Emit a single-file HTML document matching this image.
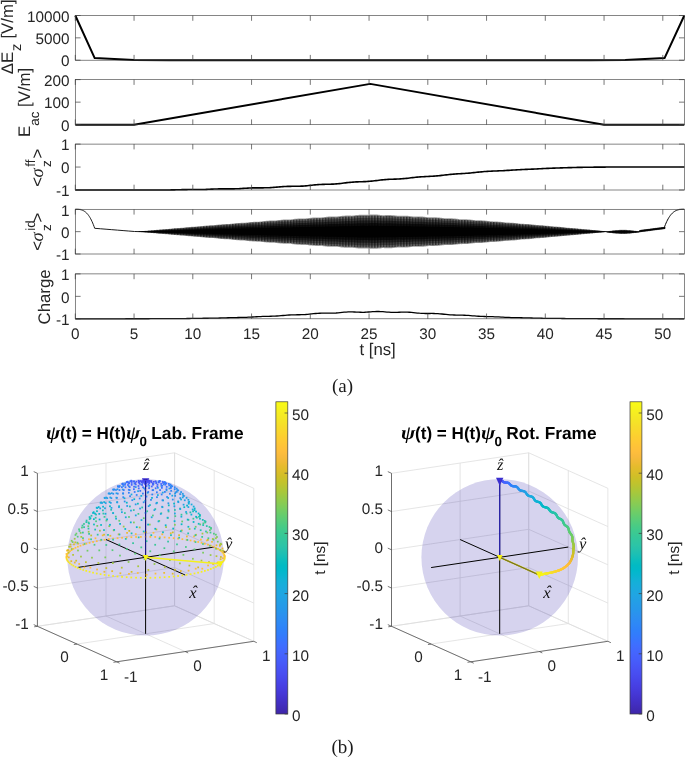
<!DOCTYPE html>
<html><head><meta charset="utf-8"><title>figure</title>
<style>html,body{margin:0;padding:0;background:#fff}svg{display:block}</style></head>
<body><svg width="685" height="757" viewBox="0 0 685 757" font-family="Liberation Sans, sans-serif" text-rendering="geometricPrecision">
<rect width="685" height="757" fill="#fff"/>
<g opacity="0.999">
<defs><pattern id="st" width="2.9" height="100" patternUnits="userSpaceOnUse"><rect width="3" height="100" fill="#676767"/><rect width="1.5" height="100" fill="#303030"/></pattern></defs>
<path d="M75.30 15.50 L94.69 58.05 L134.05 60.07 L169.30 60.20 L589.95 60.20 L625.20 60.07 L664.56 58.05 L684.30 15.50" fill="none" stroke="#000" stroke-width="2.0" stroke-linejoin="round" />
<rect x="75.30" y="15.50" width="609.00" height="44.70" fill="none" stroke="#3c3c3c" stroke-width="0.62"/>
<text x="69.6" y="21.70" text-anchor="end" font-size="15.3" fill="#262626">10000</text>
<text x="69.6" y="44.05" text-anchor="end" font-size="15.3" fill="#262626">5000</text>
<text x="69.6" y="66.40" text-anchor="end" font-size="15.3" fill="#262626">0</text>
<path d="M75.30 15.50v5.30 M75.30 60.20v-5.30 M134.05 15.50v5.30 M134.05 60.20v-5.30 M192.80 15.50v5.30 M192.80 60.20v-5.30 M251.55 15.50v5.30 M251.55 60.20v-5.30 M310.30 15.50v5.30 M310.30 60.20v-5.30 M369.05 15.50v5.30 M369.05 60.20v-5.30 M427.80 15.50v5.30 M427.80 60.20v-5.30 M486.55 15.50v5.30 M486.55 60.20v-5.30 M545.30 15.50v5.30 M545.30 60.20v-5.30 M604.05 15.50v5.30 M604.05 60.20v-5.30 M662.80 15.50v5.30 M662.80 60.20v-5.30 M75.30 15.50h5.30 M684.30 15.50h-5.30 M75.30 37.85h5.30 M684.30 37.85h-5.30 M75.30 60.20h5.30 M684.30 60.20h-5.30 " stroke="#3c3c3c" stroke-width="0.7" fill="none"/>
<path d="M75.30 124.70 L134.05 124.70 L370.23 83.88 L604.05 124.70 L684.30 124.70" fill="none" stroke="#000" stroke-width="2.0" stroke-linejoin="round" />
<rect x="75.30" y="79.60" width="609.00" height="45.10" fill="none" stroke="#3c3c3c" stroke-width="0.62"/>
<text x="69.6" y="85.80" text-anchor="end" font-size="15.3" fill="#262626">200</text>
<text x="69.6" y="108.35" text-anchor="end" font-size="15.3" fill="#262626">100</text>
<text x="69.6" y="130.90" text-anchor="end" font-size="15.3" fill="#262626">0</text>
<path d="M75.30 79.60v5.30 M75.30 124.70v-5.30 M134.05 79.60v5.30 M134.05 124.70v-5.30 M192.80 79.60v5.30 M192.80 124.70v-5.30 M251.55 79.60v5.30 M251.55 124.70v-5.30 M310.30 79.60v5.30 M310.30 124.70v-5.30 M369.05 79.60v5.30 M369.05 124.70v-5.30 M427.80 79.60v5.30 M427.80 124.70v-5.30 M486.55 79.60v5.30 M486.55 124.70v-5.30 M545.30 79.60v5.30 M545.30 124.70v-5.30 M604.05 79.60v5.30 M604.05 124.70v-5.30 M662.80 79.60v5.30 M662.80 124.70v-5.30 M75.30 79.60h5.30 M684.30 79.60h-5.30 M75.30 102.15h5.30 M684.30 102.15h-5.30 M75.30 124.70h5.30 M684.30 124.70h-5.30 " stroke="#3c3c3c" stroke-width="0.7" fill="none"/>
<path d="M75.30 190.00 L76.83 190.00 L78.35 190.00 L79.88 190.00 L81.41 190.00 L82.93 190.00 L84.46 190.00 L85.98 190.00 L87.51 190.00 L89.04 190.00 L90.56 190.00 L92.09 190.00 L93.62 190.00 L95.14 190.00 L96.67 190.00 L98.19 190.00 L99.72 190.00 L101.25 190.00 L102.77 190.00 L104.30 190.00 L105.83 190.00 L107.35 190.00 L108.88 190.00 L110.41 190.00 L111.93 190.00 L113.46 190.00 L114.98 190.00 L116.51 190.00 L118.04 190.00 L119.56 190.00 L121.09 190.00 L122.62 190.00 L124.14 190.00 L125.67 190.00 L127.19 190.00 L128.72 190.00 L130.25 190.00 L131.77 190.00 L133.30 190.00 L134.83 190.00 L136.35 190.00 L137.88 190.00 L139.41 190.00 L140.93 190.00 L142.46 190.00 L143.98 189.99 L145.51 189.98 L147.04 189.98 L148.56 189.97 L150.09 189.96 L151.62 189.96 L153.14 189.95 L154.67 189.95 L156.19 189.95 L157.72 189.95 L159.25 189.96 L160.77 189.96 L162.30 189.96 L163.83 189.96 L165.35 189.96 L166.88 189.96 L168.41 189.95 L169.93 189.93 L171.46 189.91 L172.98 189.89 L174.51 189.86 L176.04 189.82 L177.56 189.78 L179.09 189.74 L180.62 189.69 L182.14 189.66 L183.67 189.62 L185.19 189.60 L186.72 189.58 L188.25 189.56 L189.77 189.56 L191.30 189.55 L192.83 189.56 L194.35 189.56 L195.88 189.56 L197.41 189.56 L198.93 189.55 L200.46 189.54 L201.98 189.51 L203.51 189.47 L205.04 189.43 L206.56 189.37 L208.09 189.31 L209.62 189.24 L211.14 189.17 L212.67 189.10 L214.19 189.03 L215.72 188.98 L217.25 188.93 L218.77 188.89 L220.30 188.87 L221.83 188.86 L223.35 188.85 L224.88 188.86 L226.41 188.87 L227.93 188.87 L229.46 188.88 L230.98 188.88 L232.51 188.87 L234.04 188.84 L235.56 188.80 L237.09 188.75 L238.62 188.68 L240.14 188.60 L241.67 188.50 L243.19 188.41 L244.72 188.31 L246.25 188.21 L247.77 188.12 L249.30 188.04 L250.83 187.97 L252.35 187.92 L253.88 187.88 L255.41 187.86 L256.93 187.84 L258.46 187.84 L259.98 187.84 L261.51 187.84 L263.04 187.83 L264.56 187.82 L266.09 187.79 L267.62 187.74 L269.14 187.68 L270.67 187.59 L272.19 187.49 L273.72 187.38 L275.25 187.25 L276.77 187.11 L278.30 186.98 L279.83 186.84 L281.35 186.72 L282.88 186.61 L284.41 186.52 L285.93 186.45 L287.46 186.39 L288.98 186.35 L290.51 186.33 L292.04 186.32 L293.56 186.31 L295.09 186.30 L296.62 186.29 L298.14 186.26 L299.67 186.22 L301.19 186.16 L302.72 186.08 L304.25 185.97 L305.77 185.84 L307.30 185.70 L308.83 185.54 L310.35 185.37 L311.88 185.20 L313.41 185.04 L314.93 184.89 L316.46 184.75 L317.98 184.63 L319.51 184.53 L321.04 184.46 L322.56 184.39 L324.09 184.35 L325.62 184.32 L327.14 184.29 L328.67 184.26 L330.19 184.22 L331.72 184.17 L333.25 184.10 L334.77 184.01 L336.30 183.89 L337.83 183.76 L339.35 183.60 L340.88 183.43 L342.41 183.24 L343.93 183.04 L345.46 182.85 L346.98 182.66 L348.51 182.49 L350.04 182.33 L351.56 182.19 L353.09 182.08 L354.62 181.98 L356.14 181.90 L357.67 181.84 L359.19 181.79 L360.72 181.75 L362.25 181.70 L363.77 181.65 L365.30 181.58 L366.83 181.50 L368.35 181.40 L369.88 181.28 L371.41 181.13 L372.93 180.97 L374.46 180.80 L375.98 180.61 L377.51 180.42 L379.04 180.23 L380.56 180.05 L382.09 179.89 L383.62 179.73 L385.14 179.60 L386.67 179.49 L388.19 179.40 L389.72 179.32 L391.25 179.26 L392.77 179.21 L394.30 179.17 L395.83 179.12 L397.35 179.06 L398.88 178.99 L400.41 178.90 L401.93 178.80 L403.46 178.67 L404.98 178.53 L406.51 178.37 L408.04 178.19 L409.56 178.01 L411.09 177.82 L412.62 177.64 L414.14 177.46 L415.67 177.29 L417.19 177.13 L418.72 177.00 L420.25 176.88 L421.77 176.77 L423.30 176.68 L424.83 176.61 L426.35 176.54 L427.88 176.47 L429.41 176.40 L430.93 176.32 L432.46 176.24 L433.98 176.14 L435.51 176.02 L437.04 175.89 L438.56 175.74 L440.09 175.58 L441.62 175.40 L443.14 175.23 L444.67 175.04 L446.19 174.87 L447.72 174.69 L449.25 174.53 L450.77 174.37 L452.30 174.23 L453.83 174.11 L455.35 173.99 L456.88 173.89 L458.41 173.80 L459.93 173.71 L461.46 173.62 L462.98 173.53 L464.51 173.43 L466.04 173.32 L467.56 173.21 L469.09 173.08 L470.62 172.94 L472.14 172.79 L473.67 172.64 L475.19 172.47 L476.72 172.31 L478.25 172.14 L479.77 171.99 L481.30 171.84 L482.83 171.70 L484.35 171.57 L485.88 171.46 L487.41 171.36 L488.93 171.27 L490.46 171.19 L491.98 171.12 L493.51 171.05 L495.04 170.99 L496.56 170.93 L498.09 170.88 L499.62 170.82 L501.14 170.75 L502.67 170.68 L504.19 170.60 L505.72 170.51 L507.25 170.42 L508.77 170.33 L510.30 170.23 L511.83 170.13 L513.35 170.04 L514.88 169.94 L516.41 169.85 L517.93 169.77 L519.46 169.69 L520.98 169.61 L522.51 169.54 L524.04 169.48 L525.56 169.41 L527.09 169.35 L528.62 169.29 L530.14 169.23 L531.67 169.16 L533.19 169.10 L534.72 169.02 L536.25 168.95 L537.77 168.87 L539.30 168.80 L540.83 168.72 L542.35 168.64 L543.88 168.56 L545.41 168.48 L546.93 168.41 L548.46 168.34 L549.98 168.27 L551.51 168.21 L553.04 168.15 L554.56 168.10 L556.09 168.04 L557.62 168.00 L559.14 167.95 L560.67 167.90 L562.19 167.85 L563.72 167.80 L565.25 167.76 L566.77 167.71 L568.30 167.66 L569.83 167.62 L571.35 167.58 L572.88 167.53 L574.41 167.49 L575.93 167.46 L577.46 167.42 L578.98 167.39 L580.51 167.36 L582.04 167.33 L583.56 167.30 L585.09 167.28 L586.62 167.26 L588.14 167.24 L589.67 167.22 L591.19 167.21 L592.72 167.19 L594.25 167.17 L595.77 167.16 L597.30 167.14 L598.83 167.13 L600.35 167.11 L601.88 167.10 L603.41 167.09 L604.93 167.08 L606.46 167.07 L607.98 167.07 L609.51 167.06 L611.04 167.06 L612.56 167.05 L614.09 167.05 L615.62 167.05 L617.14 167.05 L618.67 167.05 L620.19 167.05 L621.72 167.05 L623.25 167.05 L624.77 167.05 L626.30 167.05 L627.83 167.05 L629.35 167.05 L630.88 167.05 L632.41 167.05 L633.93 167.05 L635.46 167.05 L636.98 167.05 L638.51 167.05 L640.04 167.05 L641.56 167.05 L643.09 167.05 L644.62 167.05 L646.14 167.05 L647.67 167.05 L649.19 167.05 L650.72 167.05 L652.25 167.05 L653.77 167.05 L655.30 167.05 L656.83 167.05 L658.35 167.05 L659.88 167.05 L661.41 167.05 L662.93 167.05 L664.46 167.05 L665.98 167.05 L667.51 167.05 L669.04 167.05 L670.56 167.05 L672.09 167.05 L673.62 167.05 L675.14 167.05 L676.67 167.05 L678.19 167.05 L679.72 167.05 L681.25 167.05 L682.77 167.05 L684.30 167.05" fill="none" stroke="#000" stroke-width="1.6" stroke-linejoin="round" />
<rect x="75.30" y="144.10" width="609.00" height="45.90" fill="none" stroke="#3c3c3c" stroke-width="0.62"/>
<text x="69.6" y="150.30" text-anchor="end" font-size="15.3" fill="#262626">1</text>
<text x="69.6" y="173.25" text-anchor="end" font-size="15.3" fill="#262626">0</text>
<text x="69.6" y="196.20" text-anchor="end" font-size="15.3" fill="#262626">-1</text>
<path d="M75.30 144.10v5.30 M75.30 190.00v-5.30 M134.05 144.10v5.30 M134.05 190.00v-5.30 M192.80 144.10v5.30 M192.80 190.00v-5.30 M251.55 144.10v5.30 M251.55 190.00v-5.30 M310.30 144.10v5.30 M310.30 190.00v-5.30 M369.05 144.10v5.30 M369.05 190.00v-5.30 M427.80 144.10v5.30 M427.80 190.00v-5.30 M486.55 144.10v5.30 M486.55 190.00v-5.30 M545.30 144.10v5.30 M545.30 190.00v-5.30 M604.05 144.10v5.30 M604.05 190.00v-5.30 M662.80 144.10v5.30 M662.80 190.00v-5.30 M75.30 144.10h5.30 M684.30 144.10h-5.30 M75.30 167.05h5.30 M684.30 167.05h-5.30 M75.30 190.00h5.30 M684.30 190.00h-5.30 " stroke="#3c3c3c" stroke-width="0.7" fill="none"/>
<path d="M138.75 231.20 L139.80 231.20 L140.86 231.20 L141.91 231.13 L142.97 231.04 L144.02 230.95 L145.08 230.86 L146.13 230.77 L147.19 230.68 L148.24 230.59 L149.30 230.50 L150.35 230.41 L151.41 230.33 L152.46 230.24 L153.52 230.15 L154.57 230.05 L155.63 229.95 L156.68 229.86 L157.74 229.76 L158.79 229.67 L159.85 229.57 L160.90 229.48 L161.96 229.40 L163.01 229.31 L164.07 229.23 L165.12 229.15 L166.18 229.07 L167.23 229.00 L168.29 228.90 L169.34 228.80 L170.40 228.70 L171.45 228.59 L172.51 228.49 L173.56 228.40 L174.62 228.30 L175.67 228.21 L176.73 228.12 L177.78 228.04 L178.84 227.96 L179.89 227.89 L180.95 227.82 L182.00 227.75 L183.06 227.68 L184.11 227.57 L185.17 227.46 L186.22 227.35 L187.28 227.24 L188.33 227.14 L189.39 227.04 L190.44 226.95 L191.50 226.86 L192.55 226.78 L193.61 226.70 L194.66 226.63 L195.72 226.57 L196.77 226.51 L197.82 226.45 L198.88 226.36 L199.93 226.24 L200.99 226.13 L202.04 226.01 L203.10 225.91 L204.15 225.80 L205.21 225.70 L206.26 225.61 L207.32 225.53 L208.37 225.46 L209.43 225.39 L210.48 225.33 L211.54 225.27 L212.59 225.22 L213.65 225.18 L214.70 225.06 L215.76 224.94 L216.81 224.82 L217.87 224.70 L218.92 224.59 L219.98 224.49 L221.03 224.39 L222.09 224.31 L223.14 224.23 L224.20 224.17 L225.25 224.11 L226.31 224.06 L227.36 224.02 L228.42 223.98 L229.47 223.91 L230.53 223.78 L231.58 223.65 L232.64 223.53 L233.69 223.41 L234.75 223.30 L235.80 223.20 L236.86 223.12 L237.91 223.04 L238.97 222.97 L240.02 222.92 L241.08 222.87 L242.13 222.83 L243.19 222.80 L244.24 222.77 L245.30 222.66 L246.35 222.53 L247.41 222.40 L248.46 222.27 L249.52 222.16 L250.57 222.05 L251.63 221.96 L252.68 221.88 L253.74 221.81 L254.79 221.75 L255.84 221.71 L256.90 221.67 L257.95 221.65 L259.01 221.63 L260.06 221.59 L261.12 221.45 L262.17 221.31 L263.23 221.18 L264.28 221.06 L265.34 220.94 L266.39 220.84 L267.45 220.76 L268.50 220.68 L269.56 220.62 L270.61 220.58 L271.67 220.55 L272.72 220.53 L273.78 220.51 L274.83 220.50 L275.89 220.41 L276.94 220.27 L278.00 220.13 L279.05 220.00 L280.11 219.88 L281.16 219.77 L282.22 219.68 L283.27 219.60 L284.33 219.54 L285.38 219.49 L286.44 219.46 L287.49 219.44 L288.55 219.43 L289.60 219.43 L290.66 219.43 L291.71 219.28 L292.77 219.14 L293.82 219.00 L294.88 218.87 L295.93 218.76 L296.99 218.65 L298.04 218.57 L299.10 218.50 L300.15 218.45 L301.21 218.42 L302.26 218.40 L303.32 218.39 L304.37 218.39 L305.43 218.41 L306.48 218.35 L307.54 218.20 L308.59 218.05 L309.65 217.92 L310.70 217.79 L311.76 217.68 L312.81 217.59 L313.87 217.51 L314.92 217.46 L315.97 217.42 L317.03 217.40 L318.08 217.39 L319.14 217.40 L320.19 217.42 L321.25 217.44 L322.30 217.31 L323.36 217.16 L324.41 217.02 L325.47 216.88 L326.52 216.77 L327.58 216.66 L328.63 216.58 L329.69 216.52 L330.74 216.47 L331.80 216.45 L332.85 216.44 L333.91 216.45 L334.96 216.47 L336.02 216.50 L337.07 216.48 L338.13 216.33 L339.18 216.18 L340.24 216.04 L341.29 215.91 L342.35 215.80 L343.40 215.71 L344.46 215.63 L345.51 215.58 L346.57 215.55 L347.62 215.54 L348.68 215.55 L349.73 215.57 L350.79 215.61 L351.84 215.65 L352.90 215.55 L353.95 215.40 L355.01 215.25 L356.06 215.11 L357.12 214.99 L358.17 214.89 L359.23 214.81 L360.28 214.75 L361.34 214.71 L362.39 214.70 L363.45 214.70 L364.50 214.73 L365.56 214.76 L366.61 214.81 L367.67 214.83 L368.72 214.67 L369.78 214.58 L370.83 214.53 L371.89 214.49 L372.94 214.46 L373.99 214.46 L375.05 214.48 L376.10 214.53 L377.16 214.59 L378.21 214.68 L379.27 214.79 L380.32 214.91 L381.38 215.04 L382.43 215.18 L383.49 215.21 L384.54 215.15 L385.60 215.10 L386.65 215.06 L387.71 215.03 L388.76 215.03 L389.82 215.04 L390.87 215.08 L391.93 215.14 L392.98 215.22 L394.04 215.32 L395.09 215.44 L396.15 215.57 L397.20 215.71 L398.26 215.85 L399.31 215.80 L400.37 215.76 L401.42 215.72 L402.48 215.69 L403.53 215.69 L404.59 215.70 L405.64 215.73 L406.70 215.78 L407.75 215.86 L408.81 215.95 L409.86 216.06 L410.92 216.19 L411.97 216.32 L413.03 216.47 L414.08 216.54 L415.14 216.50 L416.19 216.47 L417.25 216.44 L418.30 216.43 L419.36 216.44 L420.41 216.47 L421.47 216.52 L422.52 216.59 L423.58 216.67 L424.63 216.78 L425.69 216.90 L426.74 217.03 L427.80 217.17 L428.85 217.32 L429.91 217.32 L430.96 217.30 L432.01 217.28 L433.07 217.27 L434.12 217.28 L435.18 217.30 L436.23 217.35 L437.29 217.41 L438.34 217.49 L439.40 217.59 L440.45 217.70 L441.51 217.83 L442.56 217.97 L443.62 218.11 L444.67 218.22 L445.73 218.20 L446.78 218.19 L447.84 218.18 L448.89 218.19 L449.95 218.22 L451.00 218.26 L452.06 218.32 L453.11 218.39 L454.17 218.48 L455.22 218.59 L456.28 218.71 L457.33 218.85 L458.39 218.99 L459.44 219.13 L460.50 219.18 L461.55 219.17 L462.61 219.18 L463.66 219.19 L464.72 219.21 L465.77 219.25 L466.83 219.30 L467.88 219.38 L468.94 219.46 L469.99 219.56 L471.05 219.68 L472.10 219.81 L473.16 219.94 L474.21 220.09 L475.27 220.22 L476.32 220.23 L477.38 220.23 L478.43 220.25 L479.49 220.28 L480.54 220.32 L481.60 220.37 L482.65 220.44 L483.71 220.52 L484.76 220.61 L485.82 220.72 L486.87 220.85 L487.93 220.98 L488.98 221.11 L490.03 221.26 L491.09 221.34 L492.14 221.35 L493.20 221.38 L494.25 221.41 L495.31 221.45 L496.36 221.50 L497.42 221.57 L498.47 221.65 L499.53 221.74 L500.58 221.84 L501.64 221.96 L502.69 222.08 L503.75 222.21 L504.80 222.35 L505.86 222.49 L506.91 222.53 L507.97 222.56 L509.02 222.59 L510.08 222.64 L511.13 222.69 L512.19 222.76 L513.24 222.83 L514.30 222.92 L515.35 223.02 L516.41 223.13 L517.46 223.25 L518.52 223.38 L519.57 223.51 L520.63 223.64 L521.68 223.74 L522.74 223.78 L523.79 223.83 L524.85 223.88 L525.90 223.94 L526.96 224.00 L528.01 224.08 L529.07 224.16 L530.12 224.26 L531.18 224.36 L532.23 224.48 L533.29 224.60 L534.34 224.72 L535.40 224.85 L536.45 224.98 L537.51 225.05 L538.56 225.10 L539.62 225.16 L540.67 225.22 L541.73 225.29 L542.78 225.37 L543.84 225.45 L544.89 225.55 L545.95 225.65 L547.00 225.75 L548.06 225.87 L549.11 225.99 L550.16 226.11 L551.22 226.23 L552.27 226.34 L553.33 226.41 L554.38 226.47 L555.44 226.54 L556.49 226.61 L557.55 226.69 L558.60 226.78 L559.66 226.87 L560.71 226.97 L561.77 227.07 L562.82 227.18 L563.88 227.29 L564.93 227.41 L565.99 227.52 L567.04 227.64 L568.10 227.73 L569.15 227.80 L570.21 227.88 L571.26 227.96 L572.32 228.04 L573.37 228.13 L574.43 228.22 L575.48 228.32 L576.54 228.42 L577.59 228.52 L578.65 228.63 L579.70 228.74 L580.76 228.85 L581.81 228.96 L582.87 229.07 L583.92 229.15 L584.98 229.23 L586.03 229.32 L587.09 229.41 L588.14 229.50 L589.20 229.60 L590.25 229.69 L591.31 229.79 L592.36 229.89 L593.42 229.99 L594.47 230.10 L595.53 230.20 L596.58 230.30 L597.64 230.40 L598.69 230.50 L599.75 230.59 L600.80 230.69 L601.86 230.78 L602.91 230.88 L603.97 230.98 L605.02 231.07 L606.08 231.17 L607.13 231.31 L608.18 231.14 L609.24 230.98 L610.29 230.82 L611.35 230.66 L612.40 230.52 L613.46 230.38 L614.51 230.25 L615.57 230.14 L616.62 230.04 L617.68 229.95 L618.73 229.88 L619.79 229.82 L620.84 229.78 L621.90 229.76 L622.95 229.75 L624.01 229.76 L625.06 229.79 L626.12 229.83 L627.17 229.89 L628.23 229.97 L629.28 230.06 L630.34 230.16 L631.39 230.28 L632.45 230.41 L633.50 230.55 L634.56 230.69 L635.61 230.85 L636.67 231.01 L637.72 231.17 L638.78 231.34 L639.83 229.90 L640.89 229.77 L641.94 229.63 L643.00 229.49 L644.05 229.36 L645.11 229.22 L646.16 229.08 L647.22 228.95 L648.27 228.81 L649.33 228.67 L650.38 228.54 L651.44 228.40 L652.49 228.26 L653.55 228.13 L654.60 227.99 L655.66 227.85 L656.71 227.72 L657.77 227.58 L658.82 227.44 L659.88 227.31 L660.93 227.17 L661.99 227.03 L663.04 226.89 L664.10 226.76 L665.15 226.62 L665.15 229.08 L664.10 229.22 L663.04 229.35 L661.99 229.49 L660.93 229.63 L659.88 229.76 L658.82 229.90 L657.77 230.04 L656.71 230.17 L655.66 230.31 L654.60 230.45 L653.55 230.58 L652.49 230.72 L651.44 230.86 L650.38 231.00 L649.33 231.13 L648.27 231.27 L647.22 231.41 L646.16 231.54 L645.11 231.68 L644.05 231.82 L643.00 231.95 L641.94 232.09 L640.89 232.23 L639.83 232.36 L638.78 232.40 L637.72 232.57 L636.67 232.74 L635.61 232.90 L634.56 233.05 L633.50 233.20 L632.45 233.34 L631.39 233.47 L630.34 233.59 L629.28 233.69 L628.23 233.78 L627.17 233.86 L626.12 233.92 L625.06 233.96 L624.01 233.99 L622.95 234.00 L621.90 233.99 L620.84 233.97 L619.79 233.93 L618.73 233.87 L617.68 233.80 L616.62 233.71 L615.57 233.61 L614.51 233.49 L613.46 233.37 L612.40 233.23 L611.35 233.08 L610.29 232.93 L609.24 232.77 L608.18 232.60 L607.13 232.44 L606.08 232.13 L605.02 232.23 L603.97 232.32 L602.91 232.42 L601.86 232.52 L600.80 232.61 L599.75 232.71 L598.69 232.80 L597.64 232.90 L596.58 233.00 L595.53 233.10 L594.47 233.20 L593.42 233.31 L592.36 233.41 L591.31 233.51 L590.25 233.61 L589.20 233.70 L588.14 233.80 L587.09 233.89 L586.03 233.98 L584.98 234.07 L583.92 234.15 L582.87 234.23 L581.81 234.34 L580.76 234.45 L579.70 234.56 L578.65 234.67 L577.59 234.78 L576.54 234.88 L575.48 234.98 L574.43 235.08 L573.37 235.17 L572.32 235.26 L571.26 235.34 L570.21 235.42 L569.15 235.50 L568.10 235.57 L567.04 235.66 L565.99 235.78 L564.93 235.89 L563.88 236.01 L562.82 236.12 L561.77 236.23 L560.71 236.33 L559.66 236.43 L558.60 236.52 L557.55 236.61 L556.49 236.69 L555.44 236.76 L554.38 236.83 L553.33 236.89 L552.27 236.96 L551.22 237.07 L550.16 237.19 L549.11 237.31 L548.06 237.43 L547.00 237.55 L545.95 237.65 L544.89 237.75 L543.84 237.85 L542.78 237.93 L541.73 238.01 L540.67 238.08 L539.62 238.14 L538.56 238.20 L537.51 238.25 L536.45 238.32 L535.40 238.45 L534.34 238.58 L533.29 238.70 L532.23 238.82 L531.18 238.94 L530.12 239.04 L529.07 239.14 L528.01 239.22 L526.96 239.30 L525.90 239.36 L524.85 239.42 L523.79 239.47 L522.74 239.52 L521.68 239.56 L520.63 239.66 L519.57 239.79 L518.52 239.92 L517.46 240.05 L516.41 240.17 L515.35 240.28 L514.30 240.38 L513.24 240.47 L512.19 240.54 L511.13 240.61 L510.08 240.66 L509.02 240.71 L507.97 240.74 L506.91 240.77 L505.86 240.81 L504.80 240.95 L503.75 241.09 L502.69 241.22 L501.64 241.34 L500.58 241.46 L499.53 241.56 L498.47 241.65 L497.42 241.73 L496.36 241.80 L495.31 241.85 L494.25 241.89 L493.20 241.92 L492.14 241.95 L491.09 241.96 L490.03 242.04 L488.98 242.19 L487.93 242.32 L486.87 242.45 L485.82 242.58 L484.76 242.69 L483.71 242.78 L482.65 242.86 L481.60 242.93 L480.54 242.98 L479.49 243.02 L478.43 243.05 L477.38 243.07 L476.32 243.07 L475.27 243.08 L474.21 243.21 L473.16 243.36 L472.10 243.49 L471.05 243.62 L469.99 243.74 L468.94 243.84 L467.88 243.92 L466.83 244.00 L465.77 244.05 L464.72 244.09 L463.66 244.11 L462.61 244.12 L461.55 244.13 L460.50 244.12 L459.44 244.17 L458.39 244.31 L457.33 244.45 L456.28 244.59 L455.22 244.71 L454.17 244.82 L453.11 244.91 L452.06 244.98 L451.00 245.04 L449.95 245.08 L448.89 245.11 L447.84 245.12 L446.78 245.11 L445.73 245.10 L444.67 245.08 L443.62 245.19 L442.56 245.33 L441.51 245.47 L440.45 245.60 L439.40 245.71 L438.34 245.81 L437.29 245.89 L436.23 245.95 L435.18 246.00 L434.12 246.02 L433.07 246.03 L432.01 246.02 L430.96 246.00 L429.91 245.98 L428.85 245.98 L427.80 246.13 L426.74 246.27 L425.69 246.40 L424.63 246.52 L423.58 246.63 L422.52 246.71 L421.47 246.78 L420.41 246.83 L419.36 246.86 L418.30 246.87 L417.25 246.86 L416.19 246.83 L415.14 246.80 L414.08 246.76 L413.03 246.83 L411.97 246.98 L410.92 247.11 L409.86 247.24 L408.81 247.35 L407.75 247.44 L406.70 247.52 L405.64 247.57 L404.59 247.60 L403.53 247.61 L402.48 247.61 L401.42 247.58 L400.37 247.54 L399.31 247.50 L398.26 247.45 L397.20 247.59 L396.15 247.73 L395.09 247.86 L394.04 247.98 L392.98 248.08 L391.93 248.16 L390.87 248.22 L389.82 248.26 L388.76 248.27 L387.71 248.27 L386.65 248.24 L385.60 248.20 L384.54 248.15 L383.49 248.09 L382.43 248.12 L381.38 248.26 L380.32 248.39 L379.27 248.51 L378.21 248.62 L377.16 248.71 L376.10 248.77 L375.05 248.82 L373.99 248.84 L372.94 248.84 L371.89 248.81 L370.83 248.77 L369.78 248.72 L368.72 248.63 L367.67 248.47 L366.61 248.49 L365.56 248.54 L364.50 248.57 L363.45 248.60 L362.39 248.60 L361.34 248.59 L360.28 248.55 L359.23 248.49 L358.17 248.41 L357.12 248.31 L356.06 248.19 L355.01 248.05 L353.95 247.90 L352.90 247.75 L351.84 247.65 L350.79 247.69 L349.73 247.73 L348.68 247.75 L347.62 247.76 L346.57 247.75 L345.51 247.72 L344.46 247.67 L343.40 247.59 L342.35 247.50 L341.29 247.39 L340.24 247.26 L339.18 247.12 L338.13 246.97 L337.07 246.82 L336.02 246.80 L334.96 246.83 L333.91 246.85 L332.85 246.86 L331.80 246.85 L330.74 246.83 L329.69 246.78 L328.63 246.72 L327.58 246.64 L326.52 246.53 L325.47 246.42 L324.41 246.28 L323.36 246.14 L322.30 245.99 L321.25 245.86 L320.19 245.88 L319.14 245.90 L318.08 245.91 L317.03 245.90 L315.97 245.88 L314.92 245.84 L313.87 245.79 L312.81 245.71 L311.76 245.62 L310.70 245.51 L309.65 245.38 L308.59 245.25 L307.54 245.10 L306.48 244.95 L305.43 244.89 L304.37 244.91 L303.32 244.91 L302.26 244.90 L301.21 244.88 L300.15 244.85 L299.10 244.80 L298.04 244.73 L296.99 244.65 L295.93 244.54 L294.88 244.43 L293.82 244.30 L292.77 244.16 L291.71 244.02 L290.66 243.87 L289.60 243.87 L288.55 243.87 L287.49 243.86 L286.44 243.84 L285.38 243.81 L284.33 243.76 L283.27 243.70 L282.22 243.62 L281.16 243.53 L280.11 243.42 L279.05 243.30 L278.00 243.17 L276.94 243.03 L275.89 242.89 L274.83 242.80 L273.78 242.79 L272.72 242.77 L271.67 242.75 L270.61 242.72 L269.56 242.68 L268.50 242.62 L267.45 242.54 L266.39 242.46 L265.34 242.36 L264.28 242.24 L263.23 242.12 L262.17 241.99 L261.12 241.85 L260.06 241.71 L259.01 241.67 L257.95 241.65 L256.90 241.63 L255.84 241.59 L254.79 241.55 L253.74 241.49 L252.68 241.42 L251.63 241.34 L250.57 241.25 L249.52 241.14 L248.46 241.03 L247.41 240.90 L246.35 240.77 L245.30 240.64 L244.24 240.53 L243.19 240.50 L242.13 240.47 L241.08 240.43 L240.02 240.38 L238.97 240.33 L237.91 240.26 L236.86 240.18 L235.80 240.10 L234.75 240.00 L233.69 239.89 L232.64 239.77 L231.58 239.65 L230.53 239.52 L229.47 239.39 L228.42 239.32 L227.36 239.28 L226.31 239.24 L225.25 239.19 L224.20 239.13 L223.14 239.07 L222.09 238.99 L221.03 238.91 L219.98 238.81 L218.92 238.71 L217.87 238.60 L216.81 238.48 L215.76 238.36 L214.70 238.24 L213.65 238.12 L212.59 238.08 L211.54 238.03 L210.48 237.97 L209.43 237.91 L208.37 237.84 L207.32 237.77 L206.26 237.69 L205.21 237.60 L204.15 237.50 L203.10 237.39 L202.04 237.29 L200.99 237.17 L199.93 237.06 L198.88 236.94 L197.82 236.85 L196.77 236.79 L195.72 236.73 L194.66 236.67 L193.61 236.60 L192.55 236.52 L191.50 236.44 L190.44 236.35 L189.39 236.26 L188.33 236.16 L187.28 236.06 L186.22 235.95 L185.17 235.84 L184.11 235.73 L183.06 235.62 L182.00 235.55 L180.95 235.48 L179.89 235.41 L178.84 235.34 L177.78 235.26 L176.73 235.18 L175.67 235.09 L174.62 235.00 L173.56 234.90 L172.51 234.81 L171.45 234.71 L170.40 234.60 L169.34 234.50 L168.29 234.40 L167.23 234.30 L166.18 234.23 L165.12 234.15 L164.07 234.07 L163.01 233.99 L161.96 233.90 L160.90 233.82 L159.85 233.73 L158.79 233.63 L157.74 233.54 L156.68 233.44 L155.63 233.35 L154.57 233.25 L153.52 233.15 L152.46 233.06 L151.41 232.97 L150.35 232.89 L149.30 232.80 L148.24 232.71 L147.19 232.62 L146.13 232.53 L145.08 232.44 L144.02 232.35 L142.97 232.26 L141.91 232.17 L140.86 232.10 L139.80 232.10 L138.75 232.10Z" fill="#9a9a9a"/>
<path d="M138.75 231.38 L139.80 231.38 L140.86 231.38 L141.91 231.31 L142.97 231.23 L144.02 231.14 L145.08 231.05 L146.13 230.97 L147.19 230.88 L148.24 230.80 L149.30 230.71 L150.35 230.63 L151.41 230.55 L152.46 230.47 L153.52 230.38 L154.57 230.29 L155.63 230.20 L156.68 230.10 L157.74 230.01 L158.79 229.92 L159.85 229.84 L160.90 229.75 L161.96 229.67 L163.01 229.59 L164.07 229.51 L165.12 229.43 L166.18 229.36 L167.23 229.29 L168.29 229.20 L169.34 229.10 L170.40 229.00 L171.45 228.90 L172.51 228.81 L173.56 228.71 L174.62 228.62 L175.67 228.54 L176.73 228.45 L177.78 228.38 L178.84 228.30 L179.89 228.23 L180.95 228.16 L182.00 228.10 L183.06 228.03 L184.11 227.93 L185.17 227.82 L186.22 227.72 L187.28 227.62 L188.33 227.52 L189.39 227.43 L190.44 227.34 L191.50 227.25 L192.55 227.18 L193.61 227.11 L194.66 227.04 L195.72 226.98 L196.77 226.92 L197.82 226.87 L198.88 226.78 L199.93 226.67 L200.99 226.56 L202.04 226.45 L203.10 226.35 L204.15 226.25 L205.21 226.16 L206.26 226.07 L207.32 225.99 L208.37 225.92 L209.43 225.86 L210.48 225.80 L211.54 225.75 L212.59 225.70 L213.65 225.66 L214.70 225.55 L215.76 225.43 L216.81 225.31 L217.87 225.20 L218.92 225.10 L219.98 225.00 L221.03 224.91 L222.09 224.83 L223.14 224.76 L224.20 224.70 L225.25 224.64 L226.31 224.60 L227.36 224.56 L228.42 224.52 L229.47 224.45 L230.53 224.33 L231.58 224.21 L232.64 224.09 L233.69 223.98 L234.75 223.88 L235.80 223.78 L236.86 223.70 L237.91 223.63 L238.97 223.56 L240.02 223.51 L241.08 223.46 L242.13 223.43 L243.19 223.40 L244.24 223.37 L245.30 223.27 L246.35 223.14 L247.41 223.02 L248.46 222.90 L249.52 222.79 L250.57 222.69 L251.63 222.60 L252.68 222.52 L253.74 222.46 L254.79 222.40 L255.84 222.36 L256.90 222.33 L257.95 222.30 L259.01 222.28 L260.06 222.25 L261.12 222.11 L262.17 221.98 L263.23 221.86 L264.28 221.74 L265.34 221.64 L266.39 221.54 L267.45 221.46 L268.50 221.39 L269.56 221.33 L270.61 221.29 L271.67 221.26 L272.72 221.24 L273.78 221.23 L274.83 221.22 L275.89 221.13 L276.94 221.00 L278.00 220.87 L279.05 220.74 L280.11 220.63 L281.16 220.52 L282.22 220.44 L283.27 220.36 L284.33 220.30 L285.38 220.26 L286.44 220.23 L287.49 220.21 L288.55 220.20 L289.60 220.20 L290.66 220.20 L291.71 220.06 L292.77 219.92 L293.82 219.79 L294.88 219.67 L295.93 219.56 L296.99 219.46 L298.04 219.38 L299.10 219.31 L300.15 219.27 L301.21 219.23 L302.26 219.22 L303.32 219.21 L304.37 219.21 L305.43 219.22 L306.48 219.17 L307.54 219.03 L308.59 218.89 L309.65 218.76 L310.70 218.64 L311.76 218.54 L312.81 218.45 L313.87 218.38 L314.92 218.32 L315.97 218.29 L317.03 218.27 L318.08 218.26 L319.14 218.27 L320.19 218.29 L321.25 218.31 L322.30 218.18 L323.36 218.04 L324.41 217.90 L325.47 217.78 L326.52 217.67 L327.58 217.57 L328.63 217.49 L329.69 217.43 L330.74 217.39 L331.80 217.37 L332.85 217.36 L333.91 217.37 L334.96 217.39 L336.02 217.42 L337.07 217.40 L338.13 217.25 L339.18 217.11 L340.24 216.97 L341.29 216.85 L342.35 216.75 L343.40 216.66 L344.46 216.59 L345.51 216.54 L346.57 216.51 L347.62 216.51 L348.68 216.51 L349.73 216.53 L350.79 216.57 L351.84 216.61 L352.90 216.51 L353.95 216.36 L355.01 216.22 L356.06 216.10 L357.12 215.98 L358.17 215.88 L359.23 215.81 L360.28 215.75 L361.34 215.72 L362.39 215.70 L363.45 215.71 L364.50 215.73 L365.56 215.76 L366.61 215.81 L367.67 215.83 L368.72 215.68 L369.78 215.59 L370.83 215.54 L371.89 215.50 L372.94 215.48 L373.99 215.48 L375.05 215.50 L376.10 215.54 L377.16 215.60 L378.21 215.69 L379.27 215.79 L380.32 215.90 L381.38 216.03 L382.43 216.16 L383.49 216.19 L384.54 216.13 L385.60 216.08 L386.65 216.04 L387.71 216.02 L388.76 216.01 L389.82 216.03 L390.87 216.07 L391.93 216.12 L392.98 216.20 L394.04 216.29 L395.09 216.41 L396.15 216.53 L397.20 216.66 L398.26 216.80 L399.31 216.75 L400.37 216.71 L401.42 216.67 L402.48 216.65 L403.53 216.64 L404.59 216.65 L405.64 216.68 L406.70 216.73 L407.75 216.80 L408.81 216.89 L409.86 217.00 L410.92 217.12 L411.97 217.25 L413.03 217.38 L414.08 217.45 L415.14 217.41 L416.19 217.38 L417.25 217.36 L418.30 217.35 L419.36 217.36 L420.41 217.39 L421.47 217.43 L422.52 217.50 L423.58 217.58 L424.63 217.68 L425.69 217.79 L426.74 217.92 L427.80 218.05 L428.85 218.19 L429.91 218.20 L430.96 218.17 L432.01 218.15 L433.07 218.15 L434.12 218.15 L435.18 218.18 L436.23 218.22 L437.29 218.28 L438.34 218.35 L439.40 218.45 L440.45 218.56 L441.51 218.68 L442.56 218.81 L443.62 218.94 L444.67 219.05 L445.73 219.03 L446.78 219.02 L447.84 219.01 L448.89 219.02 L449.95 219.05 L451.00 219.08 L452.06 219.14 L453.11 219.21 L454.17 219.30 L455.22 219.40 L456.28 219.52 L457.33 219.64 L458.39 219.78 L459.44 219.91 L460.50 219.96 L461.55 219.95 L462.61 219.96 L463.66 219.97 L464.72 219.99 L465.77 220.03 L466.83 220.08 L467.88 220.15 L468.94 220.23 L469.99 220.33 L471.05 220.44 L472.10 220.56 L473.16 220.69 L474.21 220.82 L475.27 220.95 L476.32 220.95 L477.38 220.96 L478.43 220.98 L479.49 221.00 L480.54 221.04 L481.60 221.09 L482.65 221.15 L483.71 221.23 L484.76 221.32 L485.82 221.43 L486.87 221.54 L487.93 221.67 L488.98 221.80 L490.03 221.93 L491.09 222.01 L492.14 222.02 L493.20 222.05 L494.25 222.08 L495.31 222.11 L496.36 222.16 L497.42 222.23 L498.47 222.30 L499.53 222.39 L500.58 222.49 L501.64 222.60 L502.69 222.72 L503.75 222.84 L504.80 222.97 L505.86 223.10 L506.91 223.14 L507.97 223.17 L509.02 223.20 L510.08 223.25 L511.13 223.30 L512.19 223.36 L513.24 223.43 L514.30 223.52 L515.35 223.61 L516.41 223.71 L517.46 223.83 L518.52 223.95 L519.57 224.07 L520.63 224.20 L521.68 224.30 L522.74 224.33 L523.79 224.38 L524.85 224.42 L525.90 224.48 L526.96 224.54 L528.01 224.61 L529.07 224.70 L530.12 224.79 L531.18 224.89 L532.23 224.99 L533.29 225.11 L534.34 225.22 L535.40 225.35 L536.45 225.47 L537.51 225.54 L538.56 225.59 L539.62 225.64 L540.67 225.70 L541.73 225.77 L542.78 225.84 L543.84 225.92 L544.89 226.01 L545.95 226.10 L547.00 226.21 L548.06 226.31 L549.11 226.43 L550.16 226.54 L551.22 226.66 L552.27 226.77 L553.33 226.82 L554.38 226.89 L555.44 226.95 L556.49 227.02 L557.55 227.10 L558.60 227.18 L559.66 227.27 L560.71 227.36 L561.77 227.46 L562.82 227.56 L563.88 227.67 L564.93 227.78 L565.99 227.89 L567.04 228.00 L568.10 228.08 L569.15 228.15 L570.21 228.23 L571.26 228.30 L572.32 228.38 L573.37 228.46 L574.43 228.55 L575.48 228.64 L576.54 228.74 L577.59 228.84 L578.65 228.94 L579.70 229.04 L580.76 229.15 L581.81 229.25 L582.87 229.35 L583.92 229.43 L584.98 229.51 L586.03 229.59 L587.09 229.68 L588.14 229.77 L589.20 229.85 L590.25 229.95 L591.31 230.04 L592.36 230.14 L593.42 230.23 L594.47 230.33 L595.53 230.43 L596.58 230.53 L597.64 230.62 L598.69 230.71 L599.75 230.80 L600.80 230.89 L601.86 230.98 L602.91 231.07 L603.97 231.17 L605.02 231.26 L606.08 231.35 L607.13 231.49 L608.18 231.34 L609.24 231.18 L610.29 231.03 L611.35 230.88 L612.40 230.74 L613.46 230.61 L614.51 230.49 L615.57 230.38 L616.62 230.29 L617.68 230.20 L618.73 230.13 L619.79 230.08 L620.84 230.04 L621.90 230.02 L622.95 230.01 L624.01 230.02 L625.06 230.05 L626.12 230.09 L627.17 230.15 L628.23 230.22 L629.28 230.30 L630.34 230.40 L631.39 230.51 L632.45 230.64 L633.50 230.77 L634.56 230.91 L635.61 231.06 L636.67 231.21 L637.72 231.37 L638.78 231.53 L639.83 230.12 L640.89 229.99 L641.94 229.85 L643.00 229.71 L644.05 229.58 L645.11 229.44 L646.16 229.30 L647.22 229.16 L648.27 229.03 L649.33 228.89 L650.38 228.75 L651.44 228.62 L652.49 228.48 L653.55 228.34 L654.60 228.21 L655.66 228.07 L656.71 227.93 L657.77 227.80 L658.82 227.66 L659.88 227.52 L660.93 227.39 L661.99 227.25 L663.04 227.11 L664.10 226.98 L665.15 226.84 L665.15 228.86 L664.10 229.00 L663.04 229.14 L661.99 229.27 L660.93 229.41 L659.88 229.55 L658.82 229.68 L657.77 229.82 L656.71 229.96 L655.66 230.09 L654.60 230.23 L653.55 230.37 L652.49 230.50 L651.44 230.64 L650.38 230.78 L649.33 230.91 L648.27 231.05 L647.22 231.19 L646.16 231.32 L645.11 231.46 L644.05 231.60 L643.00 231.73 L641.94 231.87 L640.89 232.01 L639.83 232.15 L638.78 232.22 L637.72 232.38 L636.67 232.54 L635.61 232.69 L634.56 232.84 L633.50 232.98 L632.45 233.11 L631.39 233.23 L630.34 233.34 L629.28 233.44 L628.23 233.53 L627.17 233.60 L626.12 233.66 L625.06 233.70 L624.01 233.72 L622.95 233.73 L621.90 233.73 L620.84 233.71 L619.79 233.67 L618.73 233.61 L617.68 233.54 L616.62 233.46 L615.57 233.36 L614.51 233.26 L613.46 233.14 L612.40 233.01 L611.35 232.87 L610.29 232.72 L609.24 232.57 L608.18 232.41 L607.13 232.25 L606.08 231.95 L605.02 232.04 L603.97 232.13 L602.91 232.23 L601.86 232.32 L600.80 232.41 L599.75 232.50 L598.69 232.59 L597.64 232.68 L596.58 232.77 L595.53 232.87 L594.47 232.97 L593.42 233.07 L592.36 233.16 L591.31 233.26 L590.25 233.35 L589.20 233.45 L588.14 233.53 L587.09 233.62 L586.03 233.71 L584.98 233.79 L583.92 233.87 L582.87 233.95 L581.81 234.05 L580.76 234.15 L579.70 234.26 L578.65 234.36 L577.59 234.46 L576.54 234.56 L575.48 234.66 L574.43 234.75 L573.37 234.84 L572.32 234.92 L571.26 235.00 L570.21 235.07 L569.15 235.15 L568.10 235.22 L567.04 235.30 L565.99 235.41 L564.93 235.52 L563.88 235.63 L562.82 235.74 L561.77 235.84 L560.71 235.94 L559.66 236.03 L558.60 236.12 L557.55 236.20 L556.49 236.28 L555.44 236.35 L554.38 236.41 L553.33 236.48 L552.27 236.53 L551.22 236.64 L550.16 236.76 L549.11 236.87 L548.06 236.99 L547.00 237.09 L545.95 237.20 L544.89 237.29 L543.84 237.38 L542.78 237.46 L541.73 237.53 L540.67 237.60 L539.62 237.66 L538.56 237.71 L537.51 237.76 L536.45 237.83 L535.40 237.95 L534.34 238.08 L533.29 238.19 L532.23 238.31 L531.18 238.41 L530.12 238.51 L529.07 238.60 L528.01 238.69 L526.96 238.76 L525.90 238.82 L524.85 238.88 L523.79 238.92 L522.74 238.97 L521.68 239.00 L520.63 239.10 L519.57 239.23 L518.52 239.35 L517.46 239.47 L516.41 239.59 L515.35 239.69 L514.30 239.78 L513.24 239.87 L512.19 239.94 L511.13 240.00 L510.08 240.05 L509.02 240.10 L507.97 240.13 L506.91 240.16 L505.86 240.20 L504.80 240.33 L503.75 240.46 L502.69 240.58 L501.64 240.70 L500.58 240.81 L499.53 240.91 L498.47 241.00 L497.42 241.07 L496.36 241.14 L495.31 241.19 L494.25 241.22 L493.20 241.25 L492.14 241.28 L491.09 241.29 L490.03 241.37 L488.98 241.50 L487.93 241.63 L486.87 241.76 L485.82 241.87 L484.76 241.98 L483.71 242.07 L482.65 242.15 L481.60 242.21 L480.54 242.26 L479.49 242.30 L478.43 242.32 L477.38 242.34 L476.32 242.35 L475.27 242.35 L474.21 242.48 L473.16 242.61 L472.10 242.74 L471.05 242.86 L469.99 242.97 L468.94 243.07 L467.88 243.15 L466.83 243.22 L465.77 243.27 L464.72 243.31 L463.66 243.33 L462.61 243.34 L461.55 243.35 L460.50 243.34 L459.44 243.39 L458.39 243.52 L457.33 243.66 L456.28 243.78 L455.22 243.90 L454.17 244.00 L453.11 244.09 L452.06 244.16 L451.00 244.22 L449.95 244.25 L448.89 244.28 L447.84 244.29 L446.78 244.28 L445.73 244.27 L444.67 244.25 L443.62 244.36 L442.56 244.49 L441.51 244.62 L440.45 244.74 L439.40 244.85 L438.34 244.95 L437.29 245.02 L436.23 245.08 L435.18 245.12 L434.12 245.15 L433.07 245.15 L432.01 245.15 L430.96 245.13 L429.91 245.10 L428.85 245.11 L427.80 245.25 L426.74 245.38 L425.69 245.51 L424.63 245.62 L423.58 245.72 L422.52 245.80 L421.47 245.87 L420.41 245.91 L419.36 245.94 L418.30 245.95 L417.25 245.94 L416.19 245.92 L415.14 245.89 L414.08 245.85 L413.03 245.92 L411.97 246.05 L410.92 246.18 L409.86 246.30 L408.81 246.41 L407.75 246.50 L406.70 246.57 L405.64 246.62 L404.59 246.65 L403.53 246.66 L402.48 246.65 L401.42 246.63 L400.37 246.59 L399.31 246.55 L398.26 246.50 L397.20 246.64 L396.15 246.77 L395.09 246.89 L394.04 247.01 L392.98 247.10 L391.93 247.18 L390.87 247.23 L389.82 247.27 L388.76 247.29 L387.71 247.28 L386.65 247.26 L385.60 247.22 L384.54 247.17 L383.49 247.11 L382.43 247.14 L381.38 247.27 L380.32 247.40 L379.27 247.51 L378.21 247.61 L377.16 247.70 L376.10 247.76 L375.05 247.80 L373.99 247.82 L372.94 247.82 L371.89 247.80 L370.83 247.76 L369.78 247.71 L368.72 247.62 L367.67 247.47 L366.61 247.49 L365.56 247.54 L364.50 247.57 L363.45 247.59 L362.39 247.60 L361.34 247.58 L360.28 247.55 L359.23 247.49 L358.17 247.42 L357.12 247.32 L356.06 247.20 L355.01 247.08 L353.95 246.94 L352.90 246.79 L351.84 246.69 L350.79 246.73 L349.73 246.77 L348.68 246.79 L347.62 246.79 L346.57 246.79 L345.51 246.76 L344.46 246.71 L343.40 246.64 L342.35 246.55 L341.29 246.45 L340.24 246.33 L339.18 246.19 L338.13 246.05 L337.07 245.90 L336.02 245.88 L334.96 245.91 L333.91 245.93 L332.85 245.94 L331.80 245.93 L330.74 245.91 L329.69 245.87 L328.63 245.81 L327.58 245.73 L326.52 245.63 L325.47 245.52 L324.41 245.40 L323.36 245.26 L322.30 245.12 L321.25 244.99 L320.19 245.01 L319.14 245.03 L318.08 245.04 L317.03 245.03 L315.97 245.01 L314.92 244.98 L313.87 244.92 L312.81 244.85 L311.76 244.76 L310.70 244.66 L309.65 244.54 L308.59 244.41 L307.54 244.27 L306.48 244.13 L305.43 244.08 L304.37 244.09 L303.32 244.09 L302.26 244.08 L301.21 244.07 L300.15 244.03 L299.10 243.99 L298.04 243.92 L296.99 243.84 L295.93 243.74 L294.88 243.63 L293.82 243.51 L292.77 243.38 L291.71 243.24 L290.66 243.10 L289.60 243.10 L288.55 243.10 L287.49 243.09 L286.44 243.07 L285.38 243.04 L284.33 243.00 L283.27 242.94 L282.22 242.86 L281.16 242.78 L280.11 242.67 L279.05 242.56 L278.00 242.43 L276.94 242.30 L275.89 242.17 L274.83 242.08 L273.78 242.07 L272.72 242.06 L271.67 242.04 L270.61 242.01 L269.56 241.97 L268.50 241.91 L267.45 241.84 L266.39 241.76 L265.34 241.66 L264.28 241.56 L263.23 241.44 L262.17 241.32 L261.12 241.19 L260.06 241.05 L259.01 241.02 L257.95 241.00 L256.90 240.97 L255.84 240.94 L254.79 240.90 L253.74 240.84 L252.68 240.78 L251.63 240.70 L250.57 240.61 L249.52 240.51 L248.46 240.40 L247.41 240.28 L246.35 240.16 L245.30 240.03 L244.24 239.93 L243.19 239.90 L242.13 239.87 L241.08 239.84 L240.02 239.79 L238.97 239.74 L237.91 239.67 L236.86 239.60 L235.80 239.52 L234.75 239.42 L233.69 239.32 L232.64 239.21 L231.58 239.09 L230.53 238.97 L229.47 238.85 L228.42 238.78 L227.36 238.74 L226.31 238.70 L225.25 238.66 L224.20 238.60 L223.14 238.54 L222.09 238.47 L221.03 238.39 L219.98 238.30 L218.92 238.20 L217.87 238.10 L216.81 237.99 L215.76 237.87 L214.70 237.75 L213.65 237.64 L212.59 237.60 L211.54 237.55 L210.48 237.50 L209.43 237.44 L208.37 237.38 L207.32 237.31 L206.26 237.23 L205.21 237.14 L204.15 237.05 L203.10 236.95 L202.04 236.85 L200.99 236.74 L199.93 236.63 L198.88 236.52 L197.82 236.43 L196.77 236.38 L195.72 236.32 L194.66 236.26 L193.61 236.19 L192.55 236.12 L191.50 236.05 L190.44 235.96 L189.39 235.87 L188.33 235.78 L187.28 235.68 L186.22 235.58 L185.17 235.48 L184.11 235.37 L183.06 235.27 L182.00 235.20 L180.95 235.14 L179.89 235.07 L178.84 235.00 L177.78 234.92 L176.73 234.85 L175.67 234.76 L174.62 234.68 L173.56 234.59 L172.51 234.49 L171.45 234.40 L170.40 234.30 L169.34 234.20 L168.29 234.10 L167.23 234.01 L166.18 233.94 L165.12 233.87 L164.07 233.79 L163.01 233.71 L161.96 233.63 L160.90 233.55 L159.85 233.46 L158.79 233.38 L157.74 233.29 L156.68 233.20 L155.63 233.10 L154.57 233.01 L153.52 232.92 L152.46 232.83 L151.41 232.75 L150.35 232.67 L149.30 232.59 L148.24 232.50 L147.19 232.42 L146.13 232.33 L145.08 232.25 L144.02 232.16 L142.97 232.07 L141.91 231.99 L140.86 231.92 L139.80 231.92 L138.75 231.92Z" fill="url(#st)"/>
<path d="M138.75 231.43 L139.80 231.43 L140.86 231.43 L141.91 231.37 L142.97 231.29 L144.02 231.22 L145.08 231.14 L146.13 231.07 L147.19 230.99 L148.24 230.92 L149.30 230.85 L150.35 230.78 L151.41 230.71 L152.46 230.64 L153.52 230.56 L154.57 230.48 L155.63 230.40 L156.68 230.32 L157.74 230.24 L158.79 230.17 L159.85 230.09 L160.90 230.02 L161.96 229.95 L163.01 229.88 L164.07 229.81 L165.12 229.74 L166.18 229.68 L167.23 229.62 L168.29 229.54 L169.34 229.46 L170.40 229.37 L171.45 229.29 L172.51 229.20 L173.56 229.12 L174.62 229.05 L175.67 228.97 L176.73 228.90 L177.78 228.83 L178.84 228.77 L179.89 228.71 L180.95 228.65 L182.00 228.59 L183.06 228.54 L184.11 228.45 L185.17 228.36 L186.22 228.27 L187.28 228.18 L188.33 228.09 L189.39 228.01 L190.44 227.94 L191.50 227.86 L192.55 227.80 L193.61 227.74 L194.66 227.68 L195.72 227.62 L196.77 227.57 L197.82 227.53 L198.88 227.46 L199.93 227.36 L200.99 227.27 L202.04 227.17 L203.10 227.08 L204.15 227.00 L205.21 226.92 L206.26 226.84 L207.32 226.78 L208.37 226.71 L209.43 226.66 L210.48 226.61 L211.54 226.57 L212.59 226.52 L213.65 226.49 L214.70 226.39 L215.76 226.29 L216.81 226.19 L217.87 226.09 L218.92 226.00 L219.98 225.92 L221.03 225.84 L222.09 225.77 L223.14 225.71 L224.20 225.66 L225.25 225.61 L226.31 225.57 L227.36 225.53 L228.42 225.50 L229.47 225.45 L230.53 225.34 L231.58 225.24 L232.64 225.13 L233.69 225.04 L234.75 224.95 L235.80 224.87 L236.86 224.80 L237.91 224.73 L238.97 224.68 L240.02 224.63 L241.08 224.59 L242.13 224.56 L243.19 224.54 L244.24 224.51 L245.30 224.42 L246.35 224.31 L247.41 224.21 L248.46 224.11 L249.52 224.01 L250.57 223.92 L251.63 223.85 L252.68 223.78 L253.74 223.72 L254.79 223.68 L255.84 223.64 L256.90 223.61 L257.95 223.59 L259.01 223.57 L260.06 223.54 L261.12 223.43 L262.17 223.32 L263.23 223.21 L264.28 223.11 L265.34 223.01 L266.39 222.93 L267.45 222.86 L268.50 222.80 L269.56 222.75 L270.61 222.72 L271.67 222.69 L272.72 222.67 L273.78 222.66 L274.83 222.65 L275.89 222.58 L276.94 222.46 L278.00 222.35 L279.05 222.24 L280.11 222.14 L281.16 222.05 L282.22 221.98 L283.27 221.91 L284.33 221.86 L285.38 221.82 L286.44 221.80 L287.49 221.78 L288.55 221.77 L289.60 221.77 L290.66 221.77 L291.71 221.65 L292.77 221.53 L293.82 221.42 L294.88 221.31 L295.93 221.22 L296.99 221.14 L298.04 221.07 L299.10 221.01 L300.15 220.97 L301.21 220.94 L302.26 220.93 L303.32 220.92 L304.37 220.92 L305.43 220.93 L306.48 220.88 L307.54 220.76 L308.59 220.64 L309.65 220.53 L310.70 220.43 L311.76 220.34 L312.81 220.26 L313.87 220.20 L314.92 220.15 L315.97 220.12 L317.03 220.11 L318.08 220.10 L319.14 220.11 L320.19 220.12 L321.25 220.14 L322.30 220.03 L323.36 219.91 L324.41 219.79 L325.47 219.68 L326.52 219.59 L327.58 219.50 L328.63 219.44 L329.69 219.38 L330.74 219.35 L331.80 219.33 L332.85 219.32 L333.91 219.33 L334.96 219.35 L336.02 219.37 L337.07 219.35 L338.13 219.23 L339.18 219.10 L340.24 218.99 L341.29 218.88 L342.35 218.79 L343.40 218.72 L344.46 218.66 L345.51 218.62 L346.57 218.59 L347.62 218.59 L348.68 218.59 L349.73 218.61 L350.79 218.64 L351.84 218.67 L352.90 218.59 L353.95 218.46 L355.01 218.34 L356.06 218.23 L357.12 218.13 L358.17 218.05 L359.23 217.98 L360.28 217.93 L361.34 217.90 L362.39 217.89 L363.45 217.90 L364.50 217.92 L365.56 217.94 L366.61 217.98 L367.67 218.00 L368.72 217.87 L369.78 217.80 L370.83 217.75 L371.89 217.72 L372.94 217.70 L373.99 217.70 L375.05 217.72 L376.10 217.75 L377.16 217.81 L378.21 217.88 L379.27 217.97 L380.32 218.07 L381.38 218.17 L382.43 218.29 L383.49 218.31 L384.54 218.26 L385.60 218.22 L386.65 218.19 L387.71 218.17 L388.76 218.16 L389.82 218.18 L390.87 218.21 L391.93 218.26 L392.98 218.32 L394.04 218.40 L395.09 218.50 L396.15 218.61 L397.20 218.72 L398.26 218.84 L399.31 218.80 L400.37 218.76 L401.42 218.73 L402.48 218.71 L403.53 218.70 L404.59 218.71 L405.64 218.74 L406.70 218.78 L407.75 218.84 L408.81 218.92 L409.86 219.01 L410.92 219.11 L411.97 219.23 L413.03 219.34 L414.08 219.40 L415.14 219.37 L416.19 219.34 L417.25 219.32 L418.30 219.32 L419.36 219.32 L420.41 219.35 L421.47 219.39 L422.52 219.44 L423.58 219.51 L424.63 219.60 L425.69 219.70 L426.74 219.81 L427.80 219.92 L428.85 220.04 L429.91 220.04 L430.96 220.02 L432.01 220.01 L433.07 220.00 L434.12 220.01 L435.18 220.03 L436.23 220.06 L437.29 220.11 L438.34 220.18 L439.40 220.26 L440.45 220.36 L441.51 220.46 L442.56 220.57 L443.62 220.69 L444.67 220.78 L445.73 220.77 L446.78 220.75 L447.84 220.75 L448.89 220.76 L449.95 220.78 L451.00 220.81 L452.06 220.86 L453.11 220.92 L454.17 221.00 L455.22 221.09 L456.28 221.19 L457.33 221.29 L458.39 221.41 L459.44 221.53 L460.50 221.57 L461.55 221.56 L462.61 221.56 L463.66 221.57 L464.72 221.59 L465.77 221.62 L466.83 221.67 L467.88 221.73 L468.94 221.80 L469.99 221.88 L471.05 221.98 L472.10 222.08 L473.16 222.19 L474.21 222.31 L475.27 222.42 L476.32 222.42 L477.38 222.43 L478.43 222.45 L479.49 222.47 L480.54 222.50 L481.60 222.54 L482.65 222.60 L483.71 222.67 L484.76 222.74 L485.82 222.83 L486.87 222.93 L487.93 223.04 L488.98 223.15 L490.03 223.27 L491.09 223.34 L492.14 223.35 L493.20 223.37 L494.25 223.39 L495.31 223.43 L496.36 223.47 L497.42 223.52 L498.47 223.59 L499.53 223.66 L500.58 223.75 L501.64 223.84 L502.69 223.95 L503.75 224.05 L504.80 224.17 L505.86 224.28 L506.91 224.31 L507.97 224.34 L509.02 224.37 L510.08 224.40 L511.13 224.45 L512.19 224.50 L513.24 224.56 L514.30 224.64 L515.35 224.72 L516.41 224.81 L517.46 224.91 L518.52 225.01 L519.57 225.12 L520.63 225.23 L521.68 225.31 L522.74 225.34 L523.79 225.38 L524.85 225.42 L525.90 225.47 L526.96 225.52 L528.01 225.58 L529.07 225.66 L530.12 225.73 L531.18 225.82 L532.23 225.91 L533.29 226.01 L534.34 226.11 L535.40 226.22 L536.45 226.32 L537.51 226.38 L538.56 226.42 L539.62 226.47 L540.67 226.52 L541.73 226.58 L542.78 226.64 L543.84 226.71 L544.89 226.79 L545.95 226.87 L547.00 226.96 L548.06 227.05 L549.11 227.15 L550.16 227.25 L551.22 227.35 L552.27 227.44 L553.33 227.49 L554.38 227.55 L555.44 227.60 L556.49 227.66 L557.55 227.73 L558.60 227.80 L559.66 227.87 L560.71 227.95 L561.77 228.04 L562.82 228.13 L563.88 228.22 L564.93 228.31 L565.99 228.41 L567.04 228.51 L568.10 228.58 L569.15 228.64 L570.21 228.70 L571.26 228.77 L572.32 228.84 L573.37 228.91 L574.43 228.98 L575.48 229.06 L576.54 229.15 L577.59 229.23 L578.65 229.32 L579.70 229.41 L580.76 229.50 L581.81 229.59 L582.87 229.68 L583.92 229.74 L584.98 229.81 L586.03 229.88 L587.09 229.96 L588.14 230.03 L589.20 230.11 L590.25 230.19 L591.31 230.27 L592.36 230.35 L593.42 230.43 L594.47 230.52 L595.53 230.60 L596.58 230.69 L597.64 230.77 L598.69 230.85 L599.75 230.93 L600.80 231.00 L601.86 231.08 L602.91 231.16 L603.97 231.24 L605.02 231.32 L606.08 231.40 L607.13 231.55 L608.18 231.42 L609.24 231.28 L610.29 231.15 L611.35 231.02 L612.40 230.90 L613.46 230.79 L614.51 230.69 L615.57 230.59 L616.62 230.51 L617.68 230.44 L618.73 230.38 L619.79 230.33 L620.84 230.30 L621.90 230.28 L622.95 230.28 L624.01 230.28 L625.06 230.31 L626.12 230.34 L627.17 230.39 L628.23 230.45 L629.28 230.53 L630.34 230.61 L631.39 230.71 L632.45 230.81 L633.50 230.93 L634.56 231.05 L635.61 231.18 L636.67 231.31 L637.72 231.44 L638.78 231.58 L639.83 230.27 L640.89 230.13 L641.94 230.00 L643.00 229.86 L644.05 229.72 L645.11 229.58 L646.16 229.45 L647.22 229.31 L648.27 229.17 L649.33 229.04 L650.38 228.90 L651.44 228.76 L652.49 228.63 L653.55 228.49 L654.60 228.35 L655.66 228.22 L656.71 228.08 L657.77 227.94 L658.82 227.81 L659.88 227.67 L660.93 227.53 L661.99 227.40 L663.04 227.26 L664.10 227.12 L665.15 226.99 L665.15 228.72 L664.10 228.85 L663.04 228.99 L661.99 229.13 L660.93 229.26 L659.88 229.40 L658.82 229.54 L657.77 229.67 L656.71 229.81 L655.66 229.95 L654.60 230.08 L653.55 230.22 L652.49 230.36 L651.44 230.49 L650.38 230.63 L649.33 230.77 L648.27 230.90 L647.22 231.04 L646.16 231.18 L645.11 231.31 L644.05 231.45 L643.00 231.59 L641.94 231.73 L640.89 231.86 L639.83 232.00 L638.78 232.17 L637.72 232.30 L636.67 232.44 L635.61 232.57 L634.56 232.70 L633.50 232.82 L632.45 232.93 L631.39 233.04 L630.34 233.13 L629.28 233.22 L628.23 233.29 L627.17 233.36 L626.12 233.41 L625.06 233.44 L624.01 233.46 L622.95 233.47 L621.90 233.47 L620.84 233.45 L619.79 233.41 L618.73 233.37 L617.68 233.31 L616.62 233.24 L615.57 233.15 L614.51 233.06 L613.46 232.95 L612.40 232.84 L611.35 232.72 L610.29 232.60 L609.24 232.47 L608.18 232.33 L607.13 232.19 L606.08 231.90 L605.02 231.98 L603.97 232.06 L602.91 232.14 L601.86 232.22 L600.80 232.30 L599.75 232.37 L598.69 232.45 L597.64 232.53 L596.58 232.61 L595.53 232.70 L594.47 232.78 L593.42 232.87 L592.36 232.95 L591.31 233.03 L590.25 233.11 L589.20 233.19 L588.14 233.27 L587.09 233.34 L586.03 233.42 L584.98 233.49 L583.92 233.56 L582.87 233.62 L581.81 233.71 L580.76 233.80 L579.70 233.89 L578.65 233.98 L577.59 234.07 L576.54 234.15 L575.48 234.24 L574.43 234.32 L573.37 234.39 L572.32 234.46 L571.26 234.53 L570.21 234.60 L569.15 234.66 L568.10 234.72 L567.04 234.79 L565.99 234.89 L564.93 234.99 L563.88 235.08 L562.82 235.17 L561.77 235.26 L560.71 235.35 L559.66 235.43 L558.60 235.50 L557.55 235.57 L556.49 235.64 L555.44 235.70 L554.38 235.75 L553.33 235.81 L552.27 235.86 L551.22 235.95 L550.16 236.05 L549.11 236.15 L548.06 236.25 L547.00 236.34 L545.95 236.43 L544.89 236.51 L543.84 236.59 L542.78 236.66 L541.73 236.72 L540.67 236.78 L539.62 236.83 L538.56 236.88 L537.51 236.92 L536.45 236.98 L535.40 237.08 L534.34 237.19 L533.29 237.29 L532.23 237.39 L531.18 237.48 L530.12 237.57 L529.07 237.64 L528.01 237.72 L526.96 237.78 L525.90 237.83 L524.85 237.88 L523.79 237.92 L522.74 237.96 L521.68 237.99 L520.63 238.07 L519.57 238.18 L518.52 238.29 L517.46 238.39 L516.41 238.49 L515.35 238.58 L514.30 238.66 L513.24 238.74 L512.19 238.80 L511.13 238.85 L510.08 238.90 L509.02 238.93 L507.97 238.96 L506.91 238.99 L505.86 239.02 L504.80 239.13 L503.75 239.25 L502.69 239.35 L501.64 239.46 L500.58 239.55 L499.53 239.64 L498.47 239.71 L497.42 239.78 L496.36 239.83 L495.31 239.87 L494.25 239.91 L493.20 239.93 L492.14 239.95 L491.09 239.96 L490.03 240.03 L488.98 240.15 L487.93 240.26 L486.87 240.37 L485.82 240.47 L484.76 240.56 L483.71 240.63 L482.65 240.70 L481.60 240.76 L480.54 240.80 L479.49 240.83 L478.43 240.85 L477.38 240.87 L476.32 240.88 L475.27 240.88 L474.21 240.99 L473.16 241.11 L472.10 241.22 L471.05 241.32 L469.99 241.42 L468.94 241.50 L467.88 241.57 L466.83 241.63 L465.77 241.68 L464.72 241.71 L463.66 241.73 L462.61 241.74 L461.55 241.74 L460.50 241.73 L459.44 241.77 L458.39 241.89 L457.33 242.01 L456.28 242.11 L455.22 242.21 L454.17 242.30 L453.11 242.38 L452.06 242.44 L451.00 242.49 L449.95 242.52 L448.89 242.54 L447.84 242.55 L446.78 242.55 L445.73 242.53 L444.67 242.52 L443.62 242.61 L442.56 242.73 L441.51 242.84 L440.45 242.94 L439.40 243.04 L438.34 243.12 L437.29 243.19 L436.23 243.24 L435.18 243.27 L434.12 243.29 L433.07 243.30 L432.01 243.29 L430.96 243.28 L429.91 243.26 L428.85 243.26 L427.80 243.38 L426.74 243.49 L425.69 243.60 L424.63 243.70 L423.58 243.79 L422.52 243.86 L421.47 243.91 L420.41 243.95 L419.36 243.98 L418.30 243.98 L417.25 243.98 L416.19 243.96 L415.14 243.93 L414.08 243.90 L413.03 243.96 L411.97 244.07 L410.92 244.19 L409.86 244.29 L408.81 244.38 L407.75 244.46 L406.70 244.52 L405.64 244.56 L404.59 244.59 L403.53 244.60 L402.48 244.59 L401.42 244.57 L400.37 244.54 L399.31 244.50 L398.26 244.46 L397.20 244.58 L396.15 244.69 L395.09 244.80 L394.04 244.90 L392.98 244.98 L391.93 245.04 L390.87 245.09 L389.82 245.12 L388.76 245.14 L387.71 245.13 L386.65 245.11 L385.60 245.08 L384.54 245.04 L383.49 244.99 L382.43 245.01 L381.38 245.13 L380.32 245.23 L379.27 245.33 L378.21 245.42 L377.16 245.49 L376.10 245.55 L375.05 245.58 L373.99 245.60 L372.94 245.60 L371.89 245.58 L370.83 245.55 L369.78 245.50 L368.72 245.43 L367.67 245.30 L366.61 245.32 L365.56 245.36 L364.50 245.38 L363.45 245.40 L362.39 245.41 L361.34 245.40 L360.28 245.37 L359.23 245.32 L358.17 245.25 L357.12 245.17 L356.06 245.07 L355.01 244.96 L353.95 244.84 L352.90 244.71 L351.84 244.63 L350.79 244.66 L349.73 244.69 L348.68 244.71 L347.62 244.71 L346.57 244.71 L345.51 244.68 L344.46 244.64 L343.40 244.58 L342.35 244.51 L341.29 244.42 L340.24 244.31 L339.18 244.20 L338.13 244.07 L337.07 243.95 L336.02 243.93 L334.96 243.95 L333.91 243.97 L332.85 243.98 L331.80 243.97 L330.74 243.95 L329.69 243.92 L328.63 243.86 L327.58 243.80 L326.52 243.71 L325.47 243.62 L324.41 243.51 L323.36 243.39 L322.30 243.27 L321.25 243.16 L320.19 243.18 L319.14 243.19 L318.08 243.20 L317.03 243.19 L315.97 243.18 L314.92 243.15 L313.87 243.10 L312.81 243.04 L311.76 242.96 L310.70 242.87 L309.65 242.77 L308.59 242.66 L307.54 242.54 L306.48 242.42 L305.43 242.37 L304.37 242.38 L303.32 242.38 L302.26 242.37 L301.21 242.36 L300.15 242.33 L299.10 242.29 L298.04 242.23 L296.99 242.16 L295.93 242.08 L294.88 241.99 L293.82 241.88 L292.77 241.77 L291.71 241.65 L290.66 241.53 L289.60 241.53 L288.55 241.53 L287.49 241.52 L286.44 241.50 L285.38 241.48 L284.33 241.44 L283.27 241.39 L282.22 241.32 L281.16 241.25 L280.11 241.16 L279.05 241.06 L278.00 240.95 L276.94 240.84 L275.89 240.72 L274.83 240.65 L273.78 240.64 L272.72 240.63 L271.67 240.61 L270.61 240.58 L269.56 240.55 L268.50 240.50 L267.45 240.44 L266.39 240.37 L265.34 240.29 L264.28 240.19 L263.23 240.09 L262.17 239.98 L261.12 239.87 L260.06 239.76 L259.01 239.73 L257.95 239.71 L256.90 239.69 L255.84 239.66 L254.79 239.62 L253.74 239.58 L252.68 239.52 L251.63 239.45 L250.57 239.38 L249.52 239.29 L248.46 239.19 L247.41 239.09 L246.35 238.99 L245.30 238.88 L244.24 238.79 L243.19 238.76 L242.13 238.74 L241.08 238.71 L240.02 238.67 L238.97 238.62 L237.91 238.57 L236.86 238.50 L235.80 238.43 L234.75 238.35 L233.69 238.26 L232.64 238.17 L231.58 238.06 L230.53 237.96 L229.47 237.85 L228.42 237.80 L227.36 237.77 L226.31 237.73 L225.25 237.69 L224.20 237.64 L223.14 237.59 L222.09 237.53 L221.03 237.46 L219.98 237.38 L218.92 237.30 L217.87 237.21 L216.81 237.11 L215.76 237.01 L214.70 236.91 L213.65 236.81 L212.59 236.78 L211.54 236.73 L210.48 236.69 L209.43 236.64 L208.37 236.59 L207.32 236.52 L206.26 236.46 L205.21 236.38 L204.15 236.30 L203.10 236.22 L202.04 236.13 L200.99 236.03 L199.93 235.94 L198.88 235.84 L197.82 235.77 L196.77 235.73 L195.72 235.68 L194.66 235.62 L193.61 235.56 L192.55 235.50 L191.50 235.44 L190.44 235.36 L189.39 235.29 L188.33 235.21 L187.28 235.12 L186.22 235.03 L185.17 234.94 L184.11 234.85 L183.06 234.76 L182.00 234.71 L180.95 234.65 L179.89 234.59 L178.84 234.53 L177.78 234.47 L176.73 234.40 L175.67 234.33 L174.62 234.25 L173.56 234.18 L172.51 234.10 L171.45 234.01 L170.40 233.93 L169.34 233.84 L168.29 233.76 L167.23 233.68 L166.18 233.62 L165.12 233.56 L164.07 233.49 L163.01 233.42 L161.96 233.35 L160.90 233.28 L159.85 233.21 L158.79 233.13 L157.74 233.06 L156.68 232.98 L155.63 232.90 L154.57 232.82 L153.52 232.74 L152.46 232.66 L151.41 232.59 L150.35 232.52 L149.30 232.45 L148.24 232.38 L147.19 232.31 L146.13 232.23 L145.08 232.16 L144.02 232.08 L142.97 232.01 L141.91 231.93 L140.86 231.87 L139.80 231.87 L138.75 231.87Z" fill="#000" fill-opacity="0.35"/>
<path d="M138.75 231.43 L139.80 231.43 L140.86 231.43 L141.91 231.38 L142.97 231.32 L144.02 231.26 L145.08 231.20 L146.13 231.14 L147.19 231.08 L148.24 231.02 L149.30 230.96 L150.35 230.91 L151.41 230.85 L152.46 230.79 L153.52 230.73 L154.57 230.67 L155.63 230.60 L156.68 230.54 L157.74 230.48 L158.79 230.41 L159.85 230.35 L160.90 230.29 L161.96 230.23 L163.01 230.18 L164.07 230.12 L165.12 230.07 L166.18 230.02 L167.23 229.97 L168.29 229.91 L169.34 229.84 L170.40 229.77 L171.45 229.70 L172.51 229.64 L173.56 229.57 L174.62 229.51 L175.67 229.45 L176.73 229.39 L177.78 229.34 L178.84 229.29 L179.89 229.24 L180.95 229.19 L182.00 229.15 L183.06 229.10 L184.11 229.03 L185.17 228.95 L186.22 228.88 L187.28 228.81 L188.33 228.74 L189.39 228.68 L190.44 228.62 L191.50 228.56 L192.55 228.51 L193.61 228.46 L194.66 228.41 L195.72 228.37 L196.77 228.33 L197.82 228.29 L198.88 228.23 L199.93 228.15 L200.99 228.08 L202.04 228.00 L203.10 227.93 L204.15 227.86 L205.21 227.80 L206.26 227.74 L207.32 227.68 L208.37 227.63 L209.43 227.59 L210.48 227.55 L211.54 227.51 L212.59 227.48 L213.65 227.45 L214.70 227.37 L215.76 227.29 L216.81 227.21 L217.87 227.13 L218.92 227.06 L219.98 226.99 L221.03 226.93 L222.09 226.88 L223.14 226.83 L224.20 226.78 L225.25 226.75 L226.31 226.71 L227.36 226.68 L228.42 226.66 L229.47 226.61 L230.53 226.53 L231.58 226.44 L232.64 226.36 L233.69 226.29 L234.75 226.21 L235.80 226.15 L236.86 226.09 L237.91 226.04 L238.97 225.99 L240.02 225.96 L241.08 225.93 L242.13 225.90 L243.19 225.88 L244.24 225.86 L245.30 225.79 L246.35 225.70 L247.41 225.62 L248.46 225.53 L249.52 225.46 L250.57 225.39 L251.63 225.33 L252.68 225.27 L253.74 225.23 L254.79 225.19 L255.84 225.16 L256.90 225.14 L257.95 225.12 L259.01 225.11 L260.06 225.08 L261.12 224.99 L262.17 224.90 L263.23 224.81 L264.28 224.73 L265.34 224.66 L266.39 224.59 L267.45 224.53 L268.50 224.48 L269.56 224.44 L270.61 224.42 L271.67 224.39 L272.72 224.38 L273.78 224.37 L274.83 224.37 L275.89 224.31 L276.94 224.21 L278.00 224.12 L279.05 224.03 L280.11 223.95 L281.16 223.88 L282.22 223.82 L283.27 223.77 L284.33 223.73 L285.38 223.70 L286.44 223.68 L287.49 223.66 L288.55 223.66 L289.60 223.66 L290.66 223.66 L291.71 223.56 L292.77 223.46 L293.82 223.37 L294.88 223.29 L295.93 223.21 L296.99 223.14 L298.04 223.09 L299.10 223.04 L300.15 223.01 L301.21 222.99 L302.26 222.97 L303.32 222.97 L304.37 222.97 L305.43 222.98 L306.48 222.94 L307.54 222.84 L308.59 222.75 L309.65 222.66 L310.70 222.57 L311.76 222.50 L312.81 222.44 L313.87 222.39 L314.92 222.35 L315.97 222.33 L317.03 222.32 L318.08 222.31 L319.14 222.32 L320.19 222.33 L321.25 222.34 L322.30 222.26 L323.36 222.16 L324.41 222.06 L325.47 221.98 L326.52 221.90 L327.58 221.83 L328.63 221.78 L329.69 221.73 L330.74 221.71 L331.80 221.69 L332.85 221.68 L333.91 221.69 L334.96 221.70 L336.02 221.72 L337.07 221.71 L338.13 221.61 L339.18 221.51 L340.24 221.42 L341.29 221.33 L342.35 221.26 L343.40 221.20 L344.46 221.15 L345.51 221.12 L346.57 221.10 L347.62 221.09 L348.68 221.10 L349.73 221.11 L350.79 221.13 L351.84 221.16 L352.90 221.10 L353.95 220.99 L355.01 220.90 L356.06 220.81 L357.12 220.73 L358.17 220.66 L359.23 220.61 L360.28 220.57 L361.34 220.54 L362.39 220.53 L363.45 220.54 L364.50 220.55 L365.56 220.58 L366.61 220.61 L367.67 220.62 L368.72 220.52 L369.78 220.46 L370.83 220.42 L371.89 220.39 L372.94 220.38 L373.99 220.38 L375.05 220.39 L376.10 220.42 L377.16 220.46 L378.21 220.52 L379.27 220.59 L380.32 220.67 L381.38 220.76 L382.43 220.85 L383.49 220.87 L384.54 220.83 L385.60 220.80 L386.65 220.77 L387.71 220.75 L388.76 220.75 L389.82 220.76 L390.87 220.79 L391.93 220.83 L392.98 220.88 L394.04 220.94 L395.09 221.02 L396.15 221.11 L397.20 221.20 L398.26 221.29 L399.31 221.26 L400.37 221.23 L401.42 221.21 L402.48 221.19 L403.53 221.19 L404.59 221.19 L405.64 221.21 L406.70 221.25 L407.75 221.30 L408.81 221.36 L409.86 221.43 L410.92 221.52 L411.97 221.61 L413.03 221.70 L414.08 221.75 L415.14 221.72 L416.19 221.70 L417.25 221.69 L418.30 221.68 L419.36 221.69 L420.41 221.70 L421.47 221.73 L422.52 221.78 L423.58 221.84 L424.63 221.91 L425.69 221.99 L426.74 222.07 L427.80 222.17 L428.85 222.26 L429.91 222.27 L430.96 222.25 L432.01 222.24 L433.07 222.23 L434.12 222.24 L435.18 222.25 L436.23 222.28 L437.29 222.32 L438.34 222.37 L439.40 222.44 L440.45 222.52 L441.51 222.60 L442.56 222.69 L443.62 222.79 L444.67 222.86 L445.73 222.85 L446.78 222.84 L447.84 222.83 L448.89 222.84 L449.95 222.86 L451.00 222.88 L452.06 222.92 L453.11 222.97 L454.17 223.03 L455.22 223.10 L456.28 223.18 L457.33 223.27 L458.39 223.36 L459.44 223.46 L460.50 223.49 L461.55 223.49 L462.61 223.49 L463.66 223.50 L464.72 223.51 L465.77 223.54 L466.83 223.57 L467.88 223.62 L468.94 223.68 L469.99 223.74 L471.05 223.82 L472.10 223.91 L473.16 224.00 L474.21 224.09 L475.27 224.18 L476.32 224.18 L477.38 224.19 L478.43 224.20 L479.49 224.22 L480.54 224.24 L481.60 224.28 L482.65 224.32 L483.71 224.37 L484.76 224.44 L485.82 224.51 L486.87 224.59 L487.93 224.68 L488.98 224.77 L490.03 224.86 L491.09 224.91 L492.14 224.93 L493.20 224.94 L494.25 224.96 L495.31 224.99 L496.36 225.02 L497.42 225.07 L498.47 225.12 L499.53 225.18 L500.58 225.25 L501.64 225.32 L502.69 225.41 L503.75 225.49 L504.80 225.58 L505.86 225.67 L506.91 225.70 L507.97 225.72 L509.02 225.74 L510.08 225.77 L511.13 225.81 L512.19 225.85 L513.24 225.90 L514.30 225.96 L515.35 226.03 L516.41 226.10 L517.46 226.18 L518.52 226.26 L519.57 226.35 L520.63 226.44 L521.68 226.50 L522.74 226.53 L523.79 226.56 L524.85 226.59 L525.90 226.63 L526.96 226.67 L528.01 226.72 L529.07 226.78 L530.12 226.84 L531.18 226.91 L532.23 226.99 L533.29 227.07 L534.34 227.15 L535.40 227.23 L536.45 227.32 L537.51 227.37 L538.56 227.40 L539.62 227.44 L540.67 227.48 L541.73 227.52 L542.78 227.58 L543.84 227.63 L544.89 227.69 L545.95 227.76 L547.00 227.83 L548.06 227.91 L549.11 227.98 L550.16 228.06 L551.22 228.15 L552.27 228.22 L553.33 228.26 L554.38 228.30 L555.44 228.35 L556.49 228.40 L557.55 228.45 L558.60 228.51 L559.66 228.57 L560.71 228.63 L561.77 228.70 L562.82 228.77 L563.88 228.85 L564.93 228.92 L565.99 229.00 L567.04 229.08 L568.10 229.14 L569.15 229.18 L570.21 229.23 L571.26 229.29 L572.32 229.34 L573.37 229.40 L574.43 229.46 L575.48 229.52 L576.54 229.59 L577.59 229.66 L578.65 229.73 L579.70 229.80 L580.76 229.87 L581.81 229.95 L582.87 230.02 L583.92 230.07 L584.98 230.13 L586.03 230.18 L587.09 230.24 L588.14 230.30 L589.20 230.37 L590.25 230.43 L591.31 230.49 L592.36 230.56 L593.42 230.63 L594.47 230.70 L595.53 230.76 L596.58 230.83 L597.64 230.90 L598.69 230.96 L599.75 231.02 L600.80 231.09 L601.86 231.15 L602.91 231.21 L603.97 231.28 L605.02 231.34 L606.08 231.41 L607.13 231.57 L608.18 231.46 L609.24 231.35 L610.29 231.25 L611.35 231.15 L612.40 231.05 L613.46 230.96 L614.51 230.88 L615.57 230.80 L616.62 230.73 L617.68 230.68 L618.73 230.63 L619.79 230.59 L620.84 230.56 L621.90 230.55 L622.95 230.54 L624.01 230.55 L625.06 230.57 L626.12 230.60 L627.17 230.64 L628.23 230.69 L629.28 230.75 L630.34 230.81 L631.39 230.89 L632.45 230.98 L633.50 231.07 L634.56 231.17 L635.61 231.27 L636.67 231.37 L637.72 231.48 L638.78 231.59 L639.83 230.39 L640.89 230.26 L641.94 230.12 L643.00 229.98 L644.05 229.85 L645.11 229.71 L646.16 229.57 L647.22 229.44 L648.27 229.30 L649.33 229.16 L650.38 229.03 L651.44 228.89 L652.49 228.75 L653.55 228.62 L654.60 228.48 L655.66 228.34 L656.71 228.21 L657.77 228.07 L658.82 227.93 L659.88 227.79 L660.93 227.66 L661.99 227.52 L663.04 227.38 L664.10 227.25 L665.15 227.11 L665.15 228.59 L664.10 228.73 L663.04 228.86 L661.99 229.00 L660.93 229.14 L659.88 229.27 L658.82 229.41 L657.77 229.55 L656.71 229.68 L655.66 229.82 L654.60 229.96 L653.55 230.10 L652.49 230.23 L651.44 230.37 L650.38 230.51 L649.33 230.64 L648.27 230.78 L647.22 230.92 L646.16 231.05 L645.11 231.19 L644.05 231.33 L643.00 231.46 L641.94 231.60 L640.89 231.74 L639.83 231.87 L638.78 232.15 L637.72 232.26 L636.67 232.37 L635.61 232.48 L634.56 232.58 L633.50 232.68 L632.45 232.77 L631.39 232.86 L630.34 232.93 L629.28 233.00 L628.23 233.06 L627.17 233.11 L626.12 233.15 L625.06 233.18 L624.01 233.20 L622.95 233.20 L621.90 233.20 L620.84 233.18 L619.79 233.16 L618.73 233.12 L617.68 233.07 L616.62 233.01 L615.57 232.95 L614.51 232.87 L613.46 232.79 L612.40 232.70 L611.35 232.60 L610.29 232.50 L609.24 232.39 L608.18 232.28 L607.13 232.17 L606.08 231.89 L605.02 231.96 L603.97 232.02 L602.91 232.09 L601.86 232.15 L600.80 232.21 L599.75 232.28 L598.69 232.34 L597.64 232.40 L596.58 232.47 L595.53 232.54 L594.47 232.60 L593.42 232.67 L592.36 232.74 L591.31 232.81 L590.25 232.87 L589.20 232.93 L588.14 233.00 L587.09 233.06 L586.03 233.12 L584.98 233.17 L583.92 233.23 L582.87 233.28 L581.81 233.35 L580.76 233.43 L579.70 233.50 L578.65 233.57 L577.59 233.64 L576.54 233.71 L575.48 233.78 L574.43 233.84 L573.37 233.90 L572.32 233.96 L571.26 234.01 L570.21 234.07 L569.15 234.12 L568.10 234.16 L567.04 234.22 L565.99 234.30 L564.93 234.38 L563.88 234.45 L562.82 234.53 L561.77 234.60 L560.71 234.67 L559.66 234.73 L558.60 234.79 L557.55 234.85 L556.49 234.90 L555.44 234.95 L554.38 235.00 L553.33 235.04 L552.27 235.08 L551.22 235.15 L550.16 235.24 L549.11 235.32 L548.06 235.39 L547.00 235.47 L545.95 235.54 L544.89 235.61 L543.84 235.67 L542.78 235.72 L541.73 235.78 L540.67 235.82 L539.62 235.86 L538.56 235.90 L537.51 235.93 L536.45 235.98 L535.40 236.07 L534.34 236.15 L533.29 236.23 L532.23 236.31 L531.18 236.39 L530.12 236.46 L529.07 236.52 L528.01 236.58 L526.96 236.63 L525.90 236.67 L524.85 236.71 L523.79 236.74 L522.74 236.77 L521.68 236.80 L520.63 236.86 L519.57 236.95 L518.52 237.04 L517.46 237.12 L516.41 237.20 L515.35 237.27 L514.30 237.34 L513.24 237.40 L512.19 237.45 L511.13 237.49 L510.08 237.53 L509.02 237.56 L507.97 237.58 L506.91 237.60 L505.86 237.63 L504.80 237.72 L503.75 237.81 L502.69 237.89 L501.64 237.98 L500.58 238.05 L499.53 238.12 L498.47 238.18 L497.42 238.23 L496.36 238.28 L495.31 238.31 L494.25 238.34 L493.20 238.36 L492.14 238.37 L491.09 238.39 L490.03 238.44 L488.98 238.53 L487.93 238.62 L486.87 238.71 L485.82 238.79 L484.76 238.86 L483.71 238.93 L482.65 238.98 L481.60 239.02 L480.54 239.06 L479.49 239.08 L478.43 239.10 L477.38 239.11 L476.32 239.12 L475.27 239.12 L474.21 239.21 L473.16 239.30 L472.10 239.39 L471.05 239.48 L469.99 239.56 L468.94 239.62 L467.88 239.68 L466.83 239.73 L465.77 239.76 L464.72 239.79 L463.66 239.80 L462.61 239.81 L461.55 239.81 L460.50 239.81 L459.44 239.84 L458.39 239.94 L457.33 240.03 L456.28 240.12 L455.22 240.20 L454.17 240.27 L453.11 240.33 L452.06 240.38 L451.00 240.42 L449.95 240.44 L448.89 240.46 L447.84 240.47 L446.78 240.46 L445.73 240.45 L444.67 240.44 L443.62 240.51 L442.56 240.61 L441.51 240.70 L440.45 240.78 L439.40 240.86 L438.34 240.93 L437.29 240.98 L436.23 241.02 L435.18 241.05 L434.12 241.06 L433.07 241.07 L432.01 241.06 L430.96 241.05 L429.91 241.03 L428.85 241.04 L427.80 241.13 L426.74 241.23 L425.69 241.31 L424.63 241.39 L423.58 241.46 L422.52 241.52 L421.47 241.57 L420.41 241.60 L419.36 241.61 L418.30 241.62 L417.25 241.61 L416.19 241.60 L415.14 241.58 L414.08 241.55 L413.03 241.60 L411.97 241.69 L410.92 241.78 L409.86 241.87 L408.81 241.94 L407.75 242.00 L406.70 242.05 L405.64 242.09 L404.59 242.11 L403.53 242.11 L402.48 242.11 L401.42 242.09 L400.37 242.07 L399.31 242.04 L398.26 242.01 L397.20 242.10 L396.15 242.19 L395.09 242.28 L394.04 242.36 L392.98 242.42 L391.93 242.47 L390.87 242.51 L389.82 242.54 L388.76 242.55 L387.71 242.55 L386.65 242.53 L385.60 242.50 L384.54 242.47 L383.49 242.43 L382.43 242.45 L381.38 242.54 L380.32 242.63 L379.27 242.71 L378.21 242.78 L377.16 242.84 L376.10 242.88 L375.05 242.91 L373.99 242.92 L372.94 242.92 L371.89 242.91 L370.83 242.88 L369.78 242.84 L368.72 242.78 L367.67 242.68 L366.61 242.69 L365.56 242.72 L364.50 242.75 L363.45 242.76 L362.39 242.77 L361.34 242.76 L360.28 242.73 L359.23 242.69 L358.17 242.64 L357.12 242.57 L356.06 242.49 L355.01 242.40 L353.95 242.31 L352.90 242.20 L351.84 242.14 L350.79 242.17 L349.73 242.19 L348.68 242.20 L347.62 242.21 L346.57 242.20 L345.51 242.18 L344.46 242.15 L343.40 242.10 L342.35 242.04 L341.29 241.97 L340.24 241.88 L339.18 241.79 L338.13 241.69 L337.07 241.59 L336.02 241.58 L334.96 241.60 L333.91 241.61 L332.85 241.62 L331.80 241.61 L330.74 241.59 L329.69 241.57 L328.63 241.52 L327.58 241.47 L326.52 241.40 L325.47 241.32 L324.41 241.24 L323.36 241.14 L322.30 241.04 L321.25 240.96 L320.19 240.97 L319.14 240.98 L318.08 240.99 L317.03 240.98 L315.97 240.97 L314.92 240.95 L313.87 240.91 L312.81 240.86 L311.76 240.80 L310.70 240.73 L309.65 240.64 L308.59 240.55 L307.54 240.46 L306.48 240.36 L305.43 240.32 L304.37 240.33 L303.32 240.33 L302.26 240.33 L301.21 240.31 L300.15 240.29 L299.10 240.26 L298.04 240.21 L296.99 240.16 L295.93 240.09 L294.88 240.01 L293.82 239.93 L292.77 239.84 L291.71 239.74 L290.66 239.64 L289.60 239.64 L288.55 239.64 L287.49 239.64 L286.44 239.62 L285.38 239.60 L284.33 239.57 L283.27 239.53 L282.22 239.48 L281.16 239.42 L280.11 239.35 L279.05 239.27 L278.00 239.18 L276.94 239.09 L275.89 238.99 L274.83 238.93 L273.78 238.93 L272.72 238.92 L271.67 238.91 L270.61 238.88 L269.56 238.86 L268.50 238.82 L267.45 238.77 L266.39 238.71 L265.34 238.64 L264.28 238.57 L263.23 238.49 L262.17 238.40 L261.12 238.31 L260.06 238.22 L259.01 238.19 L257.95 238.18 L256.90 238.16 L255.84 238.14 L254.79 238.11 L253.74 238.07 L252.68 238.03 L251.63 237.97 L250.57 237.91 L249.52 237.84 L248.46 237.77 L247.41 237.68 L246.35 237.60 L245.30 237.51 L244.24 237.44 L243.19 237.42 L242.13 237.40 L241.08 237.37 L240.02 237.34 L238.97 237.31 L237.91 237.26 L236.86 237.21 L235.80 237.15 L234.75 237.09 L233.69 237.01 L232.64 236.94 L231.58 236.86 L230.53 236.77 L229.47 236.69 L228.42 236.64 L227.36 236.62 L226.31 236.59 L225.25 236.55 L224.20 236.52 L223.14 236.47 L222.09 236.42 L221.03 236.37 L219.98 236.31 L218.92 236.24 L217.87 236.17 L216.81 236.09 L215.76 236.01 L214.70 235.93 L213.65 235.85 L212.59 235.82 L211.54 235.79 L210.48 235.75 L209.43 235.71 L208.37 235.67 L207.32 235.62 L206.26 235.56 L205.21 235.50 L204.15 235.44 L203.10 235.37 L202.04 235.30 L200.99 235.22 L199.93 235.15 L198.88 235.07 L197.82 235.01 L196.77 234.97 L195.72 234.93 L194.66 234.89 L193.61 234.84 L192.55 234.79 L191.50 234.74 L190.44 234.68 L189.39 234.62 L188.33 234.56 L187.28 234.49 L186.22 234.42 L185.17 234.35 L184.11 234.27 L183.06 234.20 L182.00 234.15 L180.95 234.11 L179.89 234.06 L178.84 234.01 L177.78 233.96 L176.73 233.91 L175.67 233.85 L174.62 233.79 L173.56 233.73 L172.51 233.66 L171.45 233.60 L170.40 233.53 L169.34 233.46 L168.29 233.39 L167.23 233.33 L166.18 233.28 L165.12 233.23 L164.07 233.18 L163.01 233.12 L161.96 233.07 L160.90 233.01 L159.85 232.95 L158.79 232.89 L157.74 232.82 L156.68 232.76 L155.63 232.70 L154.57 232.63 L153.52 232.57 L152.46 232.51 L151.41 232.45 L150.35 232.39 L149.30 232.34 L148.24 232.28 L147.19 232.22 L146.13 232.16 L145.08 232.10 L144.02 232.04 L142.97 231.98 L141.91 231.92 L140.86 231.87 L139.80 231.87 L138.75 231.87Z" fill="#000" fill-opacity="0.45"/>
<path d="M138.75 231.43 L139.80 231.43 L140.86 231.43 L141.91 231.39 L142.97 231.35 L144.02 231.30 L145.08 231.25 L146.13 231.21 L147.19 231.16 L148.24 231.12 L149.30 231.07 L150.35 231.03 L151.41 230.99 L152.46 230.95 L153.52 230.90 L154.57 230.85 L155.63 230.80 L156.68 230.75 L157.74 230.71 L158.79 230.66 L159.85 230.61 L160.90 230.57 L161.96 230.52 L163.01 230.48 L164.07 230.44 L165.12 230.40 L166.18 230.36 L167.23 230.32 L168.29 230.28 L169.34 230.23 L170.40 230.17 L171.45 230.12 L172.51 230.07 L173.56 230.02 L174.62 229.98 L175.67 229.93 L176.73 229.89 L177.78 229.84 L178.84 229.81 L179.89 229.77 L180.95 229.73 L182.00 229.70 L183.06 229.66 L184.11 229.61 L185.17 229.55 L186.22 229.50 L187.28 229.45 L188.33 229.39 L189.39 229.35 L190.44 229.30 L191.50 229.25 L192.55 229.21 L193.61 229.18 L194.66 229.14 L195.72 229.11 L196.77 229.08 L197.82 229.05 L198.88 229.01 L199.93 228.95 L200.99 228.89 L202.04 228.83 L203.10 228.78 L204.15 228.73 L205.21 228.68 L206.26 228.63 L207.32 228.59 L208.37 228.55 L209.43 228.52 L210.48 228.49 L211.54 228.46 L212.59 228.44 L213.65 228.41 L214.70 228.35 L215.76 228.29 L216.81 228.23 L217.87 228.18 L218.92 228.12 L219.98 228.07 L221.03 228.02 L222.09 227.98 L223.14 227.94 L224.20 227.91 L225.25 227.88 L226.31 227.86 L227.36 227.83 L228.42 227.81 L229.47 227.78 L230.53 227.72 L231.58 227.65 L232.64 227.59 L233.69 227.53 L234.75 227.48 L235.80 227.43 L236.86 227.38 L237.91 227.34 L238.97 227.31 L240.02 227.28 L241.08 227.26 L242.13 227.24 L243.19 227.22 L244.24 227.21 L245.30 227.16 L246.35 227.09 L247.41 227.02 L248.46 226.96 L249.52 226.90 L250.57 226.85 L251.63 226.80 L252.68 226.76 L253.74 226.73 L254.79 226.70 L255.84 226.68 L256.90 226.66 L257.95 226.65 L259.01 226.64 L260.06 226.62 L261.12 226.55 L262.17 226.48 L263.23 226.42 L264.28 226.35 L265.34 226.30 L266.39 226.25 L267.45 226.20 L268.50 226.17 L269.56 226.14 L270.61 226.11 L271.67 226.10 L272.72 226.09 L273.78 226.08 L274.83 226.08 L275.89 226.03 L276.94 225.96 L278.00 225.89 L279.05 225.83 L280.11 225.77 L281.16 225.71 L282.22 225.67 L283.27 225.63 L284.33 225.59 L285.38 225.57 L286.44 225.56 L287.49 225.55 L288.55 225.54 L289.60 225.54 L290.66 225.54 L291.71 225.47 L292.77 225.39 L293.82 225.33 L294.88 225.26 L295.93 225.20 L296.99 225.15 L298.04 225.11 L299.10 225.08 L300.15 225.05 L301.21 225.03 L302.26 225.02 L303.32 225.02 L304.37 225.02 L305.43 225.03 L306.48 225.00 L307.54 224.92 L308.59 224.85 L309.65 224.78 L310.70 224.72 L311.76 224.67 L312.81 224.62 L313.87 224.58 L314.92 224.55 L315.97 224.53 L317.03 224.52 L318.08 224.52 L319.14 224.53 L320.19 224.53 L321.25 224.55 L322.30 224.48 L323.36 224.41 L324.41 224.33 L325.47 224.27 L326.52 224.21 L327.58 224.16 L328.63 224.12 L329.69 224.08 L330.74 224.06 L331.80 224.05 L332.85 224.05 L333.91 224.05 L334.96 224.06 L336.02 224.08 L337.07 224.07 L338.13 223.99 L339.18 223.91 L340.24 223.84 L341.29 223.78 L342.35 223.72 L343.40 223.68 L344.46 223.64 L345.51 223.62 L346.57 223.60 L347.62 223.60 L348.68 223.60 L349.73 223.61 L350.79 223.63 L351.84 223.65 L352.90 223.60 L353.95 223.52 L355.01 223.45 L356.06 223.38 L357.12 223.32 L358.17 223.27 L359.23 223.23 L360.28 223.20 L361.34 223.18 L362.39 223.17 L363.45 223.18 L364.50 223.19 L365.56 223.21 L366.61 223.23 L367.67 223.24 L368.72 223.16 L369.78 223.12 L370.83 223.09 L371.89 223.07 L372.94 223.06 L373.99 223.06 L375.05 223.07 L376.10 223.09 L377.16 223.12 L378.21 223.17 L379.27 223.22 L380.32 223.28 L381.38 223.35 L382.43 223.42 L383.49 223.43 L384.54 223.40 L385.60 223.37 L386.65 223.35 L387.71 223.34 L388.76 223.34 L389.82 223.35 L390.87 223.37 L391.93 223.40 L392.98 223.44 L394.04 223.49 L395.09 223.54 L396.15 223.61 L397.20 223.68 L398.26 223.75 L399.31 223.73 L400.37 223.70 L401.42 223.68 L402.48 223.67 L403.53 223.67 L404.59 223.67 L405.64 223.69 L406.70 223.72 L407.75 223.75 L408.81 223.80 L409.86 223.86 L410.92 223.92 L411.97 223.99 L413.03 224.06 L414.08 224.10 L415.14 224.07 L416.19 224.06 L417.25 224.05 L418.30 224.04 L419.36 224.05 L420.41 224.06 L421.47 224.08 L422.52 224.12 L423.58 224.16 L424.63 224.21 L425.69 224.27 L426.74 224.34 L427.80 224.41 L428.85 224.48 L429.91 224.49 L430.96 224.47 L432.01 224.46 L433.07 224.46 L434.12 224.46 L435.18 224.48 L436.23 224.50 L437.29 224.53 L438.34 224.57 L439.40 224.62 L440.45 224.68 L441.51 224.74 L442.56 224.81 L443.62 224.88 L444.67 224.94 L445.73 224.93 L446.78 224.92 L447.84 224.92 L448.89 224.92 L449.95 224.93 L451.00 224.95 L452.06 224.98 L453.11 225.02 L454.17 225.07 L455.22 225.12 L456.28 225.18 L457.33 225.25 L458.39 225.32 L459.44 225.39 L460.50 225.41 L461.55 225.41 L462.61 225.41 L463.66 225.42 L464.72 225.43 L465.77 225.45 L466.83 225.48 L467.88 225.51 L468.94 225.56 L469.99 225.61 L471.05 225.67 L472.10 225.73 L473.16 225.80 L474.21 225.87 L475.27 225.94 L476.32 225.94 L477.38 225.94 L478.43 225.95 L479.49 225.96 L480.54 225.98 L481.60 226.01 L482.65 226.04 L483.71 226.08 L484.76 226.13 L485.82 226.19 L486.87 226.25 L487.93 226.31 L488.98 226.38 L490.03 226.45 L491.09 226.49 L492.14 226.50 L493.20 226.51 L494.25 226.53 L495.31 226.55 L496.36 226.58 L497.42 226.61 L498.47 226.65 L499.53 226.69 L500.58 226.75 L501.64 226.80 L502.69 226.87 L503.75 226.93 L504.80 227.00 L505.86 227.07 L506.91 227.09 L507.97 227.10 L509.02 227.12 L510.08 227.14 L511.13 227.17 L512.19 227.20 L513.24 227.24 L514.30 227.29 L515.35 227.34 L516.41 227.39 L517.46 227.45 L518.52 227.51 L519.57 227.58 L520.63 227.65 L521.68 227.70 L522.74 227.72 L523.79 227.74 L524.85 227.76 L525.90 227.79 L526.96 227.83 L528.01 227.86 L529.07 227.91 L530.12 227.96 L531.18 228.01 L532.23 228.06 L533.29 228.12 L534.34 228.19 L535.40 228.25 L536.45 228.31 L537.51 228.35 L538.56 228.38 L539.62 228.40 L540.67 228.44 L541.73 228.47 L542.78 228.51 L543.84 228.55 L544.89 228.60 L545.95 228.65 L547.00 228.70 L548.06 228.76 L549.11 228.82 L550.16 228.88 L551.22 228.94 L552.27 229.00 L553.33 229.03 L554.38 229.06 L555.44 229.09 L556.49 229.13 L557.55 229.17 L558.60 229.21 L559.66 229.26 L560.71 229.31 L561.77 229.36 L562.82 229.42 L563.88 229.47 L564.93 229.53 L565.99 229.59 L567.04 229.65 L568.10 229.69 L569.15 229.73 L570.21 229.77 L571.26 229.81 L572.32 229.85 L573.37 229.89 L574.43 229.94 L575.48 229.99 L576.54 230.04 L577.59 230.09 L578.65 230.14 L579.70 230.19 L580.76 230.25 L581.81 230.30 L582.87 230.36 L583.92 230.40 L584.98 230.44 L586.03 230.49 L587.09 230.53 L588.14 230.58 L589.20 230.62 L590.25 230.67 L591.31 230.72 L592.36 230.77 L593.42 230.82 L594.47 230.87 L595.53 230.92 L596.58 230.98 L597.64 231.03 L598.69 231.08 L599.75 231.12 L600.80 231.17 L601.86 231.22 L602.91 231.26 L603.97 231.31 L605.02 231.36 L606.08 231.41 L607.13 231.59 L608.18 231.51 L609.24 231.43 L610.29 231.35 L611.35 231.27 L612.40 231.20 L613.46 231.13 L614.51 231.06 L615.57 231.01 L616.62 230.96 L617.68 230.91 L618.73 230.88 L619.79 230.85 L620.84 230.83 L621.90 230.82 L622.95 230.81 L624.01 230.82 L625.06 230.83 L626.12 230.85 L627.17 230.88 L628.23 230.92 L629.28 230.97 L630.34 231.02 L631.39 231.08 L632.45 231.14 L633.50 231.21 L634.56 231.28 L635.61 231.36 L636.67 231.44 L637.72 231.52 L638.78 231.61 L639.83 230.52 L640.89 230.38 L641.94 230.25 L643.00 230.11 L644.05 229.97 L645.11 229.84 L646.16 229.70 L647.22 229.56 L648.27 229.42 L649.33 229.29 L650.38 229.15 L651.44 229.01 L652.49 228.88 L653.55 228.74 L654.60 228.60 L655.66 228.47 L656.71 228.33 L657.77 228.19 L658.82 228.06 L659.88 227.92 L660.93 227.78 L661.99 227.65 L663.04 227.51 L664.10 227.37 L665.15 227.24 L665.15 228.47 L664.10 228.60 L663.04 228.74 L661.99 228.88 L660.93 229.01 L659.88 229.15 L658.82 229.29 L657.77 229.42 L656.71 229.56 L655.66 229.70 L654.60 229.83 L653.55 229.97 L652.49 230.11 L651.44 230.24 L650.38 230.38 L649.33 230.52 L648.27 230.65 L647.22 230.79 L646.16 230.93 L645.11 231.06 L644.05 231.20 L643.00 231.34 L641.94 231.47 L640.89 231.61 L639.83 231.75 L638.78 232.14 L637.72 232.22 L636.67 232.31 L635.61 232.39 L634.56 232.46 L633.50 232.54 L632.45 232.61 L631.39 232.67 L630.34 232.73 L629.28 232.78 L628.23 232.83 L627.17 232.86 L626.12 232.89 L625.06 232.92 L624.01 232.93 L622.95 232.94 L621.90 232.93 L620.84 232.92 L619.79 232.90 L618.73 232.87 L617.68 232.84 L616.62 232.79 L615.57 232.74 L614.51 232.68 L613.46 232.62 L612.40 232.55 L611.35 232.48 L610.29 232.40 L609.24 232.32 L608.18 232.24 L607.13 232.16 L606.08 231.89 L605.02 231.94 L603.97 231.99 L602.91 232.04 L601.86 232.08 L600.80 232.13 L599.75 232.18 L598.69 232.22 L597.64 232.27 L596.58 232.32 L595.53 232.38 L594.47 232.43 L593.42 232.48 L592.36 232.53 L591.31 232.58 L590.25 232.63 L589.20 232.68 L588.14 232.72 L587.09 232.77 L586.03 232.81 L584.98 232.86 L583.92 232.90 L582.87 232.94 L581.81 233.00 L580.76 233.05 L579.70 233.11 L578.65 233.16 L577.59 233.21 L576.54 233.26 L575.48 233.31 L574.43 233.36 L573.37 233.41 L572.32 233.45 L571.26 233.49 L570.21 233.53 L569.15 233.57 L568.10 233.61 L567.04 233.65 L565.99 233.71 L564.93 233.77 L563.88 233.83 L562.82 233.88 L561.77 233.94 L560.71 233.99 L559.66 234.04 L558.60 234.09 L557.55 234.13 L556.49 234.17 L555.44 234.21 L554.38 234.24 L553.33 234.27 L552.27 234.30 L551.22 234.36 L550.16 234.42 L549.11 234.48 L548.06 234.54 L547.00 234.60 L545.95 234.65 L544.89 234.70 L543.84 234.75 L542.78 234.79 L541.73 234.83 L540.67 234.86 L539.62 234.90 L538.56 234.92 L537.51 234.95 L536.45 234.99 L535.40 235.05 L534.34 235.11 L533.29 235.18 L532.23 235.24 L531.18 235.29 L530.12 235.34 L529.07 235.39 L528.01 235.44 L526.96 235.47 L525.90 235.51 L524.85 235.54 L523.79 235.56 L522.74 235.58 L521.68 235.60 L520.63 235.65 L519.57 235.72 L518.52 235.79 L517.46 235.85 L516.41 235.91 L515.35 235.96 L514.30 236.01 L513.24 236.06 L512.19 236.10 L511.13 236.13 L510.08 236.16 L509.02 236.18 L507.97 236.20 L506.91 236.21 L505.86 236.23 L504.80 236.30 L503.75 236.37 L502.69 236.43 L501.64 236.50 L500.58 236.55 L499.53 236.61 L498.47 236.65 L497.42 236.69 L496.36 236.72 L495.31 236.75 L494.25 236.77 L493.20 236.79 L492.14 236.80 L491.09 236.81 L490.03 236.85 L488.98 236.92 L487.93 236.99 L486.87 237.05 L485.82 237.11 L484.76 237.17 L483.71 237.22 L482.65 237.26 L481.60 237.29 L480.54 237.32 L479.49 237.34 L478.43 237.35 L477.38 237.36 L476.32 237.36 L475.27 237.36 L474.21 237.43 L473.16 237.50 L472.10 237.57 L471.05 237.63 L469.99 237.69 L468.94 237.74 L467.88 237.79 L466.83 237.82 L465.77 237.85 L464.72 237.87 L463.66 237.88 L462.61 237.89 L461.55 237.89 L460.50 237.89 L459.44 237.91 L458.39 237.98 L457.33 238.05 L456.28 238.12 L455.22 238.18 L454.17 238.23 L453.11 238.28 L452.06 238.32 L451.00 238.35 L449.95 238.37 L448.89 238.38 L447.84 238.38 L446.78 238.38 L445.73 238.37 L444.67 238.36 L443.62 238.42 L442.56 238.49 L441.51 238.56 L440.45 238.62 L439.40 238.68 L438.34 238.73 L437.29 238.77 L436.23 238.80 L435.18 238.82 L434.12 238.84 L433.07 238.84 L432.01 238.84 L430.96 238.83 L429.91 238.81 L428.85 238.82 L427.80 238.89 L426.74 238.96 L425.69 239.03 L424.63 239.09 L423.58 239.14 L422.52 239.18 L421.47 239.22 L420.41 239.24 L419.36 239.25 L418.30 239.26 L417.25 239.25 L416.19 239.24 L415.14 239.23 L414.08 239.20 L413.03 239.24 L411.97 239.31 L410.92 239.38 L409.86 239.44 L408.81 239.50 L407.75 239.55 L406.70 239.58 L405.64 239.61 L404.59 239.63 L403.53 239.63 L402.48 239.63 L401.42 239.62 L400.37 239.60 L399.31 239.57 L398.26 239.55 L397.20 239.62 L396.15 239.69 L395.09 239.76 L394.04 239.81 L392.98 239.86 L391.93 239.90 L390.87 239.93 L389.82 239.95 L388.76 239.96 L387.71 239.96 L386.65 239.95 L385.60 239.93 L384.54 239.90 L383.49 239.87 L382.43 239.88 L381.38 239.95 L380.32 240.02 L379.27 240.08 L378.21 240.13 L377.16 240.18 L376.10 240.21 L375.05 240.23 L373.99 240.24 L372.94 240.24 L371.89 240.23 L370.83 240.21 L369.78 240.18 L368.72 240.14 L367.67 240.06 L366.61 240.07 L365.56 240.09 L364.50 240.11 L363.45 240.12 L362.39 240.13 L361.34 240.12 L360.28 240.10 L359.23 240.07 L358.17 240.03 L357.12 239.98 L356.06 239.92 L355.01 239.85 L353.95 239.78 L352.90 239.70 L351.84 239.65 L350.79 239.67 L349.73 239.69 L348.68 239.70 L347.62 239.70 L346.57 239.70 L345.51 239.68 L344.46 239.66 L343.40 239.62 L342.35 239.58 L341.29 239.52 L340.24 239.46 L339.18 239.39 L338.13 239.31 L337.07 239.23 L336.02 239.22 L334.96 239.24 L333.91 239.25 L332.85 239.25 L331.80 239.25 L330.74 239.24 L329.69 239.22 L328.63 239.18 L327.58 239.14 L326.52 239.09 L325.47 239.03 L324.41 238.97 L323.36 238.89 L322.30 238.82 L321.25 238.75 L320.19 238.77 L319.14 238.77 L318.08 238.78 L317.03 238.78 L315.97 238.77 L314.92 238.75 L313.87 238.72 L312.81 238.68 L311.76 238.63 L310.70 238.58 L309.65 238.52 L308.59 238.45 L307.54 238.38 L306.48 238.30 L305.43 238.27 L304.37 238.28 L303.32 238.28 L302.26 238.28 L301.21 238.27 L300.15 238.25 L299.10 238.22 L298.04 238.19 L296.99 238.15 L295.93 238.10 L294.88 238.04 L293.82 237.97 L292.77 237.91 L291.71 237.83 L290.66 237.76 L289.60 237.76 L288.55 237.76 L287.49 237.75 L286.44 237.74 L285.38 237.73 L284.33 237.71 L283.27 237.67 L282.22 237.63 L281.16 237.59 L280.11 237.53 L279.05 237.47 L278.00 237.41 L276.94 237.34 L275.89 237.27 L274.83 237.22 L273.78 237.22 L272.72 237.21 L271.67 237.20 L270.61 237.19 L269.56 237.16 L268.50 237.13 L267.45 237.10 L266.39 237.05 L265.34 237.00 L264.28 236.95 L263.23 236.88 L262.17 236.82 L261.12 236.75 L260.06 236.68 L259.01 236.66 L257.95 236.65 L256.90 236.64 L255.84 236.62 L254.79 236.60 L253.74 236.57 L252.68 236.54 L251.63 236.50 L250.57 236.45 L249.52 236.40 L248.46 236.34 L247.41 236.28 L246.35 236.21 L245.30 236.14 L244.24 236.09 L243.19 236.08 L242.13 236.06 L241.08 236.04 L240.02 236.02 L238.97 235.99 L237.91 235.96 L236.86 235.92 L235.80 235.87 L234.75 235.82 L233.69 235.77 L232.64 235.71 L231.58 235.65 L230.53 235.58 L229.47 235.52 L228.42 235.49 L227.36 235.47 L226.31 235.44 L225.25 235.42 L224.20 235.39 L223.14 235.36 L222.09 235.32 L221.03 235.28 L219.98 235.23 L218.92 235.18 L217.87 235.12 L216.81 235.07 L215.76 235.01 L214.70 234.95 L213.65 234.89 L212.59 234.86 L211.54 234.84 L210.48 234.81 L209.43 234.78 L208.37 234.75 L207.32 234.71 L206.26 234.67 L205.21 234.62 L204.15 234.57 L203.10 234.52 L202.04 234.47 L200.99 234.41 L199.93 234.35 L198.88 234.29 L197.82 234.25 L196.77 234.22 L195.72 234.19 L194.66 234.16 L193.61 234.12 L192.55 234.09 L191.50 234.05 L190.44 234.00 L189.39 233.95 L188.33 233.91 L187.28 233.85 L186.22 233.80 L185.17 233.75 L184.11 233.69 L183.06 233.64 L182.00 233.60 L180.95 233.57 L179.89 233.53 L178.84 233.49 L177.78 233.46 L176.73 233.41 L175.67 233.37 L174.62 233.32 L173.56 233.28 L172.51 233.23 L171.45 233.18 L170.40 233.13 L169.34 233.07 L168.29 233.02 L167.23 232.98 L166.18 232.94 L165.12 232.90 L164.07 232.86 L163.01 232.82 L161.96 232.78 L160.90 232.73 L159.85 232.69 L158.79 232.64 L157.74 232.59 L156.68 232.55 L155.63 232.50 L154.57 232.45 L153.52 232.40 L152.46 232.35 L151.41 232.31 L150.35 232.27 L149.30 232.23 L148.24 232.18 L147.19 232.14 L146.13 232.09 L145.08 232.05 L144.02 232.00 L142.97 231.95 L141.91 231.91 L140.86 231.87 L139.80 231.87 L138.75 231.87Z" fill="#000" fill-opacity="0.6"/>
<path d="M138.75 231.47 L139.80 231.47 L140.86 231.47 L141.91 231.45 L142.97 231.42 L144.02 231.38 L145.08 231.35 L146.13 231.32 L147.19 231.29 L148.24 231.26 L149.30 231.23 L150.35 231.20 L151.41 231.17 L152.46 231.14 L153.52 231.11 L154.57 231.08 L155.63 231.05 L156.68 231.01 L157.74 230.98 L158.79 230.95 L159.85 230.92 L160.90 230.89 L161.96 230.86 L163.01 230.83 L164.07 230.80 L165.12 230.77 L166.18 230.75 L167.23 230.72 L168.29 230.69 L169.34 230.65 L170.40 230.62 L171.45 230.58 L172.51 230.55 L173.56 230.52 L174.62 230.48 L175.67 230.45 L176.73 230.42 L177.78 230.40 L178.84 230.37 L179.89 230.34 L180.95 230.32 L182.00 230.30 L183.06 230.27 L184.11 230.24 L185.17 230.20 L186.22 230.16 L187.28 230.12 L188.33 230.09 L189.39 230.06 L190.44 230.02 L191.50 229.99 L192.55 229.97 L193.61 229.94 L194.66 229.92 L195.72 229.89 L196.77 229.87 L197.82 229.85 L198.88 229.83 L199.93 229.79 L200.99 229.75 L202.04 229.71 L203.10 229.67 L204.15 229.63 L205.21 229.60 L206.26 229.57 L207.32 229.54 L208.37 229.52 L209.43 229.49 L210.48 229.47 L211.54 229.46 L212.59 229.44 L213.65 229.42 L214.70 229.38 L215.76 229.34 L216.81 229.30 L217.87 229.26 L218.92 229.22 L219.98 229.19 L221.03 229.16 L222.09 229.13 L223.14 229.10 L224.20 229.08 L225.25 229.06 L226.31 229.04 L227.36 229.03 L228.42 229.01 L229.47 228.99 L230.53 228.95 L231.58 228.90 L232.64 228.86 L233.69 228.82 L234.75 228.79 L235.80 228.75 L236.86 228.72 L237.91 228.70 L238.97 228.67 L240.02 228.65 L241.08 228.64 L242.13 228.62 L243.19 228.61 L244.24 228.60 L245.30 228.57 L246.35 228.52 L247.41 228.48 L248.46 228.44 L249.52 228.40 L250.57 228.36 L251.63 228.33 L252.68 228.30 L253.74 228.28 L254.79 228.26 L255.84 228.24 L256.90 228.23 L257.95 228.22 L259.01 228.22 L260.06 228.20 L261.12 228.15 L262.17 228.11 L263.23 228.06 L264.28 228.02 L265.34 227.98 L266.39 227.95 L267.45 227.92 L268.50 227.89 L269.56 227.87 L270.61 227.86 L271.67 227.85 L272.72 227.84 L273.78 227.84 L274.83 227.83 L275.89 227.80 L276.94 227.75 L278.00 227.71 L279.05 227.66 L280.11 227.62 L281.16 227.59 L282.22 227.55 L283.27 227.53 L284.33 227.51 L285.38 227.49 L286.44 227.48 L287.49 227.47 L288.55 227.47 L289.60 227.47 L290.66 227.47 L291.71 227.42 L292.77 227.37 L293.82 227.32 L294.88 227.28 L295.93 227.24 L296.99 227.20 L298.04 227.18 L299.10 227.15 L300.15 227.14 L301.21 227.12 L302.26 227.12 L303.32 227.12 L304.37 227.12 L305.43 227.12 L306.48 227.10 L307.54 227.05 L308.59 227.00 L309.65 226.95 L310.70 226.91 L311.76 226.87 L312.81 226.84 L313.87 226.82 L314.92 226.80 L315.97 226.78 L317.03 226.78 L318.08 226.78 L319.14 226.78 L320.19 226.78 L321.25 226.79 L322.30 226.75 L323.36 226.70 L324.41 226.65 L325.47 226.60 L326.52 226.56 L327.58 226.53 L328.63 226.50 L329.69 226.48 L330.74 226.46 L331.80 226.46 L332.85 226.45 L333.91 226.46 L334.96 226.46 L336.02 226.47 L337.07 226.47 L338.13 226.41 L339.18 226.36 L340.24 226.31 L341.29 226.27 L342.35 226.23 L343.40 226.20 L344.46 226.18 L345.51 226.16 L346.57 226.15 L347.62 226.15 L348.68 226.15 L349.73 226.16 L350.79 226.17 L351.84 226.18 L352.90 226.15 L353.95 226.10 L355.01 226.05 L356.06 226.00 L357.12 225.96 L358.17 225.92 L359.23 225.90 L360.28 225.88 L361.34 225.86 L362.39 225.86 L363.45 225.86 L364.50 225.87 L365.56 225.88 L366.61 225.90 L367.67 225.91 L368.72 225.85 L369.78 225.82 L370.83 225.80 L371.89 225.79 L372.94 225.78 L373.99 225.78 L375.05 225.79 L376.10 225.80 L377.16 225.82 L378.21 225.85 L379.27 225.89 L380.32 225.93 L381.38 225.98 L382.43 226.02 L383.49 226.03 L384.54 226.01 L385.60 226.00 L386.65 225.98 L387.71 225.97 L388.76 225.97 L389.82 225.98 L390.87 225.99 L391.93 226.01 L392.98 226.04 L394.04 226.07 L395.09 226.11 L396.15 226.16 L397.20 226.20 L398.26 226.25 L399.31 226.24 L400.37 226.22 L401.42 226.21 L402.48 226.20 L403.53 226.20 L404.59 226.20 L405.64 226.21 L406.70 226.23 L407.75 226.25 L408.81 226.29 L409.86 226.32 L410.92 226.37 L411.97 226.41 L413.03 226.46 L414.08 226.49 L415.14 226.47 L416.19 226.46 L417.25 226.45 L418.30 226.45 L419.36 226.45 L420.41 226.46 L421.47 226.48 L422.52 226.50 L423.58 226.53 L424.63 226.57 L425.69 226.61 L426.74 226.65 L427.80 226.70 L428.85 226.75 L429.91 226.75 L430.96 226.74 L432.01 226.74 L433.07 226.73 L434.12 226.74 L435.18 226.74 L436.23 226.76 L437.29 226.78 L438.34 226.81 L439.40 226.84 L440.45 226.88 L441.51 226.92 L442.56 226.97 L443.62 227.02 L444.67 227.06 L445.73 227.05 L446.78 227.05 L447.84 227.05 L448.89 227.05 L449.95 227.06 L451.00 227.07 L452.06 227.09 L453.11 227.11 L454.17 227.15 L455.22 227.18 L456.28 227.22 L457.33 227.27 L458.39 227.32 L459.44 227.37 L460.50 227.38 L461.55 227.38 L462.61 227.38 L463.66 227.39 L464.72 227.39 L465.77 227.41 L466.83 227.43 L467.88 227.45 L468.94 227.48 L469.99 227.51 L471.05 227.55 L472.10 227.60 L473.16 227.64 L474.21 227.69 L475.27 227.74 L476.32 227.74 L477.38 227.74 L478.43 227.75 L479.49 227.76 L480.54 227.77 L481.60 227.79 L482.65 227.81 L483.71 227.84 L484.76 227.87 L485.82 227.91 L486.87 227.95 L487.93 227.99 L488.98 228.04 L490.03 228.09 L491.09 228.12 L492.14 228.12 L493.20 228.13 L494.25 228.14 L495.31 228.15 L496.36 228.17 L497.42 228.19 L498.47 228.22 L499.53 228.25 L500.58 228.29 L501.64 228.33 L502.69 228.37 L503.75 228.41 L504.80 228.46 L505.86 228.51 L506.91 228.52 L507.97 228.53 L509.02 228.54 L510.08 228.56 L511.13 228.58 L512.19 228.60 L513.24 228.63 L514.30 228.66 L515.35 228.69 L516.41 228.73 L517.46 228.77 L518.52 228.81 L519.57 228.85 L520.63 228.90 L521.68 228.94 L522.74 228.95 L523.79 228.96 L524.85 228.98 L525.90 229.00 L526.96 229.02 L528.01 229.05 L529.07 229.08 L530.12 229.11 L531.18 229.15 L532.23 229.18 L533.29 229.23 L534.34 229.27 L535.40 229.31 L536.45 229.36 L537.51 229.38 L538.56 229.40 L539.62 229.42 L540.67 229.44 L541.73 229.46 L542.78 229.49 L543.84 229.52 L544.89 229.55 L545.95 229.58 L547.00 229.62 L548.06 229.66 L549.11 229.70 L550.16 229.74 L551.22 229.78 L552.27 229.82 L553.33 229.84 L554.38 229.86 L555.44 229.89 L556.49 229.91 L557.55 229.94 L558.60 229.97 L559.66 230.00 L560.71 230.03 L561.77 230.07 L562.82 230.10 L563.88 230.14 L564.93 230.18 L565.99 230.22 L567.04 230.26 L568.10 230.29 L569.15 230.32 L570.21 230.34 L571.26 230.37 L572.32 230.40 L573.37 230.43 L574.43 230.46 L575.48 230.49 L576.54 230.53 L577.59 230.56 L578.65 230.60 L579.70 230.63 L580.76 230.67 L581.81 230.71 L582.87 230.75 L583.92 230.77 L584.98 230.80 L586.03 230.83 L587.09 230.86 L588.14 230.89 L589.20 230.92 L590.25 230.96 L591.31 230.99 L592.36 231.03 L593.42 231.06 L594.47 231.09 L595.53 231.13 L596.58 231.16 L597.64 231.20 L598.69 231.23 L599.75 231.26 L600.80 231.30 L601.86 231.33 L602.91 231.36 L603.97 231.39 L605.02 231.43 L606.08 231.46 L607.13 231.66 L608.18 231.60 L609.24 231.54 L610.29 231.49 L611.35 231.44 L612.40 231.39 L613.46 231.34 L614.51 231.30 L615.57 231.26 L616.62 231.22 L617.68 231.19 L618.73 231.17 L619.79 231.15 L620.84 231.14 L621.90 231.13 L622.95 231.12 L624.01 231.13 L625.06 231.14 L626.12 231.15 L627.17 231.17 L628.23 231.20 L629.28 231.23 L630.34 231.26 L631.39 231.30 L632.45 231.35 L633.50 231.40 L634.56 231.45 L635.61 231.50 L636.67 231.55 L637.72 231.61 L638.78 231.67 L639.83 230.69 L640.89 230.55 L641.94 230.42 L643.00 230.28 L644.05 230.14 L645.11 230.01 L646.16 229.87 L647.22 229.73 L648.27 229.59 L649.33 229.46 L650.38 229.32 L651.44 229.18 L652.49 229.05 L653.55 228.91 L654.60 228.77 L655.66 228.64 L656.71 228.50 L657.77 228.36 L658.82 228.23 L659.88 228.09 L660.93 227.95 L661.99 227.82 L663.04 227.68 L664.10 227.54 L665.15 227.41 L665.15 228.30 L664.10 228.43 L663.04 228.57 L661.99 228.71 L660.93 228.84 L659.88 228.98 L658.82 229.12 L657.77 229.25 L656.71 229.39 L655.66 229.53 L654.60 229.66 L653.55 229.80 L652.49 229.94 L651.44 230.07 L650.38 230.21 L649.33 230.35 L648.27 230.48 L647.22 230.62 L646.16 230.76 L645.11 230.89 L644.05 231.03 L643.00 231.17 L641.94 231.31 L640.89 231.44 L639.83 231.58 L638.78 232.08 L637.72 232.14 L636.67 232.19 L635.61 232.25 L634.56 232.30 L633.50 232.35 L632.45 232.40 L631.39 232.44 L630.34 232.48 L629.28 232.52 L628.23 232.55 L627.17 232.57 L626.12 232.59 L625.06 232.61 L624.01 232.62 L622.95 232.62 L621.90 232.62 L620.84 232.61 L619.79 232.60 L618.73 232.58 L617.68 232.55 L616.62 232.52 L615.57 232.49 L614.51 232.45 L613.46 232.41 L612.40 232.36 L611.35 232.31 L610.29 232.26 L609.24 232.20 L608.18 232.15 L607.13 232.09 L606.08 231.84 L605.02 231.87 L603.97 231.91 L602.91 231.94 L601.86 231.97 L600.80 232.00 L599.75 232.04 L598.69 232.07 L597.64 232.10 L596.58 232.14 L595.53 232.17 L594.47 232.21 L593.42 232.24 L592.36 232.27 L591.31 232.31 L590.25 232.34 L589.20 232.38 L588.14 232.41 L587.09 232.44 L586.03 232.47 L584.98 232.50 L583.92 232.53 L582.87 232.55 L581.81 232.59 L580.76 232.63 L579.70 232.67 L578.65 232.70 L577.59 232.74 L576.54 232.77 L575.48 232.81 L574.43 232.84 L573.37 232.87 L572.32 232.90 L571.26 232.93 L570.21 232.96 L569.15 232.98 L568.10 233.01 L567.04 233.04 L565.99 233.08 L564.93 233.12 L563.88 233.16 L562.82 233.20 L561.77 233.23 L560.71 233.27 L559.66 233.30 L558.60 233.33 L557.55 233.36 L556.49 233.39 L555.44 233.41 L554.38 233.44 L553.33 233.46 L552.27 233.48 L551.22 233.52 L550.16 233.56 L549.11 233.60 L548.06 233.64 L547.00 233.68 L545.95 233.72 L544.89 233.75 L543.84 233.78 L542.78 233.81 L541.73 233.84 L540.67 233.86 L539.62 233.88 L538.56 233.90 L537.51 233.92 L536.45 233.94 L535.40 233.99 L534.34 234.03 L533.29 234.07 L532.23 234.12 L531.18 234.15 L530.12 234.19 L529.07 234.22 L528.01 234.25 L526.96 234.28 L525.90 234.30 L524.85 234.32 L523.79 234.34 L522.74 234.35 L521.68 234.36 L520.63 234.40 L519.57 234.45 L518.52 234.49 L517.46 234.53 L516.41 234.57 L515.35 234.61 L514.30 234.64 L513.24 234.67 L512.19 234.70 L511.13 234.72 L510.08 234.74 L509.02 234.76 L507.97 234.77 L506.91 234.78 L505.86 234.79 L504.80 234.84 L503.75 234.89 L502.69 234.93 L501.64 234.97 L500.58 235.01 L499.53 235.05 L498.47 235.08 L497.42 235.11 L496.36 235.13 L495.31 235.15 L494.25 235.16 L493.20 235.17 L492.14 235.18 L491.09 235.18 L490.03 235.21 L488.98 235.26 L487.93 235.31 L486.87 235.35 L485.82 235.39 L484.76 235.43 L483.71 235.46 L482.65 235.49 L481.60 235.51 L480.54 235.53 L479.49 235.54 L478.43 235.55 L477.38 235.56 L476.32 235.56 L475.27 235.56 L474.21 235.61 L473.16 235.66 L472.10 235.70 L471.05 235.75 L469.99 235.79 L468.94 235.82 L467.88 235.85 L466.83 235.87 L465.77 235.89 L464.72 235.91 L463.66 235.91 L462.61 235.92 L461.55 235.92 L460.50 235.92 L459.44 235.93 L458.39 235.98 L457.33 236.03 L456.28 236.08 L455.22 236.12 L454.17 236.15 L453.11 236.19 L452.06 236.21 L451.00 236.23 L449.95 236.24 L448.89 236.25 L447.84 236.25 L446.78 236.25 L445.73 236.25 L444.67 236.24 L443.62 236.28 L442.56 236.33 L441.51 236.38 L440.45 236.42 L439.40 236.46 L438.34 236.49 L437.29 236.52 L436.23 236.54 L435.18 236.56 L434.12 236.56 L433.07 236.57 L432.01 236.56 L430.96 236.56 L429.91 236.55 L428.85 236.55 L427.80 236.60 L426.74 236.65 L425.69 236.69 L424.63 236.73 L423.58 236.77 L422.52 236.80 L421.47 236.82 L420.41 236.84 L419.36 236.85 L418.30 236.85 L417.25 236.85 L416.19 236.84 L415.14 236.83 L414.08 236.81 L413.03 236.84 L411.97 236.89 L410.92 236.93 L409.86 236.98 L408.81 237.01 L407.75 237.05 L406.70 237.07 L405.64 237.09 L404.59 237.10 L403.53 237.10 L402.48 237.10 L401.42 237.09 L400.37 237.08 L399.31 237.06 L398.26 237.05 L397.20 237.10 L396.15 237.14 L395.09 237.19 L394.04 237.23 L392.98 237.26 L391.93 237.29 L390.87 237.31 L389.82 237.32 L388.76 237.33 L387.71 237.33 L386.65 237.32 L385.60 237.30 L384.54 237.29 L383.49 237.27 L382.43 237.28 L381.38 237.32 L380.32 237.37 L379.27 237.41 L378.21 237.45 L377.16 237.48 L376.10 237.50 L375.05 237.51 L373.99 237.52 L372.94 237.52 L371.89 237.51 L370.83 237.50 L369.78 237.48 L368.72 237.45 L367.67 237.39 L366.61 237.40 L365.56 237.42 L364.50 237.43 L363.45 237.44 L362.39 237.44 L361.34 237.44 L360.28 237.42 L359.23 237.40 L358.17 237.38 L357.12 237.34 L356.06 237.30 L355.01 237.25 L353.95 237.20 L352.90 237.15 L351.84 237.12 L350.79 237.13 L349.73 237.14 L348.68 237.15 L347.62 237.15 L346.57 237.15 L345.51 237.14 L344.46 237.12 L343.40 237.10 L342.35 237.07 L341.29 237.03 L340.24 236.99 L339.18 236.94 L338.13 236.89 L337.07 236.83 L336.02 236.83 L334.96 236.84 L333.91 236.84 L332.85 236.85 L331.80 236.84 L330.74 236.84 L329.69 236.82 L328.63 236.80 L327.58 236.77 L326.52 236.74 L325.47 236.70 L324.41 236.65 L323.36 236.60 L322.30 236.55 L321.25 236.51 L320.19 236.52 L319.14 236.52 L318.08 236.52 L317.03 236.52 L315.97 236.52 L314.92 236.50 L313.87 236.48 L312.81 236.46 L311.76 236.43 L310.70 236.39 L309.65 236.35 L308.59 236.30 L307.54 236.25 L306.48 236.20 L305.43 236.18 L304.37 236.18 L303.32 236.18 L302.26 236.18 L301.21 236.18 L300.15 236.16 L299.10 236.15 L298.04 236.12 L296.99 236.10 L295.93 236.06 L294.88 236.02 L293.82 235.98 L292.77 235.93 L291.71 235.88 L290.66 235.83 L289.60 235.83 L288.55 235.83 L287.49 235.83 L286.44 235.82 L285.38 235.81 L284.33 235.79 L283.27 235.77 L282.22 235.75 L281.16 235.71 L280.11 235.68 L279.05 235.64 L278.00 235.59 L276.94 235.55 L275.89 235.50 L274.83 235.47 L273.78 235.46 L272.72 235.46 L271.67 235.45 L270.61 235.44 L269.56 235.43 L268.50 235.41 L267.45 235.38 L266.39 235.35 L265.34 235.32 L264.28 235.28 L263.23 235.24 L262.17 235.19 L261.12 235.15 L260.06 235.10 L259.01 235.08 L257.95 235.08 L256.90 235.07 L255.84 235.06 L254.79 235.04 L253.74 235.02 L252.68 235.00 L251.63 234.97 L250.57 234.94 L249.52 234.90 L248.46 234.86 L247.41 234.82 L246.35 234.78 L245.30 234.73 L244.24 234.70 L243.19 234.69 L242.13 234.68 L241.08 234.66 L240.02 234.65 L238.97 234.63 L237.91 234.60 L236.86 234.58 L235.80 234.55 L234.75 234.51 L233.69 234.48 L232.64 234.44 L231.58 234.40 L230.53 234.35 L229.47 234.31 L228.42 234.29 L227.36 234.27 L226.31 234.26 L225.25 234.24 L224.20 234.22 L223.14 234.20 L222.09 234.17 L221.03 234.14 L219.98 234.11 L218.92 234.08 L217.87 234.04 L216.81 234.00 L215.76 233.96 L214.70 233.92 L213.65 233.88 L212.59 233.86 L211.54 233.84 L210.48 233.83 L209.43 233.81 L208.37 233.78 L207.32 233.76 L206.26 233.73 L205.21 233.70 L204.15 233.67 L203.10 233.63 L202.04 233.59 L200.99 233.55 L199.93 233.51 L198.88 233.47 L197.82 233.45 L196.77 233.43 L195.72 233.41 L194.66 233.38 L193.61 233.36 L192.55 233.33 L191.50 233.31 L190.44 233.28 L189.39 233.24 L188.33 233.21 L187.28 233.18 L186.22 233.14 L185.17 233.10 L184.11 233.06 L183.06 233.03 L182.00 233.00 L180.95 232.98 L179.89 232.96 L178.84 232.93 L177.78 232.90 L176.73 232.88 L175.67 232.85 L174.62 232.82 L173.56 232.78 L172.51 232.75 L171.45 232.72 L170.40 232.68 L169.34 232.65 L168.29 232.61 L167.23 232.58 L166.18 232.55 L165.12 232.53 L164.07 232.50 L163.01 232.47 L161.96 232.44 L160.90 232.41 L159.85 232.38 L158.79 232.35 L157.74 232.32 L156.68 232.29 L155.63 232.25 L154.57 232.22 L153.52 232.19 L152.46 232.16 L151.41 232.13 L150.35 232.10 L149.30 232.07 L148.24 232.04 L147.19 232.01 L146.13 231.98 L145.08 231.95 L144.02 231.92 L142.97 231.88 L141.91 231.85 L140.86 231.83 L139.80 231.83 L138.75 231.83Z" fill="#000"/>
<path d="M75.30 209.30 L75.97 209.30 L76.64 209.31 L77.31 209.32 L77.97 209.35 L78.64 209.40 L79.31 209.47 L79.98 209.57 L80.65 209.70 L81.32 209.87 L81.99 210.08 L82.65 210.34 L83.32 210.65 L83.99 211.01 L84.66 211.44 L85.33 211.93 L86.00 212.49 L86.67 213.13 L87.33 213.84 L88.00 214.64 L88.67 215.53 L89.34 216.51 L90.01 217.59 L90.68 218.78 L91.34 220.07 L92.01 221.47 L92.68 222.99 L93.35 224.63 L94.02 226.40 L94.69 228.30 L94.69 228.30 L100.37 228.75 L106.05 229.21 L111.72 229.67 L117.40 230.12 L123.08 230.58 L128.76 231.04 L134.44 231.49 L140.12 231.65 L145.80 231.65" fill="none" stroke="#000" stroke-width="0.9" stroke-linejoin="round" />
<path d="M663.98 228.30 L664.68 226.40 L665.38 224.63 L666.08 222.99 L666.78 221.47 L667.48 220.07 L668.18 218.78 L668.88 217.59 L669.58 216.51 L670.28 215.53 L670.98 214.64 L671.68 213.84 L672.39 213.13 L673.09 212.49 L673.79 211.93 L674.49 211.44 L675.19 211.01 L675.89 210.65 L676.59 210.34 L677.29 210.08 L677.99 209.87 L678.69 209.70 L679.39 209.57 L680.09 209.47 L680.80 209.40 L681.50 209.35 L682.20 209.32 L682.90 209.31 L683.60 209.30 L684.30 209.30" fill="none" stroke="#000" stroke-width="1.0" stroke-linejoin="round" />
<rect x="75.30" y="209.30" width="609.00" height="44.70" fill="none" stroke="#3c3c3c" stroke-width="0.62"/>
<text x="69.6" y="215.50" text-anchor="end" font-size="15.3" fill="#262626">1</text>
<text x="69.6" y="237.85" text-anchor="end" font-size="15.3" fill="#262626">0</text>
<text x="69.6" y="260.20" text-anchor="end" font-size="15.3" fill="#262626">-1</text>
<path d="M75.30 209.30v5.30 M75.30 254.00v-5.30 M134.05 209.30v5.30 M134.05 254.00v-5.30 M192.80 209.30v5.30 M192.80 254.00v-5.30 M251.55 209.30v5.30 M251.55 254.00v-5.30 M310.30 209.30v5.30 M310.30 254.00v-5.30 M369.05 209.30v5.30 M369.05 254.00v-5.30 M427.80 209.30v5.30 M427.80 254.00v-5.30 M486.55 209.30v5.30 M486.55 254.00v-5.30 M545.30 209.30v5.30 M545.30 254.00v-5.30 M604.05 209.30v5.30 M604.05 254.00v-5.30 M662.80 209.30v5.30 M662.80 254.00v-5.30 M75.30 209.30h5.30 M684.30 209.30h-5.30 M75.30 231.65h5.30 M684.30 231.65h-5.30 M75.30 254.00h5.30 M684.30 254.00h-5.30 " stroke="#3c3c3c" stroke-width="0.7" fill="none"/>
<path d="M75.30 318.80 L77.34 318.80 L79.37 318.80 L81.41 318.80 L83.45 318.80 L85.48 318.80 L87.52 318.80 L89.56 318.80 L91.59 318.79 L93.63 318.79 L95.67 318.79 L97.70 318.79 L99.74 318.79 L101.78 318.79 L103.82 318.79 L105.85 318.79 L107.89 318.79 L109.93 318.79 L111.96 318.78 L114.00 318.78 L116.04 318.78 L118.07 318.78 L120.11 318.78 L122.15 318.78 L124.18 318.78 L126.22 318.77 L128.26 318.77 L130.29 318.77 L132.33 318.76 L134.37 318.76 L136.40 318.76 L138.44 318.75 L140.48 318.75 L142.51 318.74 L144.55 318.74 L146.59 318.73 L148.62 318.73 L150.66 318.72 L152.70 318.72 L154.73 318.71 L156.77 318.71 L158.81 318.70 L160.85 318.69 L162.88 318.68 L164.92 318.66 L166.96 318.65 L168.99 318.64 L171.03 318.62 L173.07 318.61 L175.10 318.60 L177.14 318.59 L179.18 318.58 L181.21 318.56 L183.25 318.55 L185.29 318.53 L187.32 318.52 L189.36 318.49 L191.40 318.46 L193.43 318.43 L195.47 318.40 L197.51 318.37 L199.54 318.33 L201.58 318.30 L203.62 318.27 L205.65 318.25 L207.69 318.23 L209.73 318.20 L211.76 318.18 L213.80 318.15 L215.84 318.11 L217.88 318.07 L219.91 318.01 L221.95 317.95 L223.99 317.88 L226.02 317.81 L228.06 317.74 L230.10 317.68 L232.13 317.62 L234.17 317.58 L236.21 317.53 L238.24 317.50 L240.28 317.46 L242.32 317.42 L244.35 317.36 L246.39 317.29 L248.43 317.20 L250.46 317.09 L252.50 316.98 L254.54 316.86 L256.57 316.74 L258.61 316.62 L260.65 316.53 L262.68 316.45 L264.72 316.39 L266.76 316.34 L268.79 316.30 L270.83 316.25 L272.87 316.19 L274.91 316.10 L276.94 315.98 L278.98 315.84 L281.02 315.67 L283.05 315.49 L285.09 315.32 L287.13 315.15 L289.16 315.01 L291.20 314.91 L293.24 314.84 L295.27 314.79 L297.31 314.76 L299.35 314.73 L301.38 314.69 L303.42 314.61 L305.46 314.50 L307.49 314.34 L309.53 314.15 L311.57 313.94 L313.60 313.72 L315.64 313.52 L317.68 313.36 L319.71 313.24 L321.75 313.17 L323.79 313.15 L325.83 313.16 L327.86 313.18 L329.90 313.20 L331.94 313.18 L333.97 313.11 L336.01 312.99 L338.05 312.82 L340.08 312.62 L342.12 312.41 L344.16 312.21 L346.19 312.05 L348.23 311.94 L350.27 311.90 L352.30 311.92 L354.34 311.99 L356.38 312.09 L358.41 312.18 L360.45 312.25 L362.49 312.28 L364.52 312.24 L366.56 312.15 L368.60 312.01 L370.63 311.85 L372.67 311.70 L374.71 311.57 L376.74 311.51 L378.78 311.51 L380.82 311.58 L382.86 311.70 L384.89 311.87 L386.93 312.04 L388.97 312.20 L391.00 312.32 L393.04 312.38 L395.08 312.38 L397.11 312.34 L399.15 312.27 L401.19 312.18 L403.22 312.12 L405.26 312.11 L407.30 312.15 L409.33 312.25 L411.37 312.41 L413.41 312.61 L415.44 312.83 L417.48 313.04 L419.52 313.22 L421.55 313.35 L423.59 313.44 L425.63 313.48 L427.66 313.49 L429.70 313.48 L431.74 313.47 L433.77 313.50 L435.81 313.56 L437.85 313.67 L439.89 313.83 L441.92 314.02 L443.96 314.23 L446.00 314.44 L448.03 314.63 L450.07 314.80 L452.11 314.92 L454.14 315.00 L456.18 315.06 L458.22 315.10 L460.25 315.13 L462.29 315.18 L464.33 315.24 L466.36 315.34 L468.40 315.47 L470.44 315.62 L472.47 315.78 L474.51 315.95 L476.55 316.11 L478.58 316.25 L480.62 316.36 L482.66 316.45 L484.69 316.52 L486.73 316.57 L488.77 316.62 L490.81 316.66 L492.84 316.72 L494.88 316.79 L496.92 316.87 L498.95 316.97 L500.99 317.08 L503.03 317.19 L505.06 317.29 L507.10 317.39 L509.14 317.47 L511.17 317.54 L513.21 317.60 L515.25 317.64 L517.28 317.68 L519.32 317.71 L521.36 317.75 L523.39 317.79 L525.43 317.84 L527.47 317.89 L529.50 317.95 L531.54 318.01 L533.58 318.07 L535.61 318.13 L537.65 318.18 L539.69 318.22 L541.72 318.25 L543.76 318.28 L545.80 318.30 L547.84 318.32 L549.87 318.34 L551.91 318.36 L553.95 318.38 L555.98 318.41 L558.02 318.44 L560.06 318.47 L562.09 318.50 L564.13 318.52 L566.17 318.54 L568.20 318.56 L570.24 318.58 L572.28 318.60 L574.31 318.61 L576.35 318.62 L578.39 318.63 L580.42 318.64 L582.46 318.65 L584.50 318.66 L586.53 318.67 L588.57 318.68 L590.61 318.69 L592.64 318.70 L594.68 318.71 L596.72 318.72 L598.75 318.73 L600.79 318.73 L602.83 318.74 L604.87 318.74 L606.90 318.74 L608.94 318.75 L610.98 318.75 L613.01 318.75 L615.05 318.76 L617.09 318.76 L619.12 318.77 L621.16 318.77 L623.20 318.77 L625.23 318.78 L627.27 318.78 L629.31 318.78 L631.34 318.78 L633.38 318.78 L635.42 318.78 L637.45 318.79 L639.49 318.79 L641.53 318.79 L643.56 318.79 L645.60 318.79 L647.64 318.79 L649.67 318.79 L651.71 318.79 L653.75 318.79 L655.78 318.79 L657.82 318.79 L659.86 318.80 L661.90 318.80 L663.93 318.80 L665.97 318.80 L668.01 318.80 L670.04 318.80 L672.08 318.80 L674.12 318.80 L676.15 318.80 L678.19 318.80 L680.23 318.80 L682.26 318.80 L684.30 318.80" fill="none" stroke="#000" stroke-width="1.3" stroke-linejoin="round" />
<rect x="75.30" y="273.90" width="609.00" height="44.90" fill="none" stroke="#3c3c3c" stroke-width="0.62"/>
<text x="69.6" y="280.10" text-anchor="end" font-size="15.3" fill="#262626">1</text>
<text x="69.6" y="302.55" text-anchor="end" font-size="15.3" fill="#262626">0</text>
<text x="69.6" y="325.00" text-anchor="end" font-size="15.3" fill="#262626">-1</text>
<path d="M75.30 273.90v5.30 M75.30 318.80v-5.30 M134.05 273.90v5.30 M134.05 318.80v-5.30 M192.80 273.90v5.30 M192.80 318.80v-5.30 M251.55 273.90v5.30 M251.55 318.80v-5.30 M310.30 273.90v5.30 M310.30 318.80v-5.30 M369.05 273.90v5.30 M369.05 318.80v-5.30 M427.80 273.90v5.30 M427.80 318.80v-5.30 M486.55 273.90v5.30 M486.55 318.80v-5.30 M545.30 273.90v5.30 M545.30 318.80v-5.30 M604.05 273.90v5.30 M604.05 318.80v-5.30 M662.80 273.90v5.30 M662.80 318.80v-5.30 M75.30 273.90h5.30 M684.30 273.90h-5.30 M75.30 296.35h5.30 M684.30 296.35h-5.30 M75.30 318.80h5.30 M684.30 318.80h-5.30 " stroke="#3c3c3c" stroke-width="0.7" fill="none"/>
<text x="75.30" y="339.4" text-anchor="middle" font-size="15.3" fill="#262626">0</text>
<text x="134.05" y="339.4" text-anchor="middle" font-size="15.3" fill="#262626">5</text>
<text x="192.80" y="339.4" text-anchor="middle" font-size="15.3" fill="#262626">10</text>
<text x="251.55" y="339.4" text-anchor="middle" font-size="15.3" fill="#262626">15</text>
<text x="310.30" y="339.4" text-anchor="middle" font-size="15.3" fill="#262626">20</text>
<text x="369.05" y="339.4" text-anchor="middle" font-size="15.3" fill="#262626">25</text>
<text x="427.80" y="339.4" text-anchor="middle" font-size="15.3" fill="#262626">30</text>
<text x="486.55" y="339.4" text-anchor="middle" font-size="15.3" fill="#262626">35</text>
<text x="545.30" y="339.4" text-anchor="middle" font-size="15.3" fill="#262626">40</text>
<text x="604.05" y="339.4" text-anchor="middle" font-size="15.3" fill="#262626">45</text>
<text x="662.80" y="339.4" text-anchor="middle" font-size="15.3" fill="#262626">50</text>
<text x="377.6" y="354.5" text-anchor="middle" font-size="16.8" fill="#262626">t [ns]</text>
<text transform="translate(12.90 74.30) rotate(-90)" text-anchor="start" font-size="16.8" fill="#262626">ΔE<tspan font-size="14.6" dy="8.4" dx="0.8">z</tspan><tspan dy="-8.4" dx="0.6"> [V/m]</tspan></text>
<text transform="translate(30.20 102.40) rotate(-90)" text-anchor="middle" font-size="16.8" fill="#262626">E<tspan font-size="13.4" dy="8.9">ac</tspan><tspan dy="-8.9"> [V/m]</tspan></text>
<g transform="translate(42.80 168.30) rotate(-90)" fill="#262626" font-size="16.8">
<text x="-18.4" y="0">&lt;</text>
<text x="-9.3" y="0.2" font-family="Liberation Serif, serif" font-style="italic" font-size="18.5">σ</text>
<text x="1.3" y="8.4" font-size="13.4">z</text>
<text x="1.6" y="-7.9" font-size="13.4">ff</text>
<text x="9.8" y="0">&gt;</text>
</g>
<g transform="translate(42.80 232.30) rotate(-90)" fill="#262626" font-size="16.8">
<text x="-18.4" y="0">&lt;</text>
<text x="-9.3" y="0.2" font-family="Liberation Serif, serif" font-style="italic" font-size="18.5">σ</text>
<text x="1.3" y="8.4" font-size="13.4">z</text>
<text x="1.6" y="-7.9" font-size="13.4">id</text>
<text x="9.8" y="0">&gt;</text>
</g>
<text transform="translate(50.00 296.90) rotate(-90)" text-anchor="middle" font-size="16.8" fill="#262626">Charge</text>
<text x="342.5" y="391.6" text-anchor="middle" font-family="Liberation Serif,serif" font-size="19" fill="#1a1a1a">(a)</text>
<text x="342.5" y="753.1" text-anchor="middle" font-family="Liberation Serif,serif" font-size="19" fill="#1a1a1a">(b)</text>
<path d="M37.41 626.30L174.59 605.80 M37.41 626.30L116.61 661.80 M37.41 626.30L37.41 473.30 M174.59 605.80L174.59 452.80 M77.01 644.05L214.19 623.55 M106.00 616.05L185.20 651.55 M106.00 616.05L106.00 463.05 M214.19 623.55L214.19 470.55 M116.61 661.80L253.79 641.30 M174.59 605.80L253.79 641.30 M174.59 605.80L174.59 452.80 M253.79 641.30L253.79 488.30 M37.41 626.30L174.59 605.80 M174.59 605.80L253.79 641.30 M37.41 588.05L174.59 567.55 M174.59 567.55L253.79 603.05 M37.41 549.80L174.59 529.30 M174.59 529.30L253.79 564.80 M37.41 511.55L174.59 491.05 M174.59 491.05L253.79 526.55 M37.41 473.30L174.59 452.80 M174.59 452.80L253.79 488.30 " stroke="#dedede" stroke-width="0.8" fill="none"/>
<circle cx="145.60" cy="557.30" r="78.30" fill="#1e0aa0" fill-opacity="0.18"/>
<path d="M106.00 539.55L185.20 575.05 M77.01 567.55L214.19 547.05 M145.60 633.80L145.60 480.80 " stroke="#000" stroke-width="1.0" fill="none"/>
<path d="M37.41 626.30L37.41 473.30 M37.41 626.30L116.61 661.80 M116.61 661.80L253.79 641.30 M37.41 626.30l-3.7 -1.7 M37.41 588.05l-3.7 -1.7 M37.41 549.80l-3.7 -1.7 M37.41 511.55l-3.7 -1.7 M37.41 473.30l-3.7 -1.7 M37.41 626.30l-3.2 0.5 M116.61 661.80l3.0 1.4 M77.01 644.05l-3.2 0.5 M185.20 651.55l3.0 1.4 M116.61 661.80l-3.2 0.5 M253.79 641.30l3.0 1.4 " stroke="#3c3c3c" stroke-width="0.7" fill="none"/>
<text x="28.81" y="629.10" text-anchor="end" font-size="15.3" fill="#262626">-1</text>
<text x="28.81" y="590.85" text-anchor="end" font-size="15.3" fill="#262626">-0.5</text>
<text x="28.81" y="552.60" text-anchor="end" font-size="15.3" fill="#262626">0</text>
<text x="28.81" y="514.35" text-anchor="end" font-size="15.3" fill="#262626">0.5</text>
<text x="28.81" y="476.10" text-anchor="end" font-size="15.3" fill="#262626">1</text>
<text x="64.41" y="662.25" text-anchor="middle" font-size="15.3" fill="#262626">0</text>
<text x="104.01" y="680.00" text-anchor="middle" font-size="15.3" fill="#262626">1</text>
<text x="130.71" y="681.60" text-anchor="middle" font-size="15.3" fill="#262626">-1</text>
<text x="197.60" y="671.35" text-anchor="middle" font-size="15.3" fill="#262626">0</text>
<text x="266.19" y="661.10" text-anchor="middle" font-size="15.3" fill="#262626">1</text>
<path d="M141.90 478.30h7.40l-3.70 7.96z" fill="#3b2fd0"/>
<rect x="144.7" y="535.9" width="1.75" height="1.75" fill="#fcbc3d"/>
<rect x="140.0" y="536.0" width="1.75" height="1.75" fill="#fcbd3d"/>
<rect x="149.5" y="536.0" width="1.75" height="1.75" fill="#fec03b"/>
<rect x="135.2" y="536.1" width="1.75" height="1.75" fill="#fec03a"/>
<rect x="154.3" y="536.1" width="1.75" height="1.75" fill="#febf3b"/>
<rect x="143.7" y="531.7" width="1.75" height="1.75" fill="#fec03b"/>
<rect x="130.5" y="536.3" width="1.75" height="1.75" fill="#febf3c"/>
<rect x="159.0" y="536.3" width="1.75" height="1.75" fill="#fcbc3d"/>
<rect x="134.9" y="533.2" width="1.75" height="1.75" fill="#fabb3d"/>
<rect x="152.6" y="531.9" width="1.75" height="1.75" fill="#febe3c"/>
<rect x="145.1" y="531.4" width="1.75" height="1.75" fill="#d7be28"/>
<rect x="125.8" y="536.5" width="1.75" height="1.75" fill="#fbbc3d"/>
<rect x="163.7" y="536.5" width="1.75" height="1.75" fill="#fdbd3d"/>
<rect x="161.4" y="533.4" width="1.75" height="1.75" fill="#f6ba3b"/>
<rect x="126.2" y="532.0" width="1.75" height="1.75" fill="#edba33"/>
<rect x="121.2" y="536.9" width="1.75" height="1.75" fill="#febe3c"/>
<rect x="168.3" y="536.9" width="1.75" height="1.75" fill="#fec13a"/>
<rect x="155.5" y="528.6" width="1.75" height="1.75" fill="#bec32e"/>
<rect x="128.4" y="530.0" width="1.75" height="1.75" fill="#c8c129"/>
<rect x="116.7" y="537.3" width="1.75" height="1.75" fill="#fec13a"/>
<rect x="172.8" y="537.3" width="1.75" height="1.75" fill="#febe3c"/>
<rect x="169.9" y="532.4" width="1.75" height="1.75" fill="#e9bb2f"/>
<rect x="138.8" y="526.6" width="1.75" height="1.75" fill="#adc638"/>
<rect x="117.7" y="533.5" width="1.75" height="1.75" fill="#e5bb2c"/>
<rect x="112.2" y="537.7" width="1.75" height="1.75" fill="#febd3c"/>
<rect x="177.2" y="537.7" width="1.75" height="1.75" fill="#fbbc3d"/>
<rect x="171.9" y="531.5" width="1.75" height="1.75" fill="#cec028"/>
<rect x="148.9" y="523.7" width="1.75" height="1.75" fill="#8fcb4e"/>
<rect x="178.2" y="534.3" width="1.75" height="1.75" fill="#e5bb2c"/>
<rect x="107.9" y="538.3" width="1.75" height="1.75" fill="#fcbc3d"/>
<rect x="165.2" y="526.2" width="1.75" height="1.75" fill="#a2c840"/>
<rect x="181.5" y="538.3" width="1.75" height="1.75" fill="#febf3c"/>
<rect x="109.5" y="534.9" width="1.75" height="1.75" fill="#e9bb30"/>
<rect x="122.8" y="525.7" width="1.75" height="1.75" fill="#9bc945"/>
<rect x="133.0" y="521.6" width="1.75" height="1.75" fill="#7ccc5c"/>
<rect x="103.8" y="538.9" width="1.75" height="1.75" fill="#febf3b"/>
<rect x="112.8" y="529.5" width="1.75" height="1.75" fill="#b8c431"/>
<rect x="185.7" y="538.9" width="1.75" height="1.75" fill="#fec13a"/>
<rect x="186.0" y="535.6" width="1.75" height="1.75" fill="#edba34"/>
<rect x="158.4" y="520.0" width="1.75" height="1.75" fill="#70cd65"/>
<rect x="180.9" y="529.6" width="1.75" height="1.75" fill="#b4c534"/>
<rect x="99.7" y="539.6" width="1.75" height="1.75" fill="#fec13a"/>
<rect x="189.7" y="539.6" width="1.75" height="1.75" fill="#fdbd3d"/>
<rect x="101.8" y="534.5" width="1.75" height="1.75" fill="#f6ba3b"/>
<rect x="142.9" y="517.3" width="1.75" height="1.75" fill="#60cd72"/>
<rect x="103.2" y="533.8" width="1.75" height="1.75" fill="#d2bf27"/>
<rect x="174.0" y="523.9" width="1.75" height="1.75" fill="#83cc57"/>
<rect x="95.9" y="540.3" width="1.75" height="1.75" fill="#fdbd3d"/>
<rect x="193.6" y="540.3" width="1.75" height="1.75" fill="#fcbd3d"/>
<rect x="118.4" y="519.9" width="1.75" height="1.75" fill="#69cd6b"/>
<rect x="193.2" y="535.5" width="1.75" height="1.75" fill="#fabb3d"/>
<rect x="152.0" y="514.6" width="1.75" height="1.75" fill="#4dcc82"/>
<rect x="108.4" y="525.3" width="1.75" height="1.75" fill="#88cb53"/>
<rect x="128.1" y="516.1" width="1.75" height="1.75" fill="#54cc7c"/>
<rect x="94.6" y="537.4" width="1.75" height="1.75" fill="#febe3c"/>
<rect x="166.9" y="517.1" width="1.75" height="1.75" fill="#59cc78"/>
<rect x="92.2" y="541.1" width="1.75" height="1.75" fill="#fdbd3d"/>
<rect x="197.3" y="541.1" width="1.75" height="1.75" fill="#fec03a"/>
<rect x="137.5" y="513.0" width="1.75" height="1.75" fill="#42ca8b"/>
<rect x="99.0" y="529.8" width="1.75" height="1.75" fill="#a6c83d"/>
<rect x="188.7" y="528.1" width="1.75" height="1.75" fill="#96ca48"/>
<rect x="195.1" y="533.9" width="1.75" height="1.75" fill="#c5c22a"/>
<rect x="88.7" y="541.9" width="1.75" height="1.75" fill="#fec13a"/>
<rect x="200.7" y="541.9" width="1.75" height="1.75" fill="#fec13a"/>
<rect x="160.4" y="512.4" width="1.75" height="1.75" fill="#3dc990"/>
<rect x="200.0" y="538.7" width="1.75" height="1.75" fill="#fec03b"/>
<rect x="146.3" y="510.4" width="1.75" height="1.75" fill="#36c899"/>
<rect x="181.3" y="520.6" width="1.75" height="1.75" fill="#65cd6e"/>
<rect x="88.1" y="538.4" width="1.75" height="1.75" fill="#fec03b"/>
<rect x="124.0" y="512.2" width="1.75" height="1.75" fill="#3ac994"/>
<rect x="114.9" y="515.7" width="1.75" height="1.75" fill="#49cb86"/>
<rect x="90.3" y="534.6" width="1.75" height="1.75" fill="#c2c22c"/>
<rect x="174.4" y="515.3" width="1.75" height="1.75" fill="#46cb88"/>
<rect x="85.5" y="542.8" width="1.75" height="1.75" fill="#fec13a"/>
<rect x="204.0" y="542.8" width="1.75" height="1.75" fill="#fdbd3d"/>
<rect x="132.9" y="509.2" width="1.75" height="1.75" fill="#31c6a0"/>
<rect x="105.6" y="519.7" width="1.75" height="1.75" fill="#5ccc76"/>
<rect x="154.4" y="508.2" width="1.75" height="1.75" fill="#2dc4a5"/>
<rect x="167.7" y="510.6" width="1.75" height="1.75" fill="#33c69d"/>
<rect x="141.3" y="506.6" width="1.75" height="1.75" fill="#27c2ac"/>
<rect x="96.4" y="525.0" width="1.75" height="1.75" fill="#74cc62"/>
<rect x="205.9" y="539.6" width="1.75" height="1.75" fill="#febe3c"/>
<rect x="82.4" y="543.8" width="1.75" height="1.75" fill="#fdbd3d"/>
<rect x="207.1" y="543.8" width="1.75" height="1.75" fill="#febe3c"/>
<rect x="194.8" y="525.9" width="1.75" height="1.75" fill="#77cc60"/>
<rect x="201.6" y="532.7" width="1.75" height="1.75" fill="#a9c73b"/>
<rect x="82.3" y="539.3" width="1.75" height="1.75" fill="#fabb3d"/>
<rect x="187.6" y="519.0" width="1.75" height="1.75" fill="#52cc7e"/>
<rect x="149.1" y="504.2" width="1.75" height="1.75" fill="#17bfb6"/>
<rect x="120.7" y="508.7" width="1.75" height="1.75" fill="#2bc3a8"/>
<rect x="161.6" y="506.3" width="1.75" height="1.75" fill="#22c1b0"/>
<rect x="207.0" y="539.0" width="1.75" height="1.75" fill="#d4bf28"/>
<rect x="112.2" y="512.1" width="1.75" height="1.75" fill="#34c79c"/>
<rect x="129.0" y="505.6" width="1.75" height="1.75" fill="#1ec0b2"/>
<rect x="180.6" y="513.8" width="1.75" height="1.75" fill="#38c896"/>
<rect x="87.8" y="530.9" width="1.75" height="1.75" fill="#93ca4a"/>
<rect x="79.6" y="544.8" width="1.75" height="1.75" fill="#fec03b"/>
<rect x="209.9" y="544.8" width="1.75" height="1.75" fill="#fec338"/>
<rect x="137.0" y="502.8" width="1.75" height="1.75" fill="#0abdbd"/>
<rect x="103.6" y="516.0" width="1.75" height="1.75" fill="#3fca8e"/>
<rect x="174.0" y="509.1" width="1.75" height="1.75" fill="#2ac3a9"/>
<rect x="156.1" y="501.9" width="1.75" height="1.75" fill="#05bbc1"/>
<rect x="211.1" y="540.9" width="1.75" height="1.75" fill="#f5ba3b"/>
<rect x="144.4" y="499.9" width="1.75" height="1.75" fill="#01b9c7"/>
<rect x="77.0" y="545.8" width="1.75" height="1.75" fill="#fec438"/>
<rect x="212.5" y="545.8" width="1.75" height="1.75" fill="#fec239"/>
<rect x="95.2" y="520.4" width="1.75" height="1.75" fill="#50cc80"/>
<rect x="77.2" y="542.8" width="1.75" height="1.75" fill="#edba33"/>
<rect x="167.9" y="504.5" width="1.75" height="1.75" fill="#0fbeba"/>
<rect x="80.4" y="536.0" width="1.75" height="1.75" fill="#b1c635"/>
<rect x="118.2" y="505.3" width="1.75" height="1.75" fill="#12beb9"/>
<rect x="125.9" y="501.8" width="1.75" height="1.75" fill="#02bac3"/>
<rect x="199.3" y="523.6" width="1.75" height="1.75" fill="#5dcc74"/>
<rect x="192.5" y="517.8" width="1.75" height="1.75" fill="#40ca8d"/>
<rect x="206.4" y="531.7" width="1.75" height="1.75" fill="#8bcb51"/>
<rect x="110.3" y="508.9" width="1.75" height="1.75" fill="#24c1ae"/>
<rect x="133.4" y="498.3" width="1.75" height="1.75" fill="#04b6cd"/>
<rect x="185.7" y="512.6" width="1.75" height="1.75" fill="#2fc5a2"/>
<rect x="151.1" y="497.0" width="1.75" height="1.75" fill="#08b4d1"/>
<rect x="74.6" y="546.9" width="1.75" height="1.75" fill="#fec239"/>
<rect x="214.9" y="546.9" width="1.75" height="1.75" fill="#febf3b"/>
<rect x="162.2" y="499.5" width="1.75" height="1.75" fill="#02b7cb"/>
<rect x="87.4" y="525.3" width="1.75" height="1.75" fill="#63cd70"/>
<rect x="179.2" y="507.7" width="1.75" height="1.75" fill="#1bc0b4"/>
<rect x="102.5" y="512.7" width="1.75" height="1.75" fill="#2fc5a3"/>
<rect x="211.9" y="538.1" width="1.75" height="1.75" fill="#bac430"/>
<rect x="140.4" y="495.0" width="1.75" height="1.75" fill="#11b1d6"/>
<rect x="215.6" y="544.4" width="1.75" height="1.75" fill="#e9bb2f"/>
<rect x="173.2" y="502.7" width="1.75" height="1.75" fill="#02bac5"/>
<rect x="72.5" y="548.0" width="1.75" height="1.75" fill="#fec03a"/>
<rect x="217.0" y="548.0" width="1.75" height="1.75" fill="#fec338"/>
<rect x="73.1" y="543.5" width="1.75" height="1.75" fill="#e5bb2c"/>
<rect x="94.8" y="516.9" width="1.75" height="1.75" fill="#37c897"/>
<rect x="157.0" y="494.2" width="1.75" height="1.75" fill="#15afd9"/>
<rect x="116.3" y="501.3" width="1.75" height="1.75" fill="#01b8c9"/>
<rect x="123.6" y="497.4" width="1.75" height="1.75" fill="#0cb3d3"/>
<rect x="74.4" y="541.5" width="1.75" height="1.75" fill="#ccc028"/>
<rect x="146.8" y="491.9" width="1.75" height="1.75" fill="#1aabdd"/>
<rect x="79.8" y="532.0" width="1.75" height="1.75" fill="#80cc59"/>
<rect x="109.1" y="505.4" width="1.75" height="1.75" fill="#07bcbf"/>
<rect x="130.6" y="493.6" width="1.75" height="1.75" fill="#18aedb"/>
<rect x="167.3" y="497.1" width="1.75" height="1.75" fill="#0eb2d4"/>
<rect x="196.0" y="516.8" width="1.75" height="1.75" fill="#35c79a"/>
<rect x="189.5" y="511.5" width="1.75" height="1.75" fill="#25c2ad"/>
<rect x="202.5" y="522.5" width="1.75" height="1.75" fill="#4acb84"/>
<rect x="183.4" y="506.3" width="1.75" height="1.75" fill="#08bcbe"/>
<rect x="137.2" y="490.3" width="1.75" height="1.75" fill="#1ea7e1"/>
<rect x="70.7" y="549.2" width="1.75" height="1.75" fill="#fec536"/>
<rect x="218.8" y="549.2" width="1.75" height="1.75" fill="#fec835"/>
<rect x="102.0" y="509.5" width="1.75" height="1.75" fill="#1abfb5"/>
<rect x="87.6" y="521.6" width="1.75" height="1.75" fill="#45cb89"/>
<rect x="209.0" y="529.3" width="1.75" height="1.75" fill="#6ccd69"/>
<rect x="152.3" y="489.2" width="1.75" height="1.75" fill="#20a5e2"/>
<rect x="177.3" y="500.6" width="1.75" height="1.75" fill="#06b6ce"/>
<rect x="161.9" y="491.7" width="1.75" height="1.75" fill="#1da9e0"/>
<rect x="219.0" y="545.0" width="1.75" height="1.75" fill="#e5bb2d"/>
<rect x="215.0" y="537.4" width="1.75" height="1.75" fill="#9ec943"/>
<rect x="143.2" y="487.4" width="1.75" height="1.75" fill="#23a0e5"/>
<rect x="122.3" y="492.8" width="1.75" height="1.75" fill="#1caadf"/>
<rect x="115.5" y="496.8" width="1.75" height="1.75" fill="#14b0d8"/>
<rect x="95.2" y="513.7" width="1.75" height="1.75" fill="#29c3aa"/>
<rect x="69.8" y="545.8" width="1.75" height="1.75" fill="#e9bb30"/>
<rect x="171.4" y="494.8" width="1.75" height="1.75" fill="#19addc"/>
<rect x="73.8" y="537.9" width="1.75" height="1.75" fill="#9fc942"/>
<rect x="69.1" y="550.3" width="1.75" height="1.75" fill="#fec934"/>
<rect x="220.3" y="550.3" width="1.75" height="1.75" fill="#fec636"/>
<rect x="128.8" y="489.2" width="1.75" height="1.75" fill="#21a3e3"/>
<rect x="108.7" y="501.2" width="1.75" height="1.75" fill="#07b5cf"/>
<rect x="81.1" y="526.7" width="1.75" height="1.75" fill="#57cc7a"/>
<rect x="157.0" y="486.9" width="1.75" height="1.75" fill="#249ee6"/>
<rect x="219.1" y="544.1" width="1.75" height="1.75" fill="#cbc129"/>
<rect x="134.9" y="486.2" width="1.75" height="1.75" fill="#259ce7"/>
<rect x="148.3" y="485.0" width="1.75" height="1.75" fill="#2699e9"/>
<rect x="192.2" y="510.5" width="1.75" height="1.75" fill="#14beb8"/>
<rect x="102.2" y="505.8" width="1.75" height="1.75" fill="#01b9c6"/>
<rect x="186.2" y="504.7" width="1.75" height="1.75" fill="#01b8c8"/>
<rect x="165.7" y="489.5" width="1.75" height="1.75" fill="#22a2e4"/>
<rect x="198.1" y="515.9" width="1.75" height="1.75" fill="#2cc4a6"/>
<rect x="88.8" y="518.2" width="1.75" height="1.75" fill="#32c69f"/>
<rect x="180.2" y="498.6" width="1.75" height="1.75" fill="#13b0d7"/>
<rect x="67.8" y="551.5" width="1.75" height="1.75" fill="#fec735"/>
<rect x="221.6" y="551.5" width="1.75" height="1.75" fill="#fec636"/>
<rect x="204.3" y="521.6" width="1.75" height="1.75" fill="#3bc992"/>
<rect x="140.4" y="483.6" width="1.75" height="1.75" fill="#2995ec"/>
<rect x="221.6" y="547.6" width="1.75" height="1.75" fill="#eeba34"/>
<rect x="121.8" y="488.6" width="1.75" height="1.75" fill="#249fe6"/>
<rect x="96.1" y="510.3" width="1.75" height="1.75" fill="#0dbdbb"/>
<rect x="174.2" y="492.7" width="1.75" height="1.75" fill="#1fa6e1"/>
<rect x="115.6" y="492.4" width="1.75" height="1.75" fill="#1fa6e2"/>
<rect x="210.2" y="527.9" width="1.75" height="1.75" fill="#56cc7b"/>
<rect x="127.9" y="485.4" width="1.75" height="1.75" fill="#2798ea"/>
<rect x="67.4" y="549.1" width="1.75" height="1.75" fill="#f6ba3b"/>
<rect x="152.6" y="483.0" width="1.75" height="1.75" fill="#2b92ee"/>
<rect x="160.5" y="485.0" width="1.75" height="1.75" fill="#2797eb"/>
<rect x="109.4" y="496.6" width="1.75" height="1.75" fill="#19acdc"/>
<rect x="69.5" y="543.6" width="1.75" height="1.75" fill="#bcc42f"/>
<rect x="75.5" y="532.7" width="1.75" height="1.75" fill="#6dcd67"/>
<rect x="66.8" y="552.7" width="1.75" height="1.75" fill="#fec934"/>
<rect x="222.6" y="552.7" width="1.75" height="1.75" fill="#fdcd31"/>
<rect x="145.1" y="481.6" width="1.75" height="1.75" fill="#2d8df2"/>
<rect x="133.6" y="482.8" width="1.75" height="1.75" fill="#2c90f0"/>
<rect x="216.1" y="536.1" width="1.75" height="1.75" fill="#7fcc5a"/>
<rect x="168.5" y="487.6" width="1.75" height="1.75" fill="#259be8"/>
<rect x="83.1" y="523.1" width="1.75" height="1.75" fill="#3cc992"/>
<rect x="103.3" y="501.3" width="1.75" height="1.75" fill="#0fb2d5"/>
<rect x="187.9" y="502.8" width="1.75" height="1.75" fill="#0ab4d2"/>
<rect x="193.6" y="509.2" width="1.75" height="1.75" fill="#03bbc2"/>
<rect x="90.6" y="514.9" width="1.75" height="1.75" fill="#20c1b1"/>
<rect x="181.9" y="496.5" width="1.75" height="1.75" fill="#1baade"/>
<rect x="138.6" y="480.8" width="1.75" height="1.75" fill="#2d88f6"/>
<rect x="199.1" y="515.0" width="1.75" height="1.75" fill="#1fc1b1"/>
<rect x="155.7" y="481.5" width="1.75" height="1.75" fill="#2d8af4"/>
<rect x="220.4" y="543.4" width="1.75" height="1.75" fill="#b0c636"/>
<rect x="176.0" y="490.8" width="1.75" height="1.75" fill="#239fe5"/>
<rect x="162.9" y="483.5" width="1.75" height="1.75" fill="#2c8ff1"/>
<rect x="66.1" y="554.0" width="1.75" height="1.75" fill="#fcd12f"/>
<rect x="223.4" y="554.0" width="1.75" height="1.75" fill="#fbd12f"/>
<rect x="148.9" y="480.2" width="1.75" height="1.75" fill="#2e85f8"/>
<rect x="122.5" y="485.1" width="1.75" height="1.75" fill="#2a93ee"/>
<rect x="97.8" y="506.2" width="1.75" height="1.75" fill="#03b7cc"/>
<rect x="116.6" y="488.4" width="1.75" height="1.75" fill="#269ae8"/>
<rect x="223.3" y="550.8" width="1.75" height="1.75" fill="#fabb3d"/>
<rect x="204.7" y="520.8" width="1.75" height="1.75" fill="#32c69f"/>
<rect x="128.2" y="482.5" width="1.75" height="1.75" fill="#2d8bf4"/>
<rect x="110.9" y="492.3" width="1.75" height="1.75" fill="#22a1e4"/>
<rect x="170.0" y="486.0" width="1.75" height="1.75" fill="#2994ed"/>
<rect x="70.8" y="539.9" width="1.75" height="1.75" fill="#8ccb50"/>
<rect x="66.1" y="549.7" width="1.75" height="1.75" fill="#febe3c"/>
<rect x="133.3" y="480.5" width="1.75" height="1.75" fill="#2e83f9"/>
<rect x="78.2" y="528.4" width="1.75" height="1.75" fill="#4bcb83"/>
<rect x="66.9" y="549.5" width="1.75" height="1.75" fill="#d5be28"/>
<rect x="210.1" y="527.0" width="1.75" height="1.75" fill="#44cb8a"/>
<rect x="85.7" y="519.7" width="1.75" height="1.75" fill="#2dc4a6"/>
<rect x="105.4" y="496.7" width="1.75" height="1.75" fill="#1da8e0"/>
<rect x="157.8" y="480.5" width="1.75" height="1.75" fill="#2f82fa"/>
<rect x="65.7" y="555.2" width="1.75" height="1.75" fill="#fad42e"/>
<rect x="223.8" y="555.2" width="1.75" height="1.75" fill="#fcd030"/>
<rect x="92.8" y="511.3" width="1.75" height="1.75" fill="#04bbc2"/>
<rect x="188.3" y="500.9" width="1.75" height="1.75" fill="#17aeda"/>
<rect x="182.4" y="494.6" width="1.75" height="1.75" fill="#21a4e3"/>
<rect x="164.1" y="482.3" width="1.75" height="1.75" fill="#2e87f7"/>
<rect x="193.8" y="507.6" width="1.75" height="1.75" fill="#03b7cc"/>
<rect x="176.5" y="489.2" width="1.75" height="1.75" fill="#2798ea"/>
<rect x="215.0" y="533.8" width="1.75" height="1.75" fill="#62cd70"/>
<rect x="100.3" y="501.6" width="1.75" height="1.75" fill="#16aeda"/>
<rect x="124.3" y="482.5" width="1.75" height="1.75" fill="#2e86f7"/>
<rect x="118.9" y="485.1" width="1.75" height="1.75" fill="#2c8ef1"/>
<rect x="199.0" y="514.0" width="1.75" height="1.75" fill="#0cbdbc"/>
<rect x="129.3" y="480.5" width="1.75" height="1.75" fill="#317efb"/>
<rect x="113.4" y="488.5" width="1.75" height="1.75" fill="#2896ec"/>
<rect x="170.3" y="484.7" width="1.75" height="1.75" fill="#2d8cf3"/>
<rect x="65.5" y="556.4" width="1.75" height="1.75" fill="#fad42e"/>
<rect x="223.9" y="556.4" width="1.75" height="1.75" fill="#fad52e"/>
<rect x="223.8" y="551.5" width="1.75" height="1.75" fill="#fec03b"/>
<rect x="158.9" y="480.0" width="1.75" height="1.75" fill="#3579fd"/>
<rect x="203.8" y="520.0" width="1.75" height="1.75" fill="#28c3ab"/>
<rect x="81.6" y="524.7" width="1.75" height="1.75" fill="#35c79a"/>
<rect x="108.3" y="492.5" width="1.75" height="1.75" fill="#249de7"/>
<rect x="88.7" y="516.2" width="1.75" height="1.75" fill="#15bfb7"/>
<rect x="219.7" y="542.8" width="1.75" height="1.75" fill="#92ca4b"/>
<rect x="74.6" y="534.1" width="1.75" height="1.75" fill="#5ecd74"/>
<rect x="65.6" y="553.1" width="1.75" height="1.75" fill="#fec03b"/>
<rect x="68.3" y="545.9" width="1.75" height="1.75" fill="#aac73a"/>
<rect x="164.4" y="481.6" width="1.75" height="1.75" fill="#307ffb"/>
<rect x="95.8" y="506.8" width="1.75" height="1.75" fill="#0ab4d1"/>
<rect x="181.9" y="492.9" width="1.75" height="1.75" fill="#259de7"/>
<rect x="187.5" y="498.9" width="1.75" height="1.75" fill="#1da8e0"/>
<rect x="175.8" y="487.7" width="1.75" height="1.75" fill="#2b91ef"/>
<rect x="208.6" y="526.1" width="1.75" height="1.75" fill="#37c898"/>
<rect x="126.9" y="480.8" width="1.75" height="1.75" fill="#3678fd"/>
<rect x="122.0" y="482.7" width="1.75" height="1.75" fill="#2f81fa"/>
<rect x="103.7" y="496.9" width="1.75" height="1.75" fill="#20a4e3"/>
<rect x="65.7" y="557.7" width="1.75" height="1.75" fill="#f8d92b"/>
<rect x="192.8" y="505.7" width="1.75" height="1.75" fill="#10b2d5"/>
<rect x="223.8" y="557.7" width="1.75" height="1.75" fill="#f7dd2a"/>
<rect x="169.5" y="483.7" width="1.75" height="1.75" fill="#2e84f9"/>
<rect x="117.1" y="485.3" width="1.75" height="1.75" fill="#2d89f5"/>
<rect x="222.1" y="549.8" width="1.75" height="1.75" fill="#c1c32c"/>
<rect x="197.7" y="512.6" width="1.75" height="1.75" fill="#01b9c6"/>
<rect x="163.6" y="481.1" width="1.75" height="1.75" fill="#3875fe"/>
<rect x="112.2" y="488.7" width="1.75" height="1.75" fill="#2b91ef"/>
<rect x="92.2" y="512.1" width="1.75" height="1.75" fill="#01b9c8"/>
<rect x="85.5" y="521.2" width="1.75" height="1.75" fill="#26c2ad"/>
<rect x="213.0" y="532.8" width="1.75" height="1.75" fill="#4fcc80"/>
<rect x="99.7" y="501.9" width="1.75" height="1.75" fill="#1babde"/>
<rect x="223.5" y="555.0" width="1.75" height="1.75" fill="#febe3c"/>
<rect x="78.6" y="530.1" width="1.75" height="1.75" fill="#41ca8c"/>
<rect x="66.1" y="558.9" width="1.75" height="1.75" fill="#f6e128"/>
<rect x="223.4" y="558.9" width="1.75" height="1.75" fill="#f6df29"/>
<rect x="201.9" y="519.0" width="1.75" height="1.75" fill="#19bfb5"/>
<rect x="125.9" y="481.2" width="1.75" height="1.75" fill="#3b72ff"/>
<rect x="71.8" y="541.2" width="1.75" height="1.75" fill="#79cc5e"/>
<rect x="130.4" y="479.8" width="1.75" height="1.75" fill="#4269fe"/>
<rect x="173.9" y="486.4" width="1.75" height="1.75" fill="#2d89f5"/>
<rect x="180.2" y="491.2" width="1.75" height="1.75" fill="#2895ec"/>
<rect x="107.7" y="492.7" width="1.75" height="1.75" fill="#2699ea"/>
<rect x="167.9" y="483.0" width="1.75" height="1.75" fill="#327bfc"/>
<rect x="121.3" y="483.1" width="1.75" height="1.75" fill="#327cfc"/>
<rect x="66.2" y="555.6" width="1.75" height="1.75" fill="#fabb3d"/>
<rect x="185.7" y="497.0" width="1.75" height="1.75" fill="#22a1e4"/>
<rect x="67.7" y="551.8" width="1.75" height="1.75" fill="#c6c22a"/>
<rect x="161.8" y="480.8" width="1.75" height="1.75" fill="#406cfe"/>
<rect x="216.9" y="540.8" width="1.75" height="1.75" fill="#73cd63"/>
<rect x="190.7" y="503.6" width="1.75" height="1.75" fill="#1aacdd"/>
<rect x="117.0" y="485.7" width="1.75" height="1.75" fill="#2e84f8"/>
<rect x="205.9" y="525.2" width="1.75" height="1.75" fill="#2ec5a4"/>
<rect x="96.4" y="507.2" width="1.75" height="1.75" fill="#12b1d7"/>
<rect x="89.6" y="517.4" width="1.75" height="1.75" fill="#09bcbe"/>
<rect x="104.0" y="497.2" width="1.75" height="1.75" fill="#23a0e5"/>
<rect x="66.8" y="560.1" width="1.75" height="1.75" fill="#f5e228"/>
<rect x="222.6" y="560.1" width="1.75" height="1.75" fill="#f6de29"/>
<rect x="130.8" y="480.3" width="1.75" height="1.75" fill="#4564fd"/>
<rect x="195.2" y="510.7" width="1.75" height="1.75" fill="#07b5d0"/>
<rect x="126.3" y="481.6" width="1.75" height="1.75" fill="#406dfe"/>
<rect x="165.4" y="482.5" width="1.75" height="1.75" fill="#3c72ff"/>
<rect x="171.4" y="485.4" width="1.75" height="1.75" fill="#2f81fa"/>
<rect x="83.2" y="526.3" width="1.75" height="1.75" fill="#30c5a1"/>
<rect x="112.9" y="488.9" width="1.75" height="1.75" fill="#2d8cf3"/>
<rect x="177.4" y="489.6" width="1.75" height="1.75" fill="#2c8ef2"/>
<rect x="158.9" y="480.6" width="1.75" height="1.75" fill="#4563fd"/>
<rect x="122.1" y="483.6" width="1.75" height="1.75" fill="#3876fe"/>
<rect x="219.6" y="549.1" width="1.75" height="1.75" fill="#a5c83e"/>
<rect x="76.8" y="535.8" width="1.75" height="1.75" fill="#53cc7e"/>
<rect x="183.0" y="495.1" width="1.75" height="1.75" fill="#269ae8"/>
<rect x="222.1" y="557.3" width="1.75" height="1.75" fill="#f5ba3a"/>
<rect x="209.6" y="531.7" width="1.75" height="1.75" fill="#3eca8f"/>
<rect x="199.1" y="517.8" width="1.75" height="1.75" fill="#06bcc0"/>
<rect x="132.7" y="480.6" width="1.75" height="1.75" fill="#465efb"/>
<rect x="137.7" y="479.9" width="1.75" height="1.75" fill="#4756f7"/>
<rect x="162.2" y="482.0" width="1.75" height="1.75" fill="#4369fe"/>
<rect x="70.9" y="548.1" width="1.75" height="1.75" fill="#98ca47"/>
<rect x="109.2" y="492.9" width="1.75" height="1.75" fill="#2994ed"/>
<rect x="101.2" y="502.1" width="1.75" height="1.75" fill="#1ea7e1"/>
<rect x="67.8" y="561.3" width="1.75" height="1.75" fill="#f5e128"/>
<rect x="118.3" y="486.0" width="1.75" height="1.75" fill="#307ffb"/>
<rect x="154.7" y="480.4" width="1.75" height="1.75" fill="#475bf9"/>
<rect x="221.6" y="561.3" width="1.75" height="1.75" fill="#f5e427"/>
<rect x="168.3" y="484.6" width="1.75" height="1.75" fill="#3678fe"/>
<rect x="128.0" y="482.0" width="1.75" height="1.75" fill="#4367fd"/>
<rect x="187.7" y="501.5" width="1.75" height="1.75" fill="#1fa5e2"/>
<rect x="94.1" y="512.7" width="1.75" height="1.75" fill="#05b6ce"/>
<rect x="67.9" y="556.5" width="1.75" height="1.75" fill="#edba33"/>
<rect x="148.3" y="479.9" width="1.75" height="1.75" fill="#484df0"/>
<rect x="144.7" y="479.8" width="1.75" height="1.75" fill="#4744e8"/>
<rect x="146.5" y="479.8" width="1.75" height="1.75" fill="#4848ec"/>
<rect x="143.7" y="479.8" width="1.75" height="1.75" fill="#4745e9"/>
<rect x="139.7" y="480.1" width="1.75" height="1.75" fill="#4851f3"/>
<rect x="142.7" y="479.9" width="1.75" height="1.75" fill="#4848ec"/>
<rect x="144.4" y="479.9" width="1.75" height="1.75" fill="#4742e6"/>
<rect x="145.3" y="479.9" width="1.75" height="1.75" fill="#4742e7"/>
<rect x="173.8" y="488.3" width="1.75" height="1.75" fill="#2e86f8"/>
<rect x="150.5" y="480.2" width="1.75" height="1.75" fill="#4852f4"/>
<rect x="144.8" y="479.9" width="1.75" height="1.75" fill="#4740e4"/>
<rect x="88.1" y="522.6" width="1.75" height="1.75" fill="#1cc0b3"/>
<rect x="145.8" y="480.0" width="1.75" height="1.75" fill="#4745e9"/>
<rect x="144.7" y="479.9" width="1.75" height="1.75" fill="#473fe2"/>
<rect x="144.5" y="479.9" width="1.75" height="1.75" fill="#4740e3"/>
<rect x="145.0" y="480.0" width="1.75" height="1.75" fill="#473fe3"/>
<rect x="135.5" y="480.8" width="1.75" height="1.75" fill="#4759f8"/>
<rect x="144.8" y="480.0" width="1.75" height="1.75" fill="#463de0"/>
<rect x="158.0" y="481.5" width="1.75" height="1.75" fill="#4660fb"/>
<rect x="144.0" y="480.0" width="1.75" height="1.75" fill="#4743e7"/>
<rect x="144.7" y="480.0" width="1.75" height="1.75" fill="#463ddf"/>
<rect x="144.7" y="480.0" width="1.75" height="1.75" fill="#463bdd"/>
<rect x="144.7" y="480.0" width="1.75" height="1.75" fill="#463cdf"/>
<rect x="144.7" y="480.0" width="1.75" height="1.75" fill="#463bdd"/>
<rect x="144.7" y="480.0" width="1.75" height="1.75" fill="#463bdc"/>
<rect x="144.7" y="480.0" width="1.75" height="1.75" fill="#463adc"/>
<rect x="144.7" y="480.0" width="1.75" height="1.75" fill="#463adb"/>
<rect x="144.7" y="480.0" width="1.75" height="1.75" fill="#463ada"/>
<rect x="144.7" y="480.0" width="1.75" height="1.75" fill="#4639da"/>
<rect x="144.7" y="480.0" width="1.75" height="1.75" fill="#4539d9"/>
<rect x="144.7" y="480.0" width="1.75" height="1.75" fill="#4539d8"/>
<rect x="144.7" y="480.0" width="1.75" height="1.75" fill="#4538d8"/>
<rect x="144.7" y="480.0" width="1.75" height="1.75" fill="#4538d7"/>
<rect x="144.7" y="480.0" width="1.75" height="1.75" fill="#4537d7"/>
<rect x="144.7" y="480.0" width="1.75" height="1.75" fill="#4537d6"/>
<rect x="144.7" y="480.0" width="1.75" height="1.75" fill="#4537d5"/>
<rect x="144.7" y="480.0" width="1.75" height="1.75" fill="#4536d5"/>
<rect x="144.7" y="479.9" width="1.75" height="1.75" fill="#4536d4"/>
<rect x="144.7" y="479.9" width="1.75" height="1.75" fill="#4536d3"/>
<rect x="144.7" y="479.9" width="1.75" height="1.75" fill="#4536d2"/>
<rect x="144.7" y="479.9" width="1.75" height="1.75" fill="#4435d2"/>
<rect x="144.7" y="479.9" width="1.75" height="1.75" fill="#4435d1"/>
<rect x="144.7" y="479.9" width="1.75" height="1.75" fill="#4435d0"/>
<rect x="144.7" y="479.9" width="1.75" height="1.75" fill="#4434cf"/>
<rect x="144.7" y="479.9" width="1.75" height="1.75" fill="#4434cf"/>
<rect x="144.7" y="479.9" width="1.75" height="1.75" fill="#4434ce"/>
<rect x="144.7" y="479.9" width="1.75" height="1.75" fill="#4433cd"/>
<rect x="144.7" y="479.9" width="1.75" height="1.75" fill="#4433cc"/>
<rect x="144.7" y="479.9" width="1.75" height="1.75" fill="#4433cc"/>
<rect x="144.7" y="479.9" width="1.75" height="1.75" fill="#4432cb"/>
<rect x="144.7" y="479.9" width="1.75" height="1.75" fill="#4332ca"/>
<rect x="144.7" y="479.9" width="1.75" height="1.75" fill="#4332c9"/>
<rect x="144.7" y="479.9" width="1.75" height="1.75" fill="#4332c8"/>
<rect x="144.7" y="480.0" width="1.75" height="1.75" fill="#463cde"/>
<rect x="144.7" y="479.9" width="1.75" height="1.75" fill="#4331c8"/>
<rect x="144.7" y="479.9" width="1.75" height="1.75" fill="#4331c7"/>
<rect x="144.7" y="479.9" width="1.75" height="1.75" fill="#4331c6"/>
<rect x="144.7" y="479.9" width="1.75" height="1.75" fill="#4330c5"/>
<rect x="144.7" y="479.9" width="1.75" height="1.75" fill="#4230c4"/>
<rect x="144.7" y="479.9" width="1.75" height="1.75" fill="#4230c4"/>
<rect x="144.7" y="479.9" width="1.75" height="1.75" fill="#4230c3"/>
<rect x="144.7" y="479.9" width="1.75" height="1.75" fill="#422fc2"/>
<rect x="144.7" y="479.9" width="1.75" height="1.75" fill="#422fc1"/>
<rect x="144.7" y="479.9" width="1.75" height="1.75" fill="#422fc0"/>
<rect x="144.7" y="479.9" width="1.75" height="1.75" fill="#422ec0"/>
<rect x="144.7" y="479.9" width="1.75" height="1.75" fill="#422ebf"/>
<rect x="144.7" y="479.9" width="1.75" height="1.75" fill="#412ebe"/>
<rect x="144.7" y="479.9" width="1.75" height="1.75" fill="#412dbd"/>
<rect x="144.7" y="479.9" width="1.75" height="1.75" fill="#412dbc"/>
<rect x="144.7" y="479.9" width="1.75" height="1.75" fill="#412dbc"/>
<rect x="144.7" y="479.9" width="1.75" height="1.75" fill="#412dbb"/>
<rect x="144.7" y="479.9" width="1.75" height="1.75" fill="#412cba"/>
<rect x="144.7" y="479.9" width="1.75" height="1.75" fill="#412cb9"/>
<rect x="144.7" y="479.9" width="1.75" height="1.75" fill="#412cb8"/>
<rect x="144.7" y="479.9" width="1.75" height="1.75" fill="#402bb8"/>
<rect x="144.7" y="479.9" width="1.75" height="1.75" fill="#402bb7"/>
<rect x="144.7" y="479.9" width="1.75" height="1.75" fill="#402bb6"/>
<rect x="144.7" y="479.9" width="1.75" height="1.75" fill="#402ab5"/>
<rect x="144.7" y="479.9" width="1.75" height="1.75" fill="#402ab4"/>
<rect x="144.7" y="479.9" width="1.75" height="1.75" fill="#402ab4"/>
<rect x="144.7" y="479.9" width="1.75" height="1.75" fill="#402ab3"/>
<rect x="144.7" y="479.9" width="1.75" height="1.75" fill="#3f29b2"/>
<rect x="144.7" y="479.9" width="1.75" height="1.75" fill="#3f29b1"/>
<rect x="144.7" y="479.9" width="1.75" height="1.75" fill="#3f29b0"/>
<rect x="144.7" y="479.9" width="1.75" height="1.75" fill="#3f28af"/>
<rect x="144.7" y="479.9" width="1.75" height="1.75" fill="#3f28ae"/>
<rect x="144.7" y="479.9" width="1.75" height="1.75" fill="#3f28ae"/>
<rect x="144.7" y="479.9" width="1.75" height="1.75" fill="#3f28ad"/>
<rect x="144.7" y="479.9" width="1.75" height="1.75" fill="#3e27ac"/>
<rect x="144.7" y="479.9" width="1.75" height="1.75" fill="#3e27ab"/>
<rect x="144.7" y="479.9" width="1.75" height="1.75" fill="#3e27aa"/>
<rect x="144.7" y="479.9" width="1.75" height="1.75" fill="#3e27a9"/>
<rect x="144.7" y="479.9" width="1.75" height="1.75" fill="#3e26a8"/>
<rect x="144.6" y="480.0" width="1.75" height="1.75" fill="#463ee1"/>
<rect x="144.7" y="480.0" width="1.75" height="1.75" fill="#463de0"/>
<rect x="144.8" y="480.0" width="1.75" height="1.75" fill="#473ee1"/>
<rect x="145.2" y="480.0" width="1.75" height="1.75" fill="#4741e5"/>
<rect x="144.6" y="480.0" width="1.75" height="1.75" fill="#473fe2"/>
<rect x="147.3" y="480.1" width="1.75" height="1.75" fill="#484aee"/>
<rect x="144.4" y="480.0" width="1.75" height="1.75" fill="#4741e5"/>
<rect x="141.6" y="480.2" width="1.75" height="1.75" fill="#484bef"/>
<rect x="144.9" y="480.1" width="1.75" height="1.75" fill="#4740e4"/>
<rect x="124.1" y="483.9" width="1.75" height="1.75" fill="#3d70ff"/>
<rect x="143.3" y="480.1" width="1.75" height="1.75" fill="#4746ea"/>
<rect x="202.3" y="524.2" width="1.75" height="1.75" fill="#23c1af"/>
<rect x="145.3" y="480.2" width="1.75" height="1.75" fill="#4743e7"/>
<rect x="144.7" y="480.1" width="1.75" height="1.75" fill="#4742e6"/>
<rect x="146.2" y="480.2" width="1.75" height="1.75" fill="#4747eb"/>
<rect x="144.1" y="480.2" width="1.75" height="1.75" fill="#4744e8"/>
<rect x="191.8" y="508.6" width="1.75" height="1.75" fill="#14b0d8"/>
<rect x="220.0" y="556.1" width="1.75" height="1.75" fill="#d1bf27"/>
<rect x="115.1" y="489.1" width="1.75" height="1.75" fill="#2d87f7"/>
<rect x="153.0" y="480.9" width="1.75" height="1.75" fill="#4758f8"/>
<rect x="212.6" y="538.8" width="1.75" height="1.75" fill="#5bcc77"/>
<rect x="148.9" y="480.5" width="1.75" height="1.75" fill="#484ff2"/>
<rect x="145.0" y="480.3" width="1.75" height="1.75" fill="#4745e9"/>
<rect x="164.5" y="483.8" width="1.75" height="1.75" fill="#3f6eff"/>
<rect x="138.4" y="480.8" width="1.75" height="1.75" fill="#4854f5"/>
<rect x="142.8" y="480.5" width="1.75" height="1.75" fill="#4849ed"/>
<rect x="179.3" y="493.3" width="1.75" height="1.75" fill="#2a93ee"/>
<rect x="130.8" y="482.1" width="1.75" height="1.75" fill="#4562fc"/>
<rect x="144.1" y="480.5" width="1.75" height="1.75" fill="#4747ec"/>
<rect x="140.9" y="480.7" width="1.75" height="1.75" fill="#484ff2"/>
<rect x="145.9" y="480.5" width="1.75" height="1.75" fill="#4849ed"/>
<rect x="147.3" y="480.6" width="1.75" height="1.75" fill="#484cef"/>
<rect x="82.0" y="531.7" width="1.75" height="1.75" fill="#39c895"/>
<rect x="106.4" y="497.3" width="1.75" height="1.75" fill="#259be7"/>
<rect x="69.1" y="562.5" width="1.75" height="1.75" fill="#f5e725"/>
<rect x="220.3" y="562.5" width="1.75" height="1.75" fill="#f5ea24"/>
<rect x="144.8" y="480.8" width="1.75" height="1.75" fill="#484bee"/>
<rect x="142.9" y="480.9" width="1.75" height="1.75" fill="#484df0"/>
<rect x="150.5" y="481.2" width="1.75" height="1.75" fill="#4854f6"/>
<rect x="99.3" y="507.5" width="1.75" height="1.75" fill="#19addc"/>
<rect x="160.3" y="483.1" width="1.75" height="1.75" fill="#4465fd"/>
<rect x="170.0" y="487.1" width="1.75" height="1.75" fill="#317dfc"/>
<rect x="121.0" y="486.3" width="1.75" height="1.75" fill="#3479fd"/>
<rect x="146.1" y="481.1" width="1.75" height="1.75" fill="#484ef1"/>
<rect x="134.3" y="482.1" width="1.75" height="1.75" fill="#475cfa"/>
<rect x="148.1" y="481.3" width="1.75" height="1.75" fill="#4851f3"/>
<rect x="140.8" y="481.3" width="1.75" height="1.75" fill="#4852f4"/>
<rect x="155.3" y="482.2" width="1.75" height="1.75" fill="#475dfa"/>
<rect x="195.2" y="515.9" width="1.75" height="1.75" fill="#01b8ca"/>
<rect x="183.9" y="499.4" width="1.75" height="1.75" fill="#249ee6"/>
<rect x="137.9" y="481.7" width="1.75" height="1.75" fill="#4757f7"/>
<rect x="127.1" y="484.1" width="1.75" height="1.75" fill="#416afe"/>
<rect x="143.8" y="481.4" width="1.75" height="1.75" fill="#4850f2"/>
<rect x="76.5" y="541.8" width="1.75" height="1.75" fill="#66cd6d"/>
<rect x="93.0" y="518.3" width="1.75" height="1.75" fill="#02bac4"/>
<rect x="205.1" y="530.6" width="1.75" height="1.75" fill="#34c79c"/>
<rect x="219.7" y="558.3" width="1.75" height="1.75" fill="#e8bb2f"/>
<rect x="112.4" y="492.9" width="1.75" height="1.75" fill="#2c8ff0"/>
<rect x="145.6" y="481.9" width="1.75" height="1.75" fill="#4853f5"/>
<rect x="174.9" y="491.5" width="1.75" height="1.75" fill="#2d8bf4"/>
<rect x="165.8" y="486.0" width="1.75" height="1.75" fill="#3974fe"/>
<rect x="151.8" y="482.4" width="1.75" height="1.75" fill="#475af9"/>
<rect x="215.2" y="547.9" width="1.75" height="1.75" fill="#86cb54"/>
<rect x="141.8" y="482.1" width="1.75" height="1.75" fill="#4755f6"/>
<rect x="148.4" y="482.3" width="1.75" height="1.75" fill="#4756f7"/>
<rect x="70.4" y="560.3" width="1.75" height="1.75" fill="#e5bb2c"/>
<rect x="70.7" y="563.7" width="1.75" height="1.75" fill="#f5ec23"/>
<rect x="218.8" y="563.7" width="1.75" height="1.75" fill="#f5e825"/>
<rect x="72.2" y="554.0" width="1.75" height="1.75" fill="#b5c533"/>
<rect x="130.8" y="484.0" width="1.75" height="1.75" fill="#4465fd"/>
<rect x="87.6" y="527.7" width="1.75" height="1.75" fill="#2ac3a9"/>
<rect x="118.6" y="489.2" width="1.75" height="1.75" fill="#2f82f9"/>
<rect x="104.8" y="502.2" width="1.75" height="1.75" fill="#21a2e4"/>
<rect x="187.5" y="506.2" width="1.75" height="1.75" fill="#1caadf"/>
<rect x="161.3" y="484.9" width="1.75" height="1.75" fill="#416bfe"/>
<rect x="156.6" y="483.7" width="1.75" height="1.75" fill="#4562fc"/>
<rect x="124.6" y="486.4" width="1.75" height="1.75" fill="#3a74fe"/>
<rect x="138.8" y="482.9" width="1.75" height="1.75" fill="#475af9"/>
<rect x="197.8" y="522.9" width="1.75" height="1.75" fill="#11beb9"/>
<rect x="134.9" y="483.6" width="1.75" height="1.75" fill="#4660fb"/>
<rect x="144.1" y="482.9" width="1.75" height="1.75" fill="#4758f8"/>
<rect x="98.4" y="513.0" width="1.75" height="1.75" fill="#0db3d3"/>
<rect x="179.4" y="497.2" width="1.75" height="1.75" fill="#2797eb"/>
<rect x="170.3" y="489.9" width="1.75" height="1.75" fill="#2e83f9"/>
<rect x="152.1" y="483.9" width="1.75" height="1.75" fill="#465ffb"/>
<rect x="110.5" y="497.3" width="1.75" height="1.75" fill="#2797eb"/>
<rect x="147.6" y="483.6" width="1.75" height="1.75" fill="#475cfa"/>
<rect x="207.5" y="537.4" width="1.75" height="1.75" fill="#48cb86"/>
<rect x="82.1" y="537.3" width="1.75" height="1.75" fill="#47cb87"/>
<rect x="128.8" y="486.2" width="1.75" height="1.75" fill="#3f6eff"/>
<rect x="190.5" y="513.7" width="1.75" height="1.75" fill="#0cb3d3"/>
<rect x="141.3" y="484.1" width="1.75" height="1.75" fill="#465efb"/>
<rect x="165.6" y="488.4" width="1.75" height="1.75" fill="#347afd"/>
<rect x="72.5" y="564.8" width="1.75" height="1.75" fill="#f5e924"/>
<rect x="215.6" y="555.3" width="1.75" height="1.75" fill="#b6c532"/>
<rect x="216.9" y="564.8" width="1.75" height="1.75" fill="#f5e725"/>
<rect x="116.9" y="492.8" width="1.75" height="1.75" fill="#2d8af4"/>
<rect x="93.1" y="523.6" width="1.75" height="1.75" fill="#10beba"/>
<rect x="156.5" y="485.5" width="1.75" height="1.75" fill="#4367fd"/>
<rect x="122.9" y="489.2" width="1.75" height="1.75" fill="#317dfc"/>
<rect x="161.0" y="487.0" width="1.75" height="1.75" fill="#3d71ff"/>
<rect x="133.2" y="485.8" width="1.75" height="1.75" fill="#4368fe"/>
<rect x="137.6" y="485.1" width="1.75" height="1.75" fill="#4563fc"/>
<rect x="182.7" y="503.8" width="1.75" height="1.75" fill="#21a3e3"/>
<rect x="104.1" y="507.4" width="1.75" height="1.75" fill="#1ca9df"/>
<rect x="199.8" y="529.3" width="1.75" height="1.75" fill="#2bc3a8"/>
<rect x="174.3" y="495.0" width="1.75" height="1.75" fill="#2c90f0"/>
<rect x="216.5" y="562.1" width="1.75" height="1.75" fill="#e5bb2d"/>
<rect x="145.6" y="485.1" width="1.75" height="1.75" fill="#4561fc"/>
<rect x="77.1" y="549.6" width="1.75" height="1.75" fill="#85cb56"/>
<rect x="150.9" y="485.6" width="1.75" height="1.75" fill="#4464fd"/>
<rect x="192.7" y="521.1" width="1.75" height="1.75" fill="#02bac4"/>
<rect x="88.2" y="533.0" width="1.75" height="1.75" fill="#33c69d"/>
<rect x="127.9" y="488.9" width="1.75" height="1.75" fill="#3677fe"/>
<rect x="73.9" y="561.7" width="1.75" height="1.75" fill="#e9bb30"/>
<rect x="109.9" y="502.0" width="1.75" height="1.75" fill="#249ee6"/>
<rect x="169.0" y="492.9" width="1.75" height="1.75" fill="#2d88f6"/>
<rect x="98.7" y="518.6" width="1.75" height="1.75" fill="#01b7ca"/>
<rect x="208.9" y="544.9" width="1.75" height="1.75" fill="#67cd6c"/>
<rect x="142.2" y="486.4" width="1.75" height="1.75" fill="#4466fd"/>
<rect x="74.6" y="566.0" width="1.75" height="1.75" fill="#f5e924"/>
<rect x="214.9" y="566.0" width="1.75" height="1.75" fill="#f5ed22"/>
<rect x="154.8" y="487.4" width="1.75" height="1.75" fill="#406dfe"/>
<rect x="75.3" y="559.8" width="1.75" height="1.75" fill="#cfc028"/>
<rect x="122.2" y="492.4" width="1.75" height="1.75" fill="#2e85f8"/>
<rect x="116.0" y="497.0" width="1.75" height="1.75" fill="#2a92ee"/>
<rect x="185.2" y="511.1" width="1.75" height="1.75" fill="#18addb"/>
<rect x="164.0" y="491.0" width="1.75" height="1.75" fill="#307ffb"/>
<rect x="133.0" y="488.3" width="1.75" height="1.75" fill="#3c71ff"/>
<rect x="159.2" y="489.2" width="1.75" height="1.75" fill="#3776fe"/>
<rect x="137.9" y="487.5" width="1.75" height="1.75" fill="#416cfe"/>
<rect x="177.5" y="501.3" width="1.75" height="1.75" fill="#259ce7"/>
<rect x="148.2" y="487.2" width="1.75" height="1.75" fill="#426afe"/>
<rect x="201.3" y="536.0" width="1.75" height="1.75" fill="#39c994"/>
<rect x="104.6" y="512.9" width="1.75" height="1.75" fill="#15afd9"/>
<rect x="94.3" y="528.7" width="1.75" height="1.75" fill="#22c1af"/>
<rect x="83.7" y="543.1" width="1.75" height="1.75" fill="#5acc78"/>
<rect x="128.0" y="491.9" width="1.75" height="1.75" fill="#2f80fa"/>
<rect x="144.3" y="488.7" width="1.75" height="1.75" fill="#3e6fff"/>
<rect x="193.9" y="527.8" width="1.75" height="1.75" fill="#1dc0b3"/>
<rect x="151.7" y="489.3" width="1.75" height="1.75" fill="#3b73fe"/>
<rect x="171.9" y="498.7" width="1.75" height="1.75" fill="#2994ed"/>
<rect x="76.9" y="567.0" width="1.75" height="1.75" fill="#f5ee21"/>
<rect x="212.5" y="567.0" width="1.75" height="1.75" fill="#f6ef20"/>
<rect x="110.6" y="507.0" width="1.75" height="1.75" fill="#20a5e2"/>
<rect x="186.8" y="518.7" width="1.75" height="1.75" fill="#05b6cd"/>
<rect x="209.7" y="554.2" width="1.75" height="1.75" fill="#99c946"/>
<rect x="139.4" y="490.0" width="1.75" height="1.75" fill="#3975fe"/>
<rect x="133.8" y="491.1" width="1.75" height="1.75" fill="#337bfd"/>
<rect x="179.4" y="508.2" width="1.75" height="1.75" fill="#1ea7e1"/>
<rect x="122.4" y="496.3" width="1.75" height="1.75" fill="#2d8df2"/>
<rect x="156.0" y="491.4" width="1.75" height="1.75" fill="#327cfc"/>
<rect x="212.2" y="563.1" width="1.75" height="1.75" fill="#eeba34"/>
<rect x="166.2" y="496.1" width="1.75" height="1.75" fill="#2d8df2"/>
<rect x="116.4" y="501.5" width="1.75" height="1.75" fill="#269ae9"/>
<rect x="160.8" y="493.6" width="1.75" height="1.75" fill="#2e85f8"/>
<rect x="100.2" y="524.1" width="1.75" height="1.75" fill="#06bcc0"/>
<rect x="80.1" y="555.7" width="1.75" height="1.75" fill="#a3c83f"/>
<rect x="147.4" y="491.1" width="1.75" height="1.75" fill="#3579fd"/>
<rect x="90.2" y="538.4" width="1.75" height="1.75" fill="#3dca90"/>
<rect x="78.3" y="563.1" width="1.75" height="1.75" fill="#f6ba3c"/>
<rect x="202.1" y="543.1" width="1.75" height="1.75" fill="#53cc7d"/>
<rect x="129.2" y="495.3" width="1.75" height="1.75" fill="#2d88f6"/>
<rect x="79.5" y="568.1" width="1.75" height="1.75" fill="#f6ef20"/>
<rect x="209.9" y="568.1" width="1.75" height="1.75" fill="#f5ec23"/>
<rect x="173.5" y="505.4" width="1.75" height="1.75" fill="#23a0e5"/>
<rect x="106.2" y="518.5" width="1.75" height="1.75" fill="#07b5d0"/>
<rect x="142.0" y="492.7" width="1.75" height="1.75" fill="#317efb"/>
<rect x="194.5" y="534.4" width="1.75" height="1.75" fill="#30c5a1"/>
<rect x="151.4" y="493.6" width="1.75" height="1.75" fill="#2f81fa"/>
<rect x="135.8" y="494.1" width="1.75" height="1.75" fill="#2e83f9"/>
<rect x="187.5" y="525.9" width="1.75" height="1.75" fill="#0abdbd"/>
<rect x="180.5" y="515.8" width="1.75" height="1.75" fill="#12b1d6"/>
<rect x="123.8" y="500.6" width="1.75" height="1.75" fill="#2895ec"/>
<rect x="208.1" y="561.2" width="1.75" height="1.75" fill="#c7c12a"/>
<rect x="112.3" y="512.3" width="1.75" height="1.75" fill="#1aacdd"/>
<rect x="96.8" y="533.8" width="1.75" height="1.75" fill="#2ec4a4"/>
<rect x="167.5" y="502.4" width="1.75" height="1.75" fill="#2699e9"/>
<rect x="156.1" y="496.3" width="1.75" height="1.75" fill="#2d8af5"/>
<rect x="118.1" y="506.3" width="1.75" height="1.75" fill="#23a1e4"/>
<rect x="161.6" y="499.4" width="1.75" height="1.75" fill="#2b91ef"/>
<rect x="86.6" y="549.8" width="1.75" height="1.75" fill="#71cd64"/>
<rect x="145.6" y="495.7" width="1.75" height="1.75" fill="#2e87f7"/>
<rect x="82.4" y="569.1" width="1.75" height="1.75" fill="#f5ec23"/>
<rect x="207.1" y="569.1" width="1.75" height="1.75" fill="#f5ec22"/>
<rect x="131.4" y="499.3" width="1.75" height="1.75" fill="#2b90ef"/>
<rect x="103.1" y="529.2" width="1.75" height="1.75" fill="#18bfb6"/>
<rect x="174.0" y="512.6" width="1.75" height="1.75" fill="#1babde"/>
<rect x="138.8" y="497.6" width="1.75" height="1.75" fill="#2d8cf3"/>
<rect x="207.2" y="564.6" width="1.75" height="1.75" fill="#fabc3d"/>
<rect x="202.2" y="551.8" width="1.75" height="1.75" fill="#7acc5d"/>
<rect x="180.7" y="523.4" width="1.75" height="1.75" fill="#01b9c7"/>
<rect x="150.1" y="499.0" width="1.75" height="1.75" fill="#2c8ef1"/>
<rect x="83.5" y="566.5" width="1.75" height="1.75" fill="#febf3c"/>
<rect x="187.3" y="532.5" width="1.75" height="1.75" fill="#26c2ac"/>
<rect x="194.6" y="541.2" width="1.75" height="1.75" fill="#42ca8c"/>
<rect x="109.1" y="523.9" width="1.75" height="1.75" fill="#01b9c7"/>
<rect x="126.3" y="505.1" width="1.75" height="1.75" fill="#259ce7"/>
<rect x="85.0" y="561.3" width="1.75" height="1.75" fill="#bfc32d"/>
<rect x="93.6" y="543.9" width="1.75" height="1.75" fill="#4ecc81"/>
<rect x="167.5" y="509.3" width="1.75" height="1.75" fill="#20a4e3"/>
<rect x="115.2" y="517.8" width="1.75" height="1.75" fill="#11b1d6"/>
<rect x="121.0" y="511.3" width="1.75" height="1.75" fill="#1ea8e1"/>
<rect x="155.4" y="502.5" width="1.75" height="1.75" fill="#2896eb"/>
<rect x="85.4" y="570.0" width="1.75" height="1.75" fill="#f5ed22"/>
<rect x="204.0" y="570.0" width="1.75" height="1.75" fill="#f6f11f"/>
<rect x="161.3" y="505.9" width="1.75" height="1.75" fill="#249de6"/>
<rect x="142.8" y="501.4" width="1.75" height="1.75" fill="#2a93ed"/>
<rect x="134.8" y="503.5" width="1.75" height="1.75" fill="#2798ea"/>
<rect x="173.7" y="520.3" width="1.75" height="1.75" fill="#09b4d1"/>
<rect x="100.4" y="538.9" width="1.75" height="1.75" fill="#36c898"/>
<rect x="200.6" y="559.7" width="1.75" height="1.75" fill="#acc739"/>
<rect x="179.9" y="530.3" width="1.75" height="1.75" fill="#16bfb7"/>
<rect x="147.8" y="505.3" width="1.75" height="1.75" fill="#269be8"/>
<rect x="130.1" y="509.7" width="1.75" height="1.75" fill="#21a3e3"/>
<rect x="107.1" y="534.0" width="1.75" height="1.75" fill="#27c2ab"/>
<rect x="91.1" y="556.8" width="1.75" height="1.75" fill="#91ca4d"/>
<rect x="166.7" y="516.8" width="1.75" height="1.75" fill="#16afd9"/>
<rect x="201.4" y="567.8" width="1.75" height="1.75" fill="#fec03b"/>
<rect x="88.7" y="570.9" width="1.75" height="1.75" fill="#f6f11e"/>
<rect x="200.7" y="570.9" width="1.75" height="1.75" fill="#f6f01f"/>
<rect x="186.5" y="539.1" width="1.75" height="1.75" fill="#36c799"/>
<rect x="139.2" y="507.7" width="1.75" height="1.75" fill="#249fe5"/>
<rect x="193.6" y="548.5" width="1.75" height="1.75" fill="#5fcd73"/>
<rect x="153.5" y="509.2" width="1.75" height="1.75" fill="#22a2e4"/>
<rect x="113.3" y="529.0" width="1.75" height="1.75" fill="#0bbdbc"/>
<rect x="124.9" y="516.4" width="1.75" height="1.75" fill="#17aeda"/>
<rect x="159.9" y="513.0" width="1.75" height="1.75" fill="#1da9e0"/>
<rect x="119.2" y="523.0" width="1.75" height="1.75" fill="#04b6cc"/>
<rect x="89.5" y="566.7" width="1.75" height="1.75" fill="#fec03b"/>
<rect x="172.3" y="527.7" width="1.75" height="1.75" fill="#04bbc1"/>
<rect x="144.6" y="512.0" width="1.75" height="1.75" fill="#1fa6e2"/>
<rect x="134.9" y="514.5" width="1.75" height="1.75" fill="#1baadf"/>
<rect x="98.4" y="549.5" width="1.75" height="1.75" fill="#61cd71"/>
<rect x="197.3" y="566.5" width="1.75" height="1.75" fill="#d6be28"/>
<rect x="92.2" y="571.8" width="1.75" height="1.75" fill="#f6f020"/>
<rect x="197.2" y="571.8" width="1.75" height="1.75" fill="#f5ec22"/>
<rect x="178.3" y="536.8" width="1.75" height="1.75" fill="#2dc4a5"/>
<rect x="164.8" y="524.4" width="1.75" height="1.75" fill="#02b7cb"/>
<rect x="150.8" y="516.4" width="1.75" height="1.75" fill="#19addc"/>
<rect x="129.9" y="521.5" width="1.75" height="1.75" fill="#0bb3d2"/>
<rect x="157.6" y="520.5" width="1.75" height="1.75" fill="#0fb2d4"/>
<rect x="105.4" y="544.1" width="1.75" height="1.75" fill="#43ca8a"/>
<rect x="185.0" y="546.1" width="1.75" height="1.75" fill="#4ccb83"/>
<rect x="124.4" y="528.1" width="1.75" height="1.75" fill="#02bbc3"/>
<rect x="192.0" y="557.9" width="1.75" height="1.75" fill="#8ecb4f"/>
<rect x="140.6" y="519.2" width="1.75" height="1.75" fill="#13b0d7"/>
<rect x="112.2" y="538.8" width="1.75" height="1.75" fill="#31c6a0"/>
<rect x="118.6" y="533.6" width="1.75" height="1.75" fill="#1ec0b2"/>
<rect x="95.9" y="572.6" width="1.75" height="1.75" fill="#f5ec22"/>
<rect x="193.6" y="572.6" width="1.75" height="1.75" fill="#f5ef21"/>
<rect x="194.8" y="567.8" width="1.75" height="1.75" fill="#febe3c"/>
<rect x="170.1" y="534.3" width="1.75" height="1.75" fill="#21c1b0"/>
<rect x="97.5" y="562.1" width="1.75" height="1.75" fill="#aec637"/>
<rect x="147.2" y="523.7" width="1.75" height="1.75" fill="#06b5cf"/>
<rect x="96.2" y="568.6" width="1.75" height="1.75" fill="#f9bb3d"/>
<rect x="135.9" y="526.3" width="1.75" height="1.75" fill="#01b8c9"/>
<rect x="162.1" y="531.4" width="1.75" height="1.75" fill="#0ebdbb"/>
<rect x="154.4" y="527.9" width="1.75" height="1.75" fill="#01bac5"/>
<rect x="176.1" y="543.5" width="1.75" height="1.75" fill="#3cc991"/>
<rect x="99.7" y="573.3" width="1.75" height="1.75" fill="#f6ef20"/>
<rect x="189.7" y="573.3" width="1.75" height="1.75" fill="#f6f21d"/>
<rect x="130.7" y="532.5" width="1.75" height="1.75" fill="#13beb8"/>
<rect x="104.4" y="556.5" width="1.75" height="1.75" fill="#7dcc5b"/>
<rect x="188.5" y="564.7" width="1.75" height="1.75" fill="#bdc32e"/>
<rect x="142.8" y="530.6" width="1.75" height="1.75" fill="#08bcbf"/>
<rect x="124.9" y="538.0" width="1.75" height="1.75" fill="#2cc4a7"/>
<rect x="182.5" y="554.0" width="1.75" height="1.75" fill="#6ecd66"/>
<rect x="167.2" y="540.7" width="1.75" height="1.75" fill="#32c69e"/>
<rect x="111.6" y="549.3" width="1.75" height="1.75" fill="#55cc7b"/>
<rect x="118.5" y="543.6" width="1.75" height="1.75" fill="#3bc993"/>
<rect x="150.4" y="534.3" width="1.75" height="1.75" fill="#1ac0b4"/>
<rect x="187.7" y="569.8" width="1.75" height="1.75" fill="#f5ba3a"/>
<rect x="158.6" y="537.6" width="1.75" height="1.75" fill="#29c3aa"/>
<rect x="103.7" y="574.0" width="1.75" height="1.75" fill="#f6f21d"/>
<rect x="185.7" y="574.0" width="1.75" height="1.75" fill="#f6f020"/>
<rect x="137.8" y="536.5" width="1.75" height="1.75" fill="#25c2ae"/>
<rect x="103.5" y="570.9" width="1.75" height="1.75" fill="#ecba33"/>
<rect x="105.4" y="567.2" width="1.75" height="1.75" fill="#c9c129"/>
<rect x="172.9" y="550.5" width="1.75" height="1.75" fill="#58cc79"/>
<rect x="107.9" y="574.6" width="1.75" height="1.75" fill="#f6ef20"/>
<rect x="181.5" y="574.6" width="1.75" height="1.75" fill="#f5ee21"/>
<rect x="132.2" y="542.3" width="1.75" height="1.75" fill="#34c79b"/>
<rect x="145.7" y="540.3" width="1.75" height="1.75" fill="#2fc5a3"/>
<rect x="179.0" y="562.5" width="1.75" height="1.75" fill="#a0c841"/>
<rect x="163.5" y="547.3" width="1.75" height="1.75" fill="#46cb88"/>
<rect x="112.0" y="562.2" width="1.75" height="1.75" fill="#9cc944"/>
<rect x="154.3" y="543.9" width="1.75" height="1.75" fill="#38c896"/>
<rect x="125.9" y="548.3" width="1.75" height="1.75" fill="#49cb85"/>
<rect x="179.9" y="570.2" width="1.75" height="1.75" fill="#eabb30"/>
<rect x="119.1" y="554.7" width="1.75" height="1.75" fill="#6acd6a"/>
<rect x="112.2" y="575.1" width="1.75" height="1.75" fill="#f5ed22"/>
<rect x="177.2" y="575.1" width="1.75" height="1.75" fill="#f5ee21"/>
<rect x="111.3" y="570.3" width="1.75" height="1.75" fill="#e5bb2c"/>
<rect x="140.4" y="546.5" width="1.75" height="1.75" fill="#3fca8e"/>
<rect x="174.1" y="569.0" width="1.75" height="1.75" fill="#cdc028"/>
<rect x="169.0" y="559.3" width="1.75" height="1.75" fill="#82cc58"/>
<rect x="116.6" y="575.6" width="1.75" height="1.75" fill="#f6f11e"/>
<rect x="172.8" y="575.6" width="1.75" height="1.75" fill="#f6f21d"/>
<rect x="149.4" y="550.4" width="1.75" height="1.75" fill="#51cc7f"/>
<rect x="158.9" y="554.2" width="1.75" height="1.75" fill="#64cd6f"/>
<rect x="171.8" y="572.8" width="1.75" height="1.75" fill="#e5bb2c"/>
<rect x="134.3" y="552.8" width="1.75" height="1.75" fill="#5dcc75"/>
<rect x="121.2" y="576.0" width="1.75" height="1.75" fill="#f6f21e"/>
<rect x="168.3" y="576.0" width="1.75" height="1.75" fill="#f6f11f"/>
<rect x="120.9" y="566.8" width="1.75" height="1.75" fill="#b9c430"/>
<rect x="119.5" y="572.4" width="1.75" height="1.75" fill="#eabb30"/>
<rect x="127.7" y="561.1" width="1.75" height="1.75" fill="#89cb52"/>
<rect x="125.8" y="576.3" width="1.75" height="1.75" fill="#f5ee21"/>
<rect x="163.7" y="576.3" width="1.75" height="1.75" fill="#f5ed22"/>
<rect x="163.9" y="566.3" width="1.75" height="1.75" fill="#b2c535"/>
<rect x="143.6" y="558.2" width="1.75" height="1.75" fill="#76cc61"/>
<rect x="130.4" y="576.6" width="1.75" height="1.75" fill="#f5ee21"/>
<rect x="159.0" y="576.6" width="1.75" height="1.75" fill="#f6f020"/>
<rect x="163.3" y="572.0" width="1.75" height="1.75" fill="#ecba33"/>
<rect x="153.6" y="563.1" width="1.75" height="1.75" fill="#95ca49"/>
<rect x="128.1" y="573.0" width="1.75" height="1.75" fill="#f7ba3c"/>
<rect x="130.7" y="571.0" width="1.75" height="1.75" fill="#d3bf27"/>
<rect x="135.2" y="576.8" width="1.75" height="1.75" fill="#f6f21d"/>
<rect x="154.3" y="576.8" width="1.75" height="1.75" fill="#f7f31d"/>
<rect x="137.3" y="565.4" width="1.75" height="1.75" fill="#a7c73c"/>
<rect x="139.9" y="576.9" width="1.75" height="1.75" fill="#f6f11e"/>
<rect x="149.5" y="576.9" width="1.75" height="1.75" fill="#f6ef20"/>
<rect x="144.7" y="576.9" width="1.75" height="1.75" fill="#f5ed21"/>
<rect x="147.5" y="569.1" width="1.75" height="1.75" fill="#c3c22b"/>
<rect x="154.6" y="572.7" width="1.75" height="1.75" fill="#f9bb3d"/>
<rect x="136.9" y="572.1" width="1.75" height="1.75" fill="#febf3c"/>
<rect x="145.7" y="573.9" width="1.75" height="1.75" fill="#fec03b"/>
<path d="M145.60 557.30L145.60 480.80" stroke="#1c1a9a" stroke-width="0.9"/>
<path d="M145.60 557.30L221.99 563.99" stroke="#f4f01c" stroke-width="1.5"/>
<path d="M217.09 561.19h6.20l-3.10 6.67z" fill="#f6f216"/>
<path d="M142.80 555.00h5.60l-2.80 6.02z" fill="#f6f216"/>
<text x="146.10" y="469.80" text-anchor="middle" font-family="Liberation Serif,serif" font-style="italic" font-size="16.5" fill="#111">z&#x302;</text>
<text x="228.59" y="549.35" text-anchor="middle" font-family="Liberation Serif,serif" font-style="italic" font-size="16.5" fill="#111">y&#x302;</text>
<text x="192.80" y="598.05" text-anchor="middle" font-family="Liberation Serif,serif" font-style="italic" font-size="16.5" fill="#111">x</text>
<text x="194.20" y="597.45" text-anchor="middle" font-family="Liberation Serif,serif" font-style="italic" font-size="16.5" fill="#111">&#x2C6;</text>
<g font-size="17.1" font-weight="bold" fill="#000">
<text transform="translate(46.00 438.90) scale(1.12 1)" font-family="Liberation Serif,serif" font-style="italic" font-weight="bold" font-size="19">ψ</text>
<text x="60.00" y="438.90">(t) = H(t)</text>
<text transform="translate(126.00 438.90) scale(1.12 1)" font-family="Liberation Serif,serif" font-style="italic" font-weight="bold" font-size="19">ψ</text>
<text x="139.40" y="445.80" font-size="13.4">0</text>
<text x="151.30" y="438.90" font-size="17.3">Lab. Frame</text>
</g>
<defs><linearGradient id="cblab" x1="0" y1="1" x2="0" y2="0"><stop offset="0.0000" stop-color="#3e26a8"/><stop offset="0.0159" stop-color="#402ab4"/><stop offset="0.0317" stop-color="#422ec0"/><stop offset="0.0476" stop-color="#4332cb"/><stop offset="0.0635" stop-color="#4537d5"/><stop offset="0.0794" stop-color="#463cde"/><stop offset="0.0952" stop-color="#4741e5"/><stop offset="0.1111" stop-color="#4747eb"/><stop offset="0.1270" stop-color="#484df0"/><stop offset="0.1429" stop-color="#4852f4"/><stop offset="0.1587" stop-color="#4758f8"/><stop offset="0.1746" stop-color="#465efb"/><stop offset="0.1905" stop-color="#4563fd"/><stop offset="0.2063" stop-color="#4269fe"/><stop offset="0.2222" stop-color="#3e6fff"/><stop offset="0.2381" stop-color="#3875fe"/><stop offset="0.2540" stop-color="#327cfc"/><stop offset="0.2698" stop-color="#2f81fa"/><stop offset="0.2857" stop-color="#2e87f7"/><stop offset="0.3016" stop-color="#2d8cf3"/><stop offset="0.3175" stop-color="#2b91ef"/><stop offset="0.3333" stop-color="#2797eb"/><stop offset="0.3492" stop-color="#259be8"/><stop offset="0.3651" stop-color="#23a0e5"/><stop offset="0.3810" stop-color="#20a5e3"/><stop offset="0.3968" stop-color="#1ca9df"/><stop offset="0.4127" stop-color="#18addb"/><stop offset="0.4286" stop-color="#12b1d6"/><stop offset="0.4444" stop-color="#08b5d0"/><stop offset="0.4603" stop-color="#01b8ca"/><stop offset="0.4762" stop-color="#02bac3"/><stop offset="0.4921" stop-color="#0bbdbd"/><stop offset="0.5079" stop-color="#19bfb6"/><stop offset="0.5238" stop-color="#24c1ae"/><stop offset="0.5397" stop-color="#2cc4a7"/><stop offset="0.5556" stop-color="#31c69f"/><stop offset="0.5714" stop-color="#37c897"/><stop offset="0.5873" stop-color="#3fca8e"/><stop offset="0.6032" stop-color="#4acb84"/><stop offset="0.6190" stop-color="#57cc7a"/><stop offset="0.6349" stop-color="#64cd6f"/><stop offset="0.6508" stop-color="#72cd64"/><stop offset="0.6667" stop-color="#81cc59"/><stop offset="0.6825" stop-color="#8fcb4e"/><stop offset="0.6984" stop-color="#9dc943"/><stop offset="0.7143" stop-color="#abc739"/><stop offset="0.7302" stop-color="#b9c431"/><stop offset="0.7460" stop-color="#c5c22a"/><stop offset="0.7619" stop-color="#d1bf27"/><stop offset="0.7778" stop-color="#dcbd29"/><stop offset="0.7937" stop-color="#e6bb2d"/><stop offset="0.8095" stop-color="#f0ba36"/><stop offset="0.8254" stop-color="#f8ba3d"/><stop offset="0.8413" stop-color="#febe3c"/><stop offset="0.8571" stop-color="#fec338"/><stop offset="0.8730" stop-color="#fec934"/><stop offset="0.8889" stop-color="#fccf30"/><stop offset="0.9048" stop-color="#fad62d"/><stop offset="0.9206" stop-color="#f7dc2a"/><stop offset="0.9365" stop-color="#f5e327"/><stop offset="0.9524" stop-color="#f5e924"/><stop offset="0.9683" stop-color="#f6ef20"/><stop offset="0.9841" stop-color="#f7f51b"/><stop offset="1.0000" stop-color="#f9fb15"/></linearGradient></defs>
<rect x="275.90" y="401.80" width="11.90" height="312.20" fill="url(#cblab)"/>
<rect x="275.90" y="401.80" width="11.90" height="312.20" fill="none" stroke="#3c3c3c" stroke-width="0.7"/>
<path d="M287.80 714.00h-3.2" stroke="#3c3c3c" stroke-width="0.7"/>
<text x="292.10" y="720.90" font-size="15.3" fill="#262626">0</text>
<path d="M287.80 653.80h-3.2" stroke="#3c3c3c" stroke-width="0.7"/>
<text x="292.10" y="660.70" font-size="15.3" fill="#262626">10</text>
<path d="M287.80 593.60h-3.2" stroke="#3c3c3c" stroke-width="0.7"/>
<text x="292.10" y="600.50" font-size="15.3" fill="#262626">20</text>
<path d="M287.80 533.40h-3.2" stroke="#3c3c3c" stroke-width="0.7"/>
<text x="292.10" y="540.30" font-size="15.3" fill="#262626">30</text>
<path d="M287.80 473.20h-3.2" stroke="#3c3c3c" stroke-width="0.7"/>
<text x="292.10" y="480.10" font-size="15.3" fill="#262626">40</text>
<path d="M287.80 413.00h-3.2" stroke="#3c3c3c" stroke-width="0.7"/>
<text x="292.10" y="419.90" font-size="15.3" fill="#262626">50</text>
<text transform="translate(324.80 558.20) rotate(-90)" text-anchor="middle" font-size="15.3" fill="#262626">t [ns]</text>
<path d="M391.51 626.30L528.69 605.80 M391.51 626.30L470.71 661.80 M391.51 626.30L391.51 473.30 M528.69 605.80L528.69 452.80 M431.11 644.05L568.29 623.55 M460.10 616.05L539.30 651.55 M460.10 616.05L460.10 463.05 M568.29 623.55L568.29 470.55 M470.71 661.80L607.89 641.30 M528.69 605.80L607.89 641.30 M528.69 605.80L528.69 452.80 M607.89 641.30L607.89 488.30 M391.51 626.30L528.69 605.80 M528.69 605.80L607.89 641.30 M391.51 588.05L528.69 567.55 M528.69 567.55L607.89 603.05 M391.51 549.80L528.69 529.30 M528.69 529.30L607.89 564.80 M391.51 511.55L528.69 491.05 M528.69 491.05L607.89 526.55 M391.51 473.30L528.69 452.80 M528.69 452.80L607.89 488.30 " stroke="#dedede" stroke-width="0.8" fill="none"/>
<circle cx="499.70" cy="557.30" r="78.30" fill="#1e0aa0" fill-opacity="0.18"/>
<path d="M460.10 539.55L539.30 575.05 M431.11 567.55L568.29 547.05 M499.70 633.80L499.70 480.80 " stroke="#000" stroke-width="1.0" fill="none"/>
<path d="M391.51 626.30L391.51 473.30 M391.51 626.30L470.71 661.80 M470.71 661.80L607.89 641.30 M391.51 626.30l-3.7 -1.7 M391.51 588.05l-3.7 -1.7 M391.51 549.80l-3.7 -1.7 M391.51 511.55l-3.7 -1.7 M391.51 473.30l-3.7 -1.7 M391.51 626.30l-3.2 0.5 M470.71 661.80l3.0 1.4 M431.11 644.05l-3.2 0.5 M539.30 651.55l3.0 1.4 M470.71 661.80l-3.2 0.5 M607.89 641.30l3.0 1.4 " stroke="#3c3c3c" stroke-width="0.7" fill="none"/>
<text x="382.91" y="629.10" text-anchor="end" font-size="15.3" fill="#262626">-1</text>
<text x="382.91" y="590.85" text-anchor="end" font-size="15.3" fill="#262626">-0.5</text>
<text x="382.91" y="552.60" text-anchor="end" font-size="15.3" fill="#262626">0</text>
<text x="382.91" y="514.35" text-anchor="end" font-size="15.3" fill="#262626">0.5</text>
<text x="382.91" y="476.10" text-anchor="end" font-size="15.3" fill="#262626">1</text>
<text x="418.51" y="662.25" text-anchor="middle" font-size="15.3" fill="#262626">0</text>
<text x="458.11" y="680.00" text-anchor="middle" font-size="15.3" fill="#262626">1</text>
<text x="484.81" y="681.60" text-anchor="middle" font-size="15.3" fill="#262626">-1</text>
<text x="551.70" y="671.35" text-anchor="middle" font-size="15.3" fill="#262626">0</text>
<text x="620.29" y="661.10" text-anchor="middle" font-size="15.3" fill="#262626">1</text>
<path d="M499.70 557.30L499.70 480.80" stroke="#2b24b4" stroke-width="1.2"/>
<path d="M499.70 557.30L539.30 575.05" stroke="#d8d020" stroke-width="1.8"/>
<path d="M499.70 557.30L539.30 575.05" stroke="#222" stroke-width="0.6"/>
<path d="M502.22 481.20L502.50 481.34" stroke="#4756f7" stroke-width="2.3" stroke-linecap="round"/>
<path d="M502.50 481.34L502.81 481.53" stroke="#4758f8" stroke-width="2.3" stroke-linecap="round"/>
<path d="M502.81 481.53L503.14 481.76" stroke="#475af9" stroke-width="2.3" stroke-linecap="round"/>
<path d="M503.14 481.76L503.51 481.99" stroke="#475cfa" stroke-width="2.3" stroke-linecap="round"/>
<path d="M503.51 481.99L503.94 482.20" stroke="#465efb" stroke-width="2.3" stroke-linecap="round"/>
<path d="M503.94 482.20L504.42 482.37" stroke="#4660fb" stroke-width="2.3" stroke-linecap="round"/>
<path d="M504.42 482.37L504.97 482.48" stroke="#4562fc" stroke-width="2.3" stroke-linecap="round"/>
<path d="M504.97 482.48L505.58 482.54" stroke="#4564fd" stroke-width="2.3" stroke-linecap="round"/>
<path d="M505.58 482.54L506.20 482.55" stroke="#4466fd" stroke-width="2.3" stroke-linecap="round"/>
<path d="M506.20 482.55L506.84 482.55" stroke="#4368fe" stroke-width="2.3" stroke-linecap="round"/>
<path d="M506.84 482.55L507.44 482.63" stroke="#426afe" stroke-width="2.3" stroke-linecap="round"/>
<path d="M507.44 482.63L508.00 482.80" stroke="#406cfe" stroke-width="2.3" stroke-linecap="round"/>
<path d="M508.00 482.80L508.53 483.06" stroke="#3f6eff" stroke-width="2.3" stroke-linecap="round"/>
<path d="M508.53 483.06L509.03 483.41" stroke="#3d70ff" stroke-width="2.3" stroke-linecap="round"/>
<path d="M509.03 483.41L509.50 483.82" stroke="#3b72fe" stroke-width="2.3" stroke-linecap="round"/>
<path d="M509.50 483.82L509.95 484.28" stroke="#3975fe" stroke-width="2.3" stroke-linecap="round"/>
<path d="M509.95 484.28L510.39 484.74" stroke="#3777fe" stroke-width="2.3" stroke-linecap="round"/>
<path d="M510.39 484.74L510.84 485.17" stroke="#3579fd" stroke-width="2.3" stroke-linecap="round"/>
<path d="M510.84 485.17L511.31 485.54" stroke="#337bfc" stroke-width="2.3" stroke-linecap="round"/>
<path d="M511.31 485.54L511.82 485.82" stroke="#317dfc" stroke-width="2.3" stroke-linecap="round"/>
<path d="M511.82 485.82L512.37 486.03" stroke="#307ffb" stroke-width="2.3" stroke-linecap="round"/>
<path d="M512.37 486.03L512.95 486.16" stroke="#2f81fa" stroke-width="2.3" stroke-linecap="round"/>
<path d="M512.95 486.16L513.57 486.23" stroke="#2f83f9" stroke-width="2.3" stroke-linecap="round"/>
<path d="M513.57 486.23L514.20 486.27" stroke="#2e84f8" stroke-width="2.3" stroke-linecap="round"/>
<path d="M514.20 486.27L514.84 486.32" stroke="#2e85f8" stroke-width="2.3" stroke-linecap="round"/>
<path d="M514.84 486.32L515.46 486.41" stroke="#2e87f7" stroke-width="2.3" stroke-linecap="round"/>
<path d="M515.46 486.41L516.05 486.56" stroke="#2d88f6" stroke-width="2.3" stroke-linecap="round"/>
<path d="M516.05 486.56L516.60 486.80" stroke="#2d8af5" stroke-width="2.3" stroke-linecap="round"/>
<path d="M516.60 486.80L517.09 487.14" stroke="#2d8bf4" stroke-width="2.3" stroke-linecap="round"/>
<path d="M517.09 487.14L517.53 487.55" stroke="#2d8df2" stroke-width="2.3" stroke-linecap="round"/>
<path d="M517.53 487.55L517.94 488.02" stroke="#2c8ef1" stroke-width="2.3" stroke-linecap="round"/>
<path d="M517.94 488.02L518.33 488.52" stroke="#2c8ff0" stroke-width="2.3" stroke-linecap="round"/>
<path d="M518.33 488.52L518.72 489.03" stroke="#2b91ef" stroke-width="2.3" stroke-linecap="round"/>
<path d="M518.72 489.03L519.13 489.50" stroke="#2b92ee" stroke-width="2.3" stroke-linecap="round"/>
<path d="M519.13 489.50L519.57 489.92" stroke="#2a93ed" stroke-width="2.3" stroke-linecap="round"/>
<path d="M519.57 489.92L520.05 490.26" stroke="#2995ec" stroke-width="2.3" stroke-linecap="round"/>
<path d="M520.05 490.26L520.58 490.51" stroke="#2896eb" stroke-width="2.3" stroke-linecap="round"/>
<path d="M520.58 490.51L521.15 490.69" stroke="#2797ea" stroke-width="2.3" stroke-linecap="round"/>
<path d="M521.15 490.69L521.76 490.81" stroke="#2699e9" stroke-width="2.3" stroke-linecap="round"/>
<path d="M521.76 490.81L522.39 490.91" stroke="#269ae9" stroke-width="2.3" stroke-linecap="round"/>
<path d="M522.39 490.91L523.02 491.01" stroke="#259be8" stroke-width="2.3" stroke-linecap="round"/>
<path d="M523.02 491.01L523.63 491.14" stroke="#259ce7" stroke-width="2.3" stroke-linecap="round"/>
<path d="M523.63 491.14L524.21 491.34" stroke="#249ee6" stroke-width="2.3" stroke-linecap="round"/>
<path d="M524.21 491.34L524.74 491.62" stroke="#249ee6" stroke-width="2.3" stroke-linecap="round"/>
<path d="M524.74 491.62L525.20 491.98" stroke="#249fe5" stroke-width="2.3" stroke-linecap="round"/>
<path d="M525.20 491.98L525.62 492.42" stroke="#23a0e5" stroke-width="2.3" stroke-linecap="round"/>
<path d="M525.62 492.42L525.99 492.92" stroke="#23a1e4" stroke-width="2.3" stroke-linecap="round"/>
<path d="M525.99 492.92L526.34 493.46" stroke="#22a2e4" stroke-width="2.3" stroke-linecap="round"/>
<path d="M526.34 493.46L526.68 494.00" stroke="#22a2e4" stroke-width="2.3" stroke-linecap="round"/>
<path d="M526.68 494.00L527.04 494.52" stroke="#21a3e3" stroke-width="2.3" stroke-linecap="round"/>
<path d="M527.04 494.52L527.43 494.97" stroke="#20a4e3" stroke-width="2.3" stroke-linecap="round"/>
<path d="M527.43 494.97L527.88 495.36" stroke="#20a5e3" stroke-width="2.3" stroke-linecap="round"/>
<path d="M527.88 495.36L528.39 495.66" stroke="#1fa5e2" stroke-width="2.3" stroke-linecap="round"/>
<path d="M528.39 495.66L528.95 495.88" stroke="#1fa6e2" stroke-width="2.3" stroke-linecap="round"/>
<path d="M528.95 495.88L529.55 496.05" stroke="#1ea7e1" stroke-width="2.3" stroke-linecap="round"/>
<path d="M529.55 496.05L530.18 496.19" stroke="#1ea8e0" stroke-width="2.3" stroke-linecap="round"/>
<path d="M530.18 496.19L530.80 496.33" stroke="#1da8e0" stroke-width="2.3" stroke-linecap="round"/>
<path d="M530.80 496.33L531.40 496.49" stroke="#1ca9df" stroke-width="2.3" stroke-linecap="round"/>
<path d="M531.40 496.49L531.97 496.72" stroke="#1caadf" stroke-width="2.3" stroke-linecap="round"/>
<path d="M531.97 496.72L532.48 497.02" stroke="#1babde" stroke-width="2.3" stroke-linecap="round"/>
<path d="M532.48 497.02L532.93 497.40" stroke="#1aabdd" stroke-width="2.3" stroke-linecap="round"/>
<path d="M532.93 497.40L533.33 497.85" stroke="#1aacdd" stroke-width="2.3" stroke-linecap="round"/>
<path d="M533.33 497.85L533.69 498.37" stroke="#19addc" stroke-width="2.3" stroke-linecap="round"/>
<path d="M533.69 498.37L534.01 498.92" stroke="#18addb" stroke-width="2.3" stroke-linecap="round"/>
<path d="M534.01 498.92L534.34 499.46" stroke="#17aeda" stroke-width="2.3" stroke-linecap="round"/>
<path d="M534.34 499.46L534.69 499.99" stroke="#16afda" stroke-width="2.3" stroke-linecap="round"/>
<path d="M534.69 499.99L535.07 500.45" stroke="#15afd9" stroke-width="2.3" stroke-linecap="round"/>
<path d="M535.07 500.45L535.51 500.85" stroke="#14b0d8" stroke-width="2.3" stroke-linecap="round"/>
<path d="M535.51 500.85L536.00 501.17" stroke="#13b0d7" stroke-width="2.3" stroke-linecap="round"/>
<path d="M536.00 501.17L536.55 501.41" stroke="#12b1d7" stroke-width="2.3" stroke-linecap="round"/>
<path d="M536.55 501.41L537.15 501.60" stroke="#11b1d6" stroke-width="2.3" stroke-linecap="round"/>
<path d="M537.15 501.60L537.77 501.76" stroke="#10b2d5" stroke-width="2.3" stroke-linecap="round"/>
<path d="M537.77 501.76L538.39 501.92" stroke="#0eb2d4" stroke-width="2.3" stroke-linecap="round"/>
<path d="M538.39 501.92L538.98 502.10" stroke="#0db3d3" stroke-width="2.3" stroke-linecap="round"/>
<path d="M538.98 502.10L539.54 502.34" stroke="#0bb3d2" stroke-width="2.3" stroke-linecap="round"/>
<path d="M539.54 502.34L540.04 502.65" stroke="#0ab4d1" stroke-width="2.3" stroke-linecap="round"/>
<path d="M540.04 502.65L540.48 503.04" stroke="#08b4d1" stroke-width="2.3" stroke-linecap="round"/>
<path d="M540.48 503.04L540.87 503.50" stroke="#07b5d0" stroke-width="2.3" stroke-linecap="round"/>
<path d="M540.87 503.50L541.22 504.02" stroke="#06b5cf" stroke-width="2.3" stroke-linecap="round"/>
<path d="M541.22 504.02L541.54 504.57" stroke="#05b6ce" stroke-width="2.3" stroke-linecap="round"/>
<path d="M541.54 504.57L541.87 505.12" stroke="#04b6cd" stroke-width="2.3" stroke-linecap="round"/>
<path d="M541.87 505.12L542.23 505.63" stroke="#03b7cc" stroke-width="2.3" stroke-linecap="round"/>
<path d="M542.23 505.63L542.63 506.09" stroke="#02b7cb" stroke-width="2.3" stroke-linecap="round"/>
<path d="M542.63 506.09L543.08 506.48" stroke="#01b8ca" stroke-width="2.3" stroke-linecap="round"/>
<path d="M543.08 506.48L543.59 506.78" stroke="#01b8c9" stroke-width="2.3" stroke-linecap="round"/>
<path d="M543.59 506.78L544.15 507.00" stroke="#01b9c8" stroke-width="2.3" stroke-linecap="round"/>
<path d="M544.15 507.00L544.76 507.16" stroke="#01b9c6" stroke-width="2.3" stroke-linecap="round"/>
<path d="M544.76 507.16L545.38 507.28" stroke="#02bac5" stroke-width="2.3" stroke-linecap="round"/>
<path d="M545.38 507.28L546.01 507.40" stroke="#02bac4" stroke-width="2.3" stroke-linecap="round"/>
<path d="M546.01 507.40L546.62 507.54" stroke="#03bbc2" stroke-width="2.3" stroke-linecap="round"/>
<path d="M546.62 507.54L547.19 507.73" stroke="#05bbc1" stroke-width="2.3" stroke-linecap="round"/>
<path d="M547.19 507.73L547.72 507.99" stroke="#07bcbf" stroke-width="2.3" stroke-linecap="round"/>
<path d="M547.72 507.99L548.19 508.34" stroke="#0abdbe" stroke-width="2.3" stroke-linecap="round"/>
<path d="M548.19 508.34L548.62 508.77" stroke="#0cbdbc" stroke-width="2.3" stroke-linecap="round"/>
<path d="M548.62 508.77L549.01 509.26" stroke="#0fbebb" stroke-width="2.3" stroke-linecap="round"/>
<path d="M549.01 509.26L549.37 509.79" stroke="#12beb9" stroke-width="2.3" stroke-linecap="round"/>
<path d="M549.37 509.79L549.71 510.33" stroke="#15bfb8" stroke-width="2.3" stroke-linecap="round"/>
<path d="M549.71 510.33L550.07 510.84" stroke="#17bfb6" stroke-width="2.3" stroke-linecap="round"/>
<path d="M550.07 510.84L550.46 511.29" stroke="#1ac0b5" stroke-width="2.3" stroke-linecap="round"/>
<path d="M550.46 511.29L550.90 511.68" stroke="#1dc0b3" stroke-width="2.3" stroke-linecap="round"/>
<path d="M550.90 511.68L551.39 511.99" stroke="#1fc0b2" stroke-width="2.3" stroke-linecap="round"/>
<path d="M551.39 511.99L551.94 512.23" stroke="#21c1b0" stroke-width="2.3" stroke-linecap="round"/>
<path d="M551.94 512.23L552.53 512.42" stroke="#23c1af" stroke-width="2.3" stroke-linecap="round"/>
<path d="M552.53 512.42L553.14 512.59" stroke="#25c2ae" stroke-width="2.3" stroke-linecap="round"/>
<path d="M553.14 512.59L553.76 512.76" stroke="#26c2ad" stroke-width="2.3" stroke-linecap="round"/>
<path d="M553.76 512.76L554.35 512.96" stroke="#27c2ac" stroke-width="2.3" stroke-linecap="round"/>
<path d="M554.35 512.96L554.90 513.23" stroke="#28c3ab" stroke-width="2.3" stroke-linecap="round"/>
<path d="M554.90 513.23L555.39 513.56" stroke="#29c3aa" stroke-width="2.3" stroke-linecap="round"/>
<path d="M555.39 513.56L555.82 513.98" stroke="#2ac3a9" stroke-width="2.3" stroke-linecap="round"/>
<path d="M555.82 513.98L556.18 514.47" stroke="#2bc3a7" stroke-width="2.3" stroke-linecap="round"/>
<path d="M556.18 514.47L556.49 515.01" stroke="#2cc4a6" stroke-width="2.3" stroke-linecap="round"/>
<path d="M556.49 515.01L556.76 515.58" stroke="#2dc4a5" stroke-width="2.3" stroke-linecap="round"/>
<path d="M556.76 515.58L557.03 516.16" stroke="#2ec4a4" stroke-width="2.3" stroke-linecap="round"/>
<path d="M557.03 516.16L557.32 516.72" stroke="#2fc5a3" stroke-width="2.3" stroke-linecap="round"/>
<path d="M557.32 516.72L557.64 517.22" stroke="#30c5a2" stroke-width="2.3" stroke-linecap="round"/>
<path d="M557.64 517.22L558.02 517.67" stroke="#30c5a1" stroke-width="2.3" stroke-linecap="round"/>
<path d="M558.02 517.67L558.47 518.05" stroke="#31c6a0" stroke-width="2.3" stroke-linecap="round"/>
<path d="M558.47 518.05L558.97 518.36" stroke="#32c69e" stroke-width="2.3" stroke-linecap="round"/>
<path d="M558.97 518.36L559.53 518.63" stroke="#33c69d" stroke-width="2.3" stroke-linecap="round"/>
<path d="M559.53 518.63L560.12 518.88" stroke="#34c79c" stroke-width="2.3" stroke-linecap="round"/>
<path d="M560.12 518.88L560.70 519.13" stroke="#34c79b" stroke-width="2.3" stroke-linecap="round"/>
<path d="M560.70 519.13L561.27 519.41" stroke="#35c79a" stroke-width="2.3" stroke-linecap="round"/>
<path d="M561.27 519.41L561.78 519.74" stroke="#36c899" stroke-width="2.3" stroke-linecap="round"/>
<path d="M561.78 519.74L562.22 520.14" stroke="#37c898" stroke-width="2.3" stroke-linecap="round"/>
<path d="M562.22 520.14L562.59 520.61" stroke="#37c897" stroke-width="2.3" stroke-linecap="round"/>
<path d="M562.59 520.61L562.88 521.14" stroke="#38c896" stroke-width="2.3" stroke-linecap="round"/>
<path d="M562.88 521.14L563.11 521.72" stroke="#39c994" stroke-width="2.3" stroke-linecap="round"/>
<path d="M563.11 521.72L563.32 522.32" stroke="#3ac993" stroke-width="2.3" stroke-linecap="round"/>
<path d="M563.32 522.32L563.53 522.92" stroke="#3bc992" stroke-width="2.3" stroke-linecap="round"/>
<path d="M563.53 522.92L563.76 523.49" stroke="#3cc991" stroke-width="2.3" stroke-linecap="round"/>
<path d="M563.76 523.49L564.03 524.02" stroke="#3dca90" stroke-width="2.3" stroke-linecap="round"/>
<path d="M564.03 524.02L564.37 524.50" stroke="#3eca8f" stroke-width="2.3" stroke-linecap="round"/>
<path d="M564.37 524.50L564.76 524.92" stroke="#40ca8d" stroke-width="2.3" stroke-linecap="round"/>
<path d="M564.76 524.92L565.22 525.30" stroke="#41ca8c" stroke-width="2.3" stroke-linecap="round"/>
<path d="M565.22 525.30L565.72 525.66" stroke="#42ca8b" stroke-width="2.3" stroke-linecap="round"/>
<path d="M565.72 525.66L566.23 526.00" stroke="#44cb8a" stroke-width="2.3" stroke-linecap="round"/>
<path d="M566.23 526.00L566.75 526.35" stroke="#45cb89" stroke-width="2.3" stroke-linecap="round"/>
<path d="M566.75 526.35L567.23 526.74" stroke="#47cb87" stroke-width="2.3" stroke-linecap="round"/>
<path d="M567.23 526.74L567.65 527.16" stroke="#49cb86" stroke-width="2.3" stroke-linecap="round"/>
<path d="M567.65 527.16L568.01 527.64" stroke="#4acb84" stroke-width="2.3" stroke-linecap="round"/>
<path d="M568.01 527.64L568.29 528.16" stroke="#4dcb82" stroke-width="2.3" stroke-linecap="round"/>
<path d="M568.29 528.16L568.51 528.72" stroke="#4fcc81" stroke-width="2.3" stroke-linecap="round"/>
<path d="M568.51 528.72L568.67 529.31" stroke="#51cc7f" stroke-width="2.3" stroke-linecap="round"/>
<path d="M568.67 529.31L568.80 529.92" stroke="#53cc7d" stroke-width="2.3" stroke-linecap="round"/>
<path d="M568.80 529.92L568.93 530.52" stroke="#55cc7c" stroke-width="2.3" stroke-linecap="round"/>
<path d="M568.93 530.52L569.08 531.11" stroke="#57cc7a" stroke-width="2.3" stroke-linecap="round"/>
<path d="M569.08 531.11L569.28 531.67" stroke="#59cc78" stroke-width="2.3" stroke-linecap="round"/>
<path d="M569.28 531.67L569.54 532.20" stroke="#5bcc76" stroke-width="2.3" stroke-linecap="round"/>
<path d="M569.54 532.20L569.84 532.69" stroke="#5dcc74" stroke-width="2.3" stroke-linecap="round"/>
<path d="M569.84 532.69L570.18 533.16" stroke="#5fcd73" stroke-width="2.3" stroke-linecap="round"/>
<path d="M570.18 533.16L570.56 533.63" stroke="#62cd71" stroke-width="2.3" stroke-linecap="round"/>
<path d="M570.56 533.63L570.94 534.09" stroke="#64cd6f" stroke-width="2.3" stroke-linecap="round"/>
<path d="M570.94 534.09L571.30 534.57" stroke="#66cd6d" stroke-width="2.3" stroke-linecap="round"/>
<path d="M571.30 534.57L571.64 535.07" stroke="#68cd6b" stroke-width="2.3" stroke-linecap="round"/>
<path d="M571.64 535.07L571.91 535.59" stroke="#6bcd69" stroke-width="2.3" stroke-linecap="round"/>
<path d="M571.91 535.59L572.13 536.14" stroke="#6dcd68" stroke-width="2.3" stroke-linecap="round"/>
<path d="M572.13 536.14L572.28 536.71" stroke="#70cd65" stroke-width="2.3" stroke-linecap="round"/>
<path d="M572.28 536.71L572.37 537.29" stroke="#72cd63" stroke-width="2.3" stroke-linecap="round"/>
<path d="M572.37 537.29L572.41 537.89" stroke="#75cc61" stroke-width="2.3" stroke-linecap="round"/>
<path d="M572.41 537.89L572.42 538.49" stroke="#78cc5f" stroke-width="2.3" stroke-linecap="round"/>
<path d="M572.42 538.49L572.42 539.08" stroke="#7bcc5d" stroke-width="2.3" stroke-linecap="round"/>
<path d="M572.42 539.08L572.43 539.67" stroke="#7ecc5a" stroke-width="2.3" stroke-linecap="round"/>
<path d="M572.43 539.67L572.46 540.26" stroke="#81cc58" stroke-width="2.3" stroke-linecap="round"/>
<path d="M572.46 540.26L572.53 540.84" stroke="#84cb56" stroke-width="2.3" stroke-linecap="round"/>
<path d="M572.53 540.84L572.65 541.42" stroke="#87cb54" stroke-width="2.3" stroke-linecap="round"/>
<path d="M572.65 541.42L572.80 541.99" stroke="#8acb52" stroke-width="2.3" stroke-linecap="round"/>
<path d="M572.80 541.99L572.98 542.56" stroke="#8dcb4f" stroke-width="2.3" stroke-linecap="round"/>
<path d="M572.98 542.56L573.16 543.13" stroke="#90ca4d" stroke-width="2.3" stroke-linecap="round"/>
<path d="M573.16 543.13L573.33 543.70" stroke="#93ca4b" stroke-width="2.3" stroke-linecap="round"/>
<path d="M573.33 543.70L573.47 544.27" stroke="#96ca49" stroke-width="2.3" stroke-linecap="round"/>
<path d="M573.47 544.27L573.58 544.85" stroke="#98c946" stroke-width="2.3" stroke-linecap="round"/>
<path d="M573.58 544.85L573.64 545.44" stroke="#9bc944" stroke-width="2.3" stroke-linecap="round"/>
<path d="M573.64 545.44L573.67 546.03" stroke="#9ec942" stroke-width="2.3" stroke-linecap="round"/>
<path d="M573.67 546.03L573.66 546.62" stroke="#a1c840" stroke-width="2.3" stroke-linecap="round"/>
<path d="M573.66 546.62L573.62 547.21" stroke="#a4c83e" stroke-width="2.3" stroke-linecap="round"/>
<path d="M573.62 547.21L573.57 547.79" stroke="#a7c73c" stroke-width="2.3" stroke-linecap="round"/>
<path d="M573.57 547.79L573.52 548.38" stroke="#aac73a" stroke-width="2.3" stroke-linecap="round"/>
<path d="M573.52 548.38L573.47 548.97" stroke="#adc638" stroke-width="2.3" stroke-linecap="round"/>
<path d="M573.47 548.97L573.43 549.55" stroke="#b0c636" stroke-width="2.3" stroke-linecap="round"/>
<path d="M573.43 549.55L573.39 550.13" stroke="#b3c534" stroke-width="2.3" stroke-linecap="round"/>
<path d="M573.39 550.13L573.36 550.71" stroke="#b6c532" stroke-width="2.3" stroke-linecap="round"/>
<path d="M573.36 550.71L573.33 551.29" stroke="#b9c430" stroke-width="2.3" stroke-linecap="round"/>
<path d="M573.33 551.29L573.30 551.88" stroke="#bcc42f" stroke-width="2.3" stroke-linecap="round"/>
<path d="M573.30 551.88L573.27 552.46" stroke="#bfc32d" stroke-width="2.3" stroke-linecap="round"/>
<path d="M573.27 552.46L573.22 553.05" stroke="#c2c22c" stroke-width="2.3" stroke-linecap="round"/>
<path d="M573.22 553.05L573.15 553.63" stroke="#c5c22a" stroke-width="2.3" stroke-linecap="round"/>
<path d="M573.15 553.63L573.06 554.21" stroke="#c9c129" stroke-width="2.3" stroke-linecap="round"/>
<path d="M573.06 554.21L572.94 554.78" stroke="#ccc028" stroke-width="2.3" stroke-linecap="round"/>
<path d="M572.94 554.78L572.81 555.35" stroke="#cfc028" stroke-width="2.3" stroke-linecap="round"/>
<path d="M572.81 555.35L572.67 555.92" stroke="#d3bf27" stroke-width="2.3" stroke-linecap="round"/>
<path d="M572.67 555.92L572.50 556.49" stroke="#d6be28" stroke-width="2.3" stroke-linecap="round"/>
<path d="M572.50 556.49L572.32 557.04" stroke="#d9be28" stroke-width="2.3" stroke-linecap="round"/>
<path d="M572.32 557.04L572.13 557.59" stroke="#dcbd29" stroke-width="2.3" stroke-linecap="round"/>
<path d="M572.13 557.59L571.94 558.14" stroke="#dfbc2a" stroke-width="2.3" stroke-linecap="round"/>
<path d="M571.94 558.14L571.73 558.68" stroke="#e2bc2b" stroke-width="2.3" stroke-linecap="round"/>
<path d="M571.73 558.68L571.51 559.22" stroke="#e4bb2c" stroke-width="2.3" stroke-linecap="round"/>
<path d="M571.51 559.22L571.27 559.74" stroke="#e7bb2e" stroke-width="2.3" stroke-linecap="round"/>
<path d="M571.27 559.74L571.02 560.27" stroke="#eabb30" stroke-width="2.3" stroke-linecap="round"/>
<path d="M571.02 560.27L570.76 560.78" stroke="#ecba32" stroke-width="2.3" stroke-linecap="round"/>
<path d="M570.76 560.78L570.48 561.29" stroke="#eeba34" stroke-width="2.3" stroke-linecap="round"/>
<path d="M570.48 561.29L570.20 561.80" stroke="#f0ba36" stroke-width="2.3" stroke-linecap="round"/>
<path d="M570.20 561.80L569.89 562.29" stroke="#f2ba37" stroke-width="2.3" stroke-linecap="round"/>
<path d="M569.89 562.29L569.56 562.76" stroke="#f4ba39" stroke-width="2.3" stroke-linecap="round"/>
<path d="M569.56 562.76L569.20 563.22" stroke="#f5ba3b" stroke-width="2.3" stroke-linecap="round"/>
<path d="M569.20 563.22L568.82 563.66" stroke="#f7ba3c" stroke-width="2.3" stroke-linecap="round"/>
<path d="M568.82 563.66L568.43 564.09" stroke="#f9bb3d" stroke-width="2.3" stroke-linecap="round"/>
<path d="M568.43 564.09L568.04 564.51" stroke="#fabb3d" stroke-width="2.3" stroke-linecap="round"/>
<path d="M568.04 564.51L567.63 564.92" stroke="#fbbc3d" stroke-width="2.3" stroke-linecap="round"/>
<path d="M567.63 564.92L567.21 565.32" stroke="#fdbd3d" stroke-width="2.3" stroke-linecap="round"/>
<path d="M567.21 565.32L566.78 565.71" stroke="#febd3c" stroke-width="2.3" stroke-linecap="round"/>
<path d="M566.78 565.71L566.34 566.09" stroke="#febe3c" stroke-width="2.3" stroke-linecap="round"/>
<path d="M566.34 566.09L565.90 566.46" stroke="#febf3b" stroke-width="2.3" stroke-linecap="round"/>
<path d="M565.90 566.46L565.44 566.82" stroke="#fec03b" stroke-width="2.3" stroke-linecap="round"/>
<path d="M565.44 566.82L564.97 567.18" stroke="#fec03a" stroke-width="2.3" stroke-linecap="round"/>
<path d="M564.97 567.18L564.49 567.51" stroke="#fec13a" stroke-width="2.3" stroke-linecap="round"/>
<path d="M564.49 567.51L564.00 567.82" stroke="#fec239" stroke-width="2.3" stroke-linecap="round"/>
<path d="M564.00 567.82L563.50 568.13" stroke="#fec338" stroke-width="2.3" stroke-linecap="round"/>
<path d="M563.50 568.13L562.99 568.42" stroke="#fec438" stroke-width="2.3" stroke-linecap="round"/>
<path d="M562.99 568.42L562.48 568.70" stroke="#fec537" stroke-width="2.3" stroke-linecap="round"/>
<path d="M562.48 568.70L561.97 568.97" stroke="#fec537" stroke-width="2.3" stroke-linecap="round"/>
<path d="M561.97 568.97L561.44 569.23" stroke="#fec636" stroke-width="2.3" stroke-linecap="round"/>
<path d="M561.44 569.23L560.92 569.49" stroke="#fec735" stroke-width="2.3" stroke-linecap="round"/>
<path d="M560.92 569.49L560.39 569.73" stroke="#fec835" stroke-width="2.3" stroke-linecap="round"/>
<path d="M560.39 569.73L559.86 569.96" stroke="#fec934" stroke-width="2.3" stroke-linecap="round"/>
<path d="M559.86 569.96L559.32 570.19" stroke="#fdcb33" stroke-width="2.3" stroke-linecap="round"/>
<path d="M559.32 570.19L558.77 570.40" stroke="#fdcc32" stroke-width="2.3" stroke-linecap="round"/>
<path d="M558.77 570.40L558.22 570.60" stroke="#fdcd31" stroke-width="2.3" stroke-linecap="round"/>
<path d="M558.22 570.60L557.67 570.80" stroke="#fdce31" stroke-width="2.3" stroke-linecap="round"/>
<path d="M557.67 570.80L557.11 570.98" stroke="#fcd030" stroke-width="2.3" stroke-linecap="round"/>
<path d="M557.11 570.98L556.55 571.16" stroke="#fcd12f" stroke-width="2.3" stroke-linecap="round"/>
<path d="M556.55 571.16L555.99 571.33" stroke="#fbd22f" stroke-width="2.3" stroke-linecap="round"/>
<path d="M555.99 571.33L555.42 571.49" stroke="#fbd32e" stroke-width="2.3" stroke-linecap="round"/>
<path d="M555.42 571.49L554.86 571.65" stroke="#fad52e" stroke-width="2.3" stroke-linecap="round"/>
<path d="M554.86 571.65L554.29 571.81" stroke="#f9d62d" stroke-width="2.3" stroke-linecap="round"/>
<path d="M554.29 571.81L553.72 571.96" stroke="#f9d72c" stroke-width="2.3" stroke-linecap="round"/>
<path d="M553.72 571.96L553.15 572.11" stroke="#f8d92c" stroke-width="2.3" stroke-linecap="round"/>
<path d="M553.15 572.11L552.58 572.25" stroke="#f8da2b" stroke-width="2.3" stroke-linecap="round"/>
<path d="M552.58 572.25L552.01 572.38" stroke="#f7db2a" stroke-width="2.3" stroke-linecap="round"/>
<path d="M552.01 572.38L551.44 572.51" stroke="#f7dd2a" stroke-width="2.3" stroke-linecap="round"/>
<path d="M551.44 572.51L550.87 572.64" stroke="#f6de29" stroke-width="2.3" stroke-linecap="round"/>
<path d="M550.87 572.64L550.29 572.76" stroke="#f6df29" stroke-width="2.3" stroke-linecap="round"/>
<path d="M550.29 572.76L549.71 572.87" stroke="#f6e128" stroke-width="2.3" stroke-linecap="round"/>
<path d="M549.71 572.87L549.14 572.98" stroke="#f5e228" stroke-width="2.3" stroke-linecap="round"/>
<path d="M549.14 572.98L548.56 573.08" stroke="#f5e327" stroke-width="2.3" stroke-linecap="round"/>
<path d="M548.56 573.08L547.98 573.19" stroke="#f5e526" stroke-width="2.3" stroke-linecap="round"/>
<path d="M547.98 573.19L547.40 573.29" stroke="#f5e626" stroke-width="2.3" stroke-linecap="round"/>
<path d="M547.40 573.29L546.82 573.40" stroke="#f5e725" stroke-width="2.3" stroke-linecap="round"/>
<path d="M546.82 573.40L546.24 573.51" stroke="#f5e825" stroke-width="2.3" stroke-linecap="round"/>
<path d="M546.24 573.51L545.66 573.62" stroke="#f5ea24" stroke-width="2.3" stroke-linecap="round"/>
<path d="M545.66 573.62L545.09 573.73" stroke="#f5eb23" stroke-width="2.3" stroke-linecap="round"/>
<path d="M545.09 573.73L544.51 573.84" stroke="#f5ec22" stroke-width="2.3" stroke-linecap="round"/>
<path d="M544.51 573.84L543.93 573.96" stroke="#f5ed21" stroke-width="2.3" stroke-linecap="round"/>
<path d="M543.93 573.96L543.39 574.06" stroke="#f5ef20" stroke-width="2.3" stroke-linecap="round"/>
<path d="M543.39 574.06L542.89 574.17" stroke="#f6f01f" stroke-width="2.3" stroke-linecap="round"/>
<path d="M542.89 574.17L542.43 574.26" stroke="#f6f21e" stroke-width="2.3" stroke-linecap="round"/>
<path d="M542.43 574.26L542.01 574.35" stroke="#f7f31d" stroke-width="2.3" stroke-linecap="round"/>
<path d="M542.01 574.35L541.63 574.43" stroke="#f7f41c" stroke-width="2.3" stroke-linecap="round"/>
<path d="M541.63 574.43L541.28 574.50" stroke="#f7f61a" stroke-width="2.3" stroke-linecap="round"/>
<path d="M541.28 574.50L540.97 574.57" stroke="#f8f719" stroke-width="2.3" stroke-linecap="round"/>
<path d="M496.00 477.70h7.40l-3.70 7.96z" fill="#3b2fd0"/>
<path d="M535.80 571.55h7.00l-3.50 7.52z" fill="#f6f216"/>
<path d="M496.90 555.00h5.60l-2.80 6.02z" fill="#f6f216"/>
<text x="500.20" y="469.80" text-anchor="middle" font-family="Liberation Serif,serif" font-style="italic" font-size="16.5" fill="#111">z&#x302;</text>
<text x="582.69" y="549.35" text-anchor="middle" font-family="Liberation Serif,serif" font-style="italic" font-size="16.5" fill="#111">y&#x302;</text>
<text x="546.90" y="598.05" text-anchor="middle" font-family="Liberation Serif,serif" font-style="italic" font-size="16.5" fill="#111">x</text>
<text x="548.30" y="597.45" text-anchor="middle" font-family="Liberation Serif,serif" font-style="italic" font-size="16.5" fill="#111">&#x2C6;</text>
<g font-size="17.1" font-weight="bold" fill="#000">
<text transform="translate(401.00 438.90) scale(1.12 1)" font-family="Liberation Serif,serif" font-style="italic" font-weight="bold" font-size="19">ψ</text>
<text x="415.00" y="438.90">(t) = H(t)</text>
<text transform="translate(481.00 438.90) scale(1.12 1)" font-family="Liberation Serif,serif" font-style="italic" font-weight="bold" font-size="19">ψ</text>
<text x="494.40" y="445.80" font-size="13.4">0</text>
<text x="506.30" y="438.90" font-size="17.3">Rot. Frame</text>
</g>
<defs><linearGradient id="cbrot" x1="0" y1="1" x2="0" y2="0"><stop offset="0.0000" stop-color="#3e26a8"/><stop offset="0.0159" stop-color="#402ab4"/><stop offset="0.0317" stop-color="#422ec0"/><stop offset="0.0476" stop-color="#4332cb"/><stop offset="0.0635" stop-color="#4537d5"/><stop offset="0.0794" stop-color="#463cde"/><stop offset="0.0952" stop-color="#4741e5"/><stop offset="0.1111" stop-color="#4747eb"/><stop offset="0.1270" stop-color="#484df0"/><stop offset="0.1429" stop-color="#4852f4"/><stop offset="0.1587" stop-color="#4758f8"/><stop offset="0.1746" stop-color="#465efb"/><stop offset="0.1905" stop-color="#4563fd"/><stop offset="0.2063" stop-color="#4269fe"/><stop offset="0.2222" stop-color="#3e6fff"/><stop offset="0.2381" stop-color="#3875fe"/><stop offset="0.2540" stop-color="#327cfc"/><stop offset="0.2698" stop-color="#2f81fa"/><stop offset="0.2857" stop-color="#2e87f7"/><stop offset="0.3016" stop-color="#2d8cf3"/><stop offset="0.3175" stop-color="#2b91ef"/><stop offset="0.3333" stop-color="#2797eb"/><stop offset="0.3492" stop-color="#259be8"/><stop offset="0.3651" stop-color="#23a0e5"/><stop offset="0.3810" stop-color="#20a5e3"/><stop offset="0.3968" stop-color="#1ca9df"/><stop offset="0.4127" stop-color="#18addb"/><stop offset="0.4286" stop-color="#12b1d6"/><stop offset="0.4444" stop-color="#08b5d0"/><stop offset="0.4603" stop-color="#01b8ca"/><stop offset="0.4762" stop-color="#02bac3"/><stop offset="0.4921" stop-color="#0bbdbd"/><stop offset="0.5079" stop-color="#19bfb6"/><stop offset="0.5238" stop-color="#24c1ae"/><stop offset="0.5397" stop-color="#2cc4a7"/><stop offset="0.5556" stop-color="#31c69f"/><stop offset="0.5714" stop-color="#37c897"/><stop offset="0.5873" stop-color="#3fca8e"/><stop offset="0.6032" stop-color="#4acb84"/><stop offset="0.6190" stop-color="#57cc7a"/><stop offset="0.6349" stop-color="#64cd6f"/><stop offset="0.6508" stop-color="#72cd64"/><stop offset="0.6667" stop-color="#81cc59"/><stop offset="0.6825" stop-color="#8fcb4e"/><stop offset="0.6984" stop-color="#9dc943"/><stop offset="0.7143" stop-color="#abc739"/><stop offset="0.7302" stop-color="#b9c431"/><stop offset="0.7460" stop-color="#c5c22a"/><stop offset="0.7619" stop-color="#d1bf27"/><stop offset="0.7778" stop-color="#dcbd29"/><stop offset="0.7937" stop-color="#e6bb2d"/><stop offset="0.8095" stop-color="#f0ba36"/><stop offset="0.8254" stop-color="#f8ba3d"/><stop offset="0.8413" stop-color="#febe3c"/><stop offset="0.8571" stop-color="#fec338"/><stop offset="0.8730" stop-color="#fec934"/><stop offset="0.8889" stop-color="#fccf30"/><stop offset="0.9048" stop-color="#fad62d"/><stop offset="0.9206" stop-color="#f7dc2a"/><stop offset="0.9365" stop-color="#f5e327"/><stop offset="0.9524" stop-color="#f5e924"/><stop offset="0.9683" stop-color="#f6ef20"/><stop offset="0.9841" stop-color="#f7f51b"/><stop offset="1.0000" stop-color="#f9fb15"/></linearGradient></defs>
<rect x="630.00" y="401.80" width="11.90" height="312.20" fill="url(#cbrot)"/>
<rect x="630.00" y="401.80" width="11.90" height="312.20" fill="none" stroke="#3c3c3c" stroke-width="0.7"/>
<path d="M641.90 714.00h-3.2" stroke="#3c3c3c" stroke-width="0.7"/>
<text x="646.20" y="720.90" font-size="15.3" fill="#262626">0</text>
<path d="M641.90 653.80h-3.2" stroke="#3c3c3c" stroke-width="0.7"/>
<text x="646.20" y="660.70" font-size="15.3" fill="#262626">10</text>
<path d="M641.90 593.60h-3.2" stroke="#3c3c3c" stroke-width="0.7"/>
<text x="646.20" y="600.50" font-size="15.3" fill="#262626">20</text>
<path d="M641.90 533.40h-3.2" stroke="#3c3c3c" stroke-width="0.7"/>
<text x="646.20" y="540.30" font-size="15.3" fill="#262626">30</text>
<path d="M641.90 473.20h-3.2" stroke="#3c3c3c" stroke-width="0.7"/>
<text x="646.20" y="480.10" font-size="15.3" fill="#262626">40</text>
<path d="M641.90 413.00h-3.2" stroke="#3c3c3c" stroke-width="0.7"/>
<text x="646.20" y="419.90" font-size="15.3" fill="#262626">50</text>
<text transform="translate(678.90 558.20) rotate(-90)" text-anchor="middle" font-size="15.3" fill="#262626">t [ns]</text>
</g>
</svg></body></html>
